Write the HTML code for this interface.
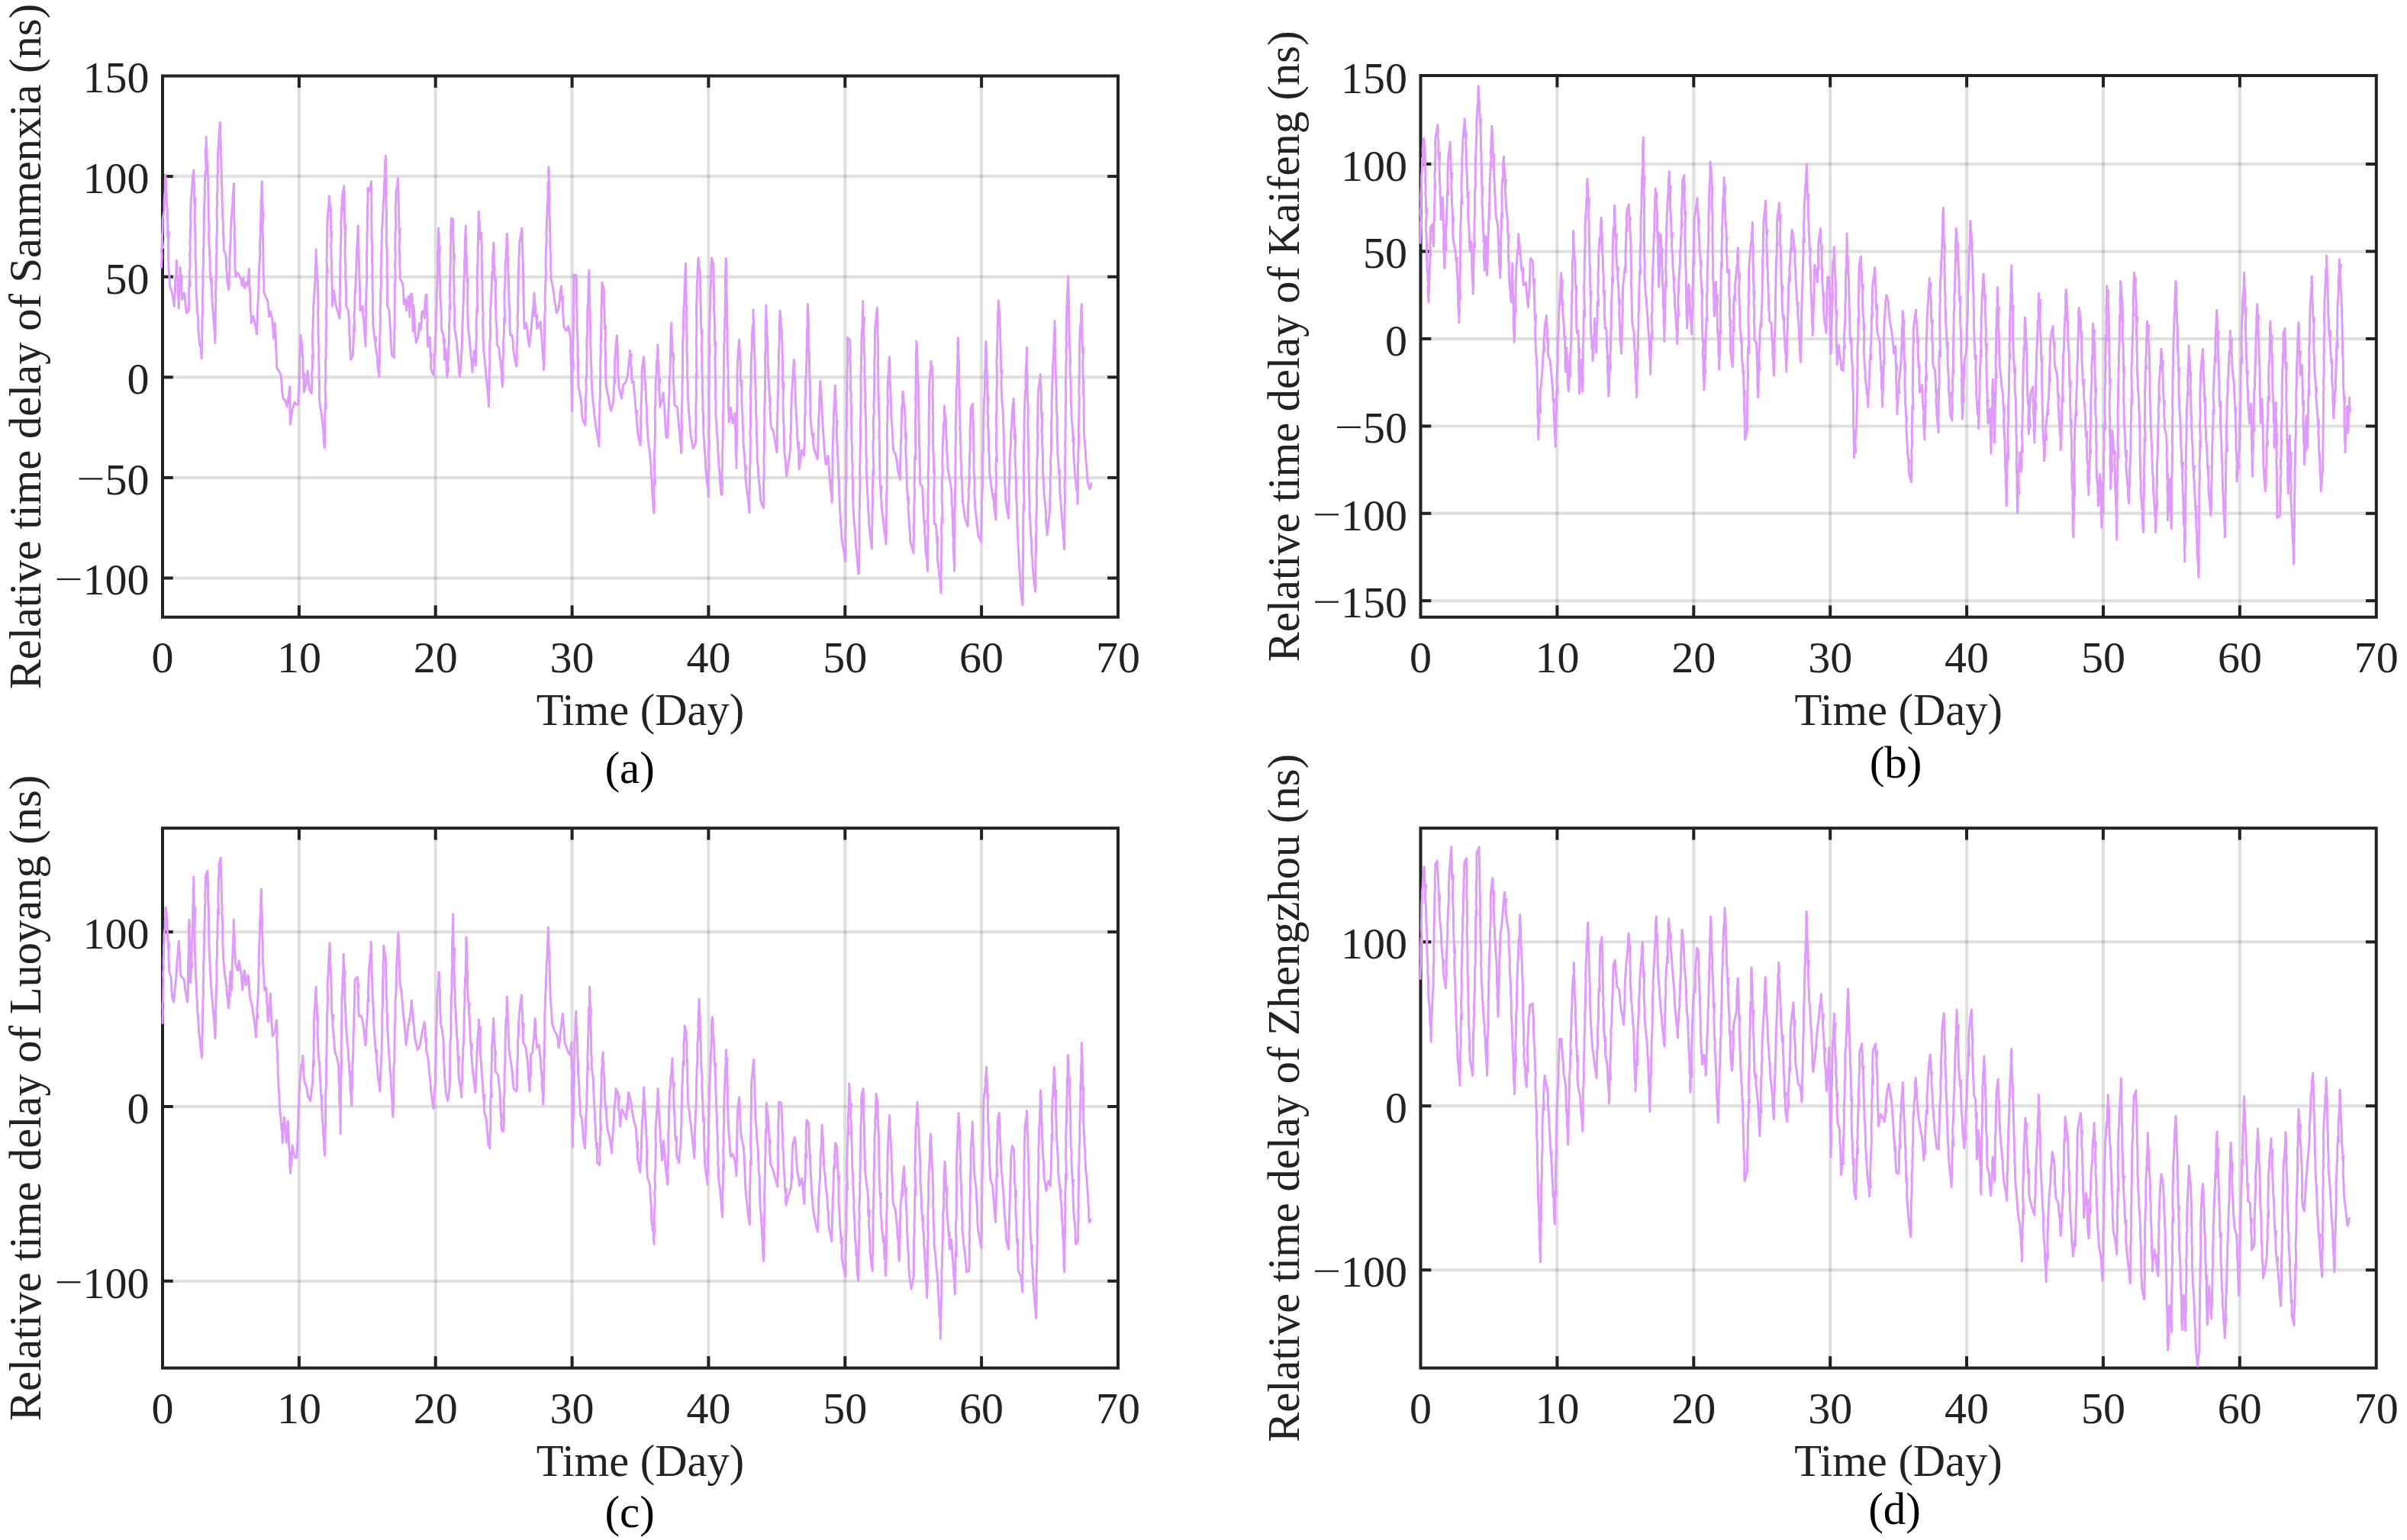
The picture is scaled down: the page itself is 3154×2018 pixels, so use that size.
<!DOCTYPE html>
<html><head><meta charset="utf-8"><style>
html,body{margin:0;padding:0;background:#fff;width:3154px;height:2018px;overflow:hidden}
svg{display:block}
text{font-family:"Liberation Serif",serif;font-size:58px;fill:#222}
text.lab{font-size:58.5px}
text.cap{font-size:59px;fill:#000}
</style></head><body>
<svg width="3154" height="2018" viewBox="0 0 3154 2018">
<rect width="3154" height="2018" fill="#fff"/>
<line x1="391.9" y1="99.5" x2="391.9" y2="808.7" stroke="#262626" stroke-opacity="0.15" stroke-width="4"/>
<line x1="570.7" y1="99.5" x2="570.7" y2="808.7" stroke="#262626" stroke-opacity="0.15" stroke-width="4"/>
<line x1="749.6" y1="99.5" x2="749.6" y2="808.7" stroke="#262626" stroke-opacity="0.15" stroke-width="4"/>
<line x1="928.4" y1="99.5" x2="928.4" y2="808.7" stroke="#262626" stroke-opacity="0.15" stroke-width="4"/>
<line x1="1107.3" y1="99.5" x2="1107.3" y2="808.7" stroke="#262626" stroke-opacity="0.15" stroke-width="4"/>
<line x1="1286.1" y1="99.5" x2="1286.1" y2="808.7" stroke="#262626" stroke-opacity="0.15" stroke-width="4"/>
<line x1="213.0" y1="231.1" x2="1465.0" y2="231.1" stroke="#262626" stroke-opacity="0.15" stroke-width="4"/>
<line x1="213.0" y1="362.7" x2="1465.0" y2="362.7" stroke="#262626" stroke-opacity="0.15" stroke-width="4"/>
<line x1="213.0" y1="494.3" x2="1465.0" y2="494.3" stroke="#262626" stroke-opacity="0.15" stroke-width="4"/>
<line x1="213.0" y1="625.9" x2="1465.0" y2="625.9" stroke="#262626" stroke-opacity="0.15" stroke-width="4"/>
<line x1="213.0" y1="757.5" x2="1465.0" y2="757.5" stroke="#262626" stroke-opacity="0.15" stroke-width="4"/>
<line x1="391.9" y1="808.7" x2="391.9" y2="793.3" stroke="#222222" stroke-width="4"/>
<line x1="391.9" y1="99.5" x2="391.9" y2="114.9" stroke="#222222" stroke-width="4"/>
<line x1="570.7" y1="808.7" x2="570.7" y2="793.3" stroke="#222222" stroke-width="4"/>
<line x1="570.7" y1="99.5" x2="570.7" y2="114.9" stroke="#222222" stroke-width="4"/>
<line x1="749.6" y1="808.7" x2="749.6" y2="793.3" stroke="#222222" stroke-width="4"/>
<line x1="749.6" y1="99.5" x2="749.6" y2="114.9" stroke="#222222" stroke-width="4"/>
<line x1="928.4" y1="808.7" x2="928.4" y2="793.3" stroke="#222222" stroke-width="4"/>
<line x1="928.4" y1="99.5" x2="928.4" y2="114.9" stroke="#222222" stroke-width="4"/>
<line x1="1107.3" y1="808.7" x2="1107.3" y2="793.3" stroke="#222222" stroke-width="4"/>
<line x1="1107.3" y1="99.5" x2="1107.3" y2="114.9" stroke="#222222" stroke-width="4"/>
<line x1="1286.1" y1="808.7" x2="1286.1" y2="793.3" stroke="#222222" stroke-width="4"/>
<line x1="1286.1" y1="99.5" x2="1286.1" y2="114.9" stroke="#222222" stroke-width="4"/>
<line x1="213.0" y1="231.1" x2="226.8" y2="231.1" stroke="#222222" stroke-width="4"/>
<line x1="1465.0" y1="231.1" x2="1451.2" y2="231.1" stroke="#222222" stroke-width="4"/>
<line x1="213.0" y1="362.7" x2="226.8" y2="362.7" stroke="#222222" stroke-width="4"/>
<line x1="1465.0" y1="362.7" x2="1451.2" y2="362.7" stroke="#222222" stroke-width="4"/>
<line x1="213.0" y1="494.3" x2="226.8" y2="494.3" stroke="#222222" stroke-width="4"/>
<line x1="1465.0" y1="494.3" x2="1451.2" y2="494.3" stroke="#222222" stroke-width="4"/>
<line x1="213.0" y1="625.9" x2="226.8" y2="625.9" stroke="#222222" stroke-width="4"/>
<line x1="1465.0" y1="625.9" x2="1451.2" y2="625.9" stroke="#222222" stroke-width="4"/>
<line x1="213.0" y1="757.5" x2="226.8" y2="757.5" stroke="#222222" stroke-width="4"/>
<line x1="1465.0" y1="757.5" x2="1451.2" y2="757.5" stroke="#222222" stroke-width="4"/>
<rect x="213.0" y="99.5" width="1252.0" height="709.2" fill="none" stroke="#222222" stroke-width="4"/>
<path d="M211.4,351.6 L211.8,343.3 L212.2,335.5 L211.7,327.4 L212.4,317.5 L213.6,324.7 L212.3,311.3 L213.0,303.3 L213.2,295.4 L213.2,287.3 L215.2,275.7 L215.2,266.4 L215.6,257.2 L216.3,247.7 L216.3,238.4 L216.7,228.9 L217.5,237.4 L217.4,246.4 L218.3,255.3 L218.3,264.1 L219.0,272.7 L219.5,281.1 L219.2,288.8 L220.0,297.0 L219.5,305.4 L220.0,311.7 L221.2,304.0 L220.4,322.1 L220.6,330.2 L220.6,338.3 L220.9,346.5 L221.1,354.6 L222.2,364.5 L222.5,375.0 L225.5,383.8 L227.1,392.4 L228.4,401.3 L228.4,393.0 L229.4,384.2 L229.7,375.6 L229.7,366.8 L230.8,358.8 L231.2,349.8 L231.3,341.4 L232.0,350.3 L231.8,359.1 L232.9,368.4 L233.2,377.0 L233.4,386.1 L234.2,395.0 L234.2,404.2 L234.7,395.2 L234.7,386.4 L235.3,377.2 L235.5,368.3 L235.9,359.0 L236.3,350.2 L236.4,358.8 L237.2,367.7 L238.4,361.8 L237.9,375.9 L238.0,384.0 L238.6,392.5 L241.5,383.8 L242.6,392.3 L243.2,401.3 L244.5,410.1 L247.4,407.2 L247.8,398.9 L247.5,391.0 L247.6,382.6 L248.2,367.3 L249.4,374.3 L248.0,358.3 L248.9,350.4 L249.0,342.1 L248.7,333.8 L249.4,325.8 L248.8,318.0 L249.4,310.0 L249.3,301.6 L250.0,293.5 L249.5,285.4 L249.8,277.1 L250.0,268.9 L250.3,261.0 L251.2,252.0 L251.8,243.5 L252.5,233.1 L253.8,223.1 L253.9,231.6 L254.5,239.9 L254.8,248.7 L254.5,256.9 L254.8,266.6 L256.0,259.5 L255.3,274.0 L255.1,282.7 L255.1,291.2 L255.8,299.8 L255.9,308.3 L256.1,317.0 L256.1,325.3 L255.9,333.6 L256.4,341.3 L256.7,349.7 L256.8,357.6 L256.9,365.5 L256.9,373.8 L257.2,381.3 L257.6,389.6 L258.1,397.7 L258.2,405.9 L259.4,414.7 L259.9,422.6 L259.8,430.9 L260.5,439.3 L261.4,449.8 L262.3,453.5 L263.5,448.7 L263.2,459.5 L264.3,470.0 L264.4,461.5 L264.7,453.6 L264.7,445.2 L264.8,436.7 L265.1,428.4 L264.8,420.4 L265.3,411.8 L265.7,404.0 L265.2,395.5 L265.7,387.1 L265.6,379.2 L266.1,370.8 L265.7,362.4 L266.1,353.8 L266.3,345.6 L266.5,337.5 L266.3,329.5 L267.1,321.0 L267.0,312.7 L267.3,304.7 L267.2,296.1 L267.4,288.0 L267.3,279.2 L267.7,270.8 L268.0,262.9 L268.5,254.4 L268.1,246.0 L268.5,237.8 L269.1,223.9 L270.3,228.3 L269.7,212.5 L269.4,204.1 L269.4,195.8 L270.4,187.7 L270.2,179.2 L270.3,188.8 L271.1,197.8 L271.1,207.0 L272.2,216.8 L272.2,226.0 L272.8,234.2 L272.7,242.0 L272.9,250.0 L273.1,258.2 L273.1,266.0 L273.1,274.5 L273.3,282.5 L273.7,290.5 L274.1,298.5 L273.6,306.5 L273.8,314.5 L274.1,322.4 L274.6,330.2 L274.9,338.3 L275.2,346.3 L275.1,354.6 L275.8,363.1 L276.3,371.1 L277.5,364.3 L277.2,379.6 L277.8,388.1 L278.1,396.3 L278.7,404.7 L279.5,413.0 L280.1,422.1 L280.7,431.2 L280.9,433.8 L282.1,426.8 L281.5,440.4 L281.9,449.5 L282.0,441.2 L282.3,433.3 L282.0,425.3 L282.4,417.6 L282.3,409.2 L282.4,401.0 L282.9,393.4 L282.4,384.9 L283.0,377.1 L283.0,369.1 L283.4,361.0 L283.3,353.0 L283.4,345.2 L283.6,337.1 L284.0,328.7 L283.6,321.0 L283.8,312.7 L284.3,305.1 L284.3,297.0 L284.6,288.8 L284.0,280.9 L284.2,272.8 L284.9,264.7 L284.3,256.8 L285.1,248.6 L285.1,240.6 L284.8,232.5 L285.5,224.6 L285.2,216.6 L285.4,208.4 L285.6,200.3 L286.3,192.1 L286.7,184.4 L287.1,176.5 L287.7,168.5 L288.3,160.2 L288.9,168.2 L288.4,176.9 L289.0,184.7 L289.4,193.3 L289.2,201.0 L289.8,209.4 L289.9,217.7 L290.3,225.6 L290.4,234.2 L290.6,242.3 L291.1,250.2 L291.0,258.6 L291.2,266.9 L291.4,275.9 L291.7,284.2 L292.5,293.3 L292.4,302.2 L292.9,310.5 L293.2,319.7 L293.3,328.3 L295.6,332.6 L296.4,341.7 L296.5,350.9 L297.3,359.8 L297.9,369.2 L300.0,379.4 L300.3,371.0 L300.2,363.0 L300.9,355.3 L300.9,347.1 L300.9,339.0 L301.2,331.0 L301.5,322.8 L302.4,314.8 L302.2,306.3 L302.6,298.2 L302.9,290.3 L303.5,281.8 L304.2,274.0 L304.9,265.2 L305.0,257.0 L305.9,248.9 L306.4,240.6 L306.8,248.9 L306.4,257.3 L306.7,266.1 L306.5,274.7 L306.7,283.0 L306.9,291.2 L307.4,299.7 L307.1,308.3 L307.6,316.8 L307.7,325.5 L307.8,333.6 L307.8,342.0 L307.9,350.7 L309.0,362.5 L310.7,357.4 L312.9,359.1 L315.5,365.8 L317.1,374.3 L318.8,364.2 L320.5,377.7 L322.2,370.9 L323.9,374.3 L325.2,364.2 L326.4,352.3 L326.7,361.0 L326.7,370.3 L327.3,378.8 L328.2,387.7 L328.0,396.7 L328.3,405.8 L329.2,414.1 L329.2,423.2 L332.1,414.5 L334.6,426.3 L336.5,437.8 L336.7,429.7 L337.3,421.5 L337.2,413.0 L337.5,405.0 L338.0,397.0 L338.5,388.9 L338.9,380.8 L339.1,372.4 L339.2,364.1 L339.3,356.2 L339.8,347.8 L340.3,339.9 L340.8,331.4 L340.5,323.0 L340.9,314.4 L341.5,306.1 L341.2,297.0 L341.7,289.1 L341.9,280.6 L341.9,272.0 L342.2,263.5 L342.9,254.7 L342.8,246.2 L343.2,237.7 L343.3,245.5 L343.5,253.7 L343.4,262.2 L344.1,269.6 L344.0,284.2 L345.2,277.8 L344.2,293.9 L344.0,302.2 L344.5,309.9 L344.6,318.0 L344.8,326.3 L344.8,334.3 L345.0,342.3 L345.1,350.3 L345.1,358.7 L345.8,366.6 L345.8,374.4 L345.8,382.7 L348.4,389.5 L350.9,394.5 L351.8,404.7 L352.6,414.8 L354.3,408.1 L356.8,418.2 L357.5,426.8 L358.0,435.1 L358.5,443.5 L359.0,433.1 L360.2,423.2 L360.6,433.3 L361.4,443.5 L361.5,453.3 L362.0,463.0 L362.6,472.9 L362.7,482.3 L365.3,485.7 L367.8,490.8 L369.0,500.9 L369.5,511.0 L371.2,522.9 L373.7,524.5 L376.2,533.0 L377.3,523.9 L378.8,515.5 L379.8,506.5 L380.2,514.7 L379.9,523.1 L380.1,531.6 L379.9,539.8 L380.2,547.8 L380.3,556.2 L381.6,546.0 L383.3,535.7 L386.2,527.0 L387.9,529.9 L390.8,529.9 L391.0,521.4 L391.5,513.4 L391.9,505.3 L392.2,497.1 L392.2,488.6 L392.4,480.5 L392.6,472.3 L393.0,464.1 L393.4,455.9 L393.6,447.7 L393.8,439.3 L396.1,453.9 L396.1,462.2 L397.0,471.2 L396.8,479.6 L397.1,488.0 L397.6,496.1 L398.8,489.7 L398.0,505.1 L398.2,513.8 L401.1,503.6 L401.9,494.8 L403.1,486.1 L403.9,494.5 L404.5,502.5 L405.5,510.9 L408.4,515.3 L408.4,507.2 L409.1,498.8 L408.5,490.9 L409.4,482.9 L409.4,474.4 L409.4,464.5 L410.6,469.5 L409.5,449.9 L409.6,441.8 L409.7,433.8 L410.2,425.5 L410.1,417.4 L410.8,409.6 L410.7,401.3 L411.5,391.6 L412.1,381.7 L412.8,372.1 L413.0,363.1 L413.1,353.8 L413.7,345.0 L413.9,335.7 L414.2,326.8 L414.2,334.9 L414.8,343.0 L415.3,351.5 L415.3,359.1 L416.2,367.6 L416.4,375.5 L416.6,383.8 L417.0,392.3 L417.0,400.5 L416.6,408.5 L416.8,416.9 L417.0,425.3 L416.9,433.6 L417.2,441.5 L417.3,449.8 L418.0,457.9 L417.6,466.0 L417.9,474.5 L418.2,482.7 L417.9,490.8 L418.3,499.6 L418.7,507.5 L418.3,516.0 L418.6,524.1 L419.9,534.4 L421.5,544.5 L422.3,552.9 L423.3,561.2 L424.1,569.9 L424.3,578.3 L425.3,586.9 L425.7,578.6 L425.8,570.9 L425.9,562.7 L425.5,554.6 L425.6,546.6 L426.1,539.0 L426.2,526.7 L427.4,534.6 L426.2,514.7 L426.1,506.3 L426.8,498.2 L426.8,490.2 L426.6,482.2 L426.5,474.1 L427.3,466.3 L427.0,458.0 L427.3,450.5 L427.4,442.2 L427.2,434.0 L428.0,425.5 L427.5,417.7 L427.4,409.3 L428.1,401.1 L428.1,392.7 L428.0,384.5 L427.9,376.3 L428.1,368.2 L428.3,352.0 L429.5,357.3 L428.0,343.5 L428.3,335.2 L428.2,327.0 L428.6,318.6 L428.8,310.1 L428.8,302.0 L428.9,292.7 L429.4,283.9 L430.1,274.8 L430.5,269.4 L431.7,276.5 L430.9,266.0 L431.2,256.7 L432.1,264.9 L433.2,272.7 L433.4,281.0 L433.5,288.9 L433.7,296.7 L433.8,310.9 L435.0,303.5 L433.7,321.1 L434.1,329.0 L434.0,336.9 L434.7,345.0 L434.2,352.8 L434.9,361.0 L434.9,368.9 L435.2,377.0 L435.2,385.1 L435.3,393.5 L435.3,401.3 L436.1,391.0 L437.6,380.9 L438.8,391.2 L440.5,401.3 L442.8,409.1 L444.9,417.4 L445.2,409.1 L445.6,400.7 L445.0,391.8 L445.8,383.7 L445.6,374.8 L445.4,366.7 L446.0,358.1 L445.6,349.5 L445.9,340.9 L446.4,332.8 L446.3,324.5 L446.6,315.8 L447.1,307.2 L446.8,298.8 L447.0,290.3 L447.4,281.8 L447.8,272.9 L448.0,269.3 L449.2,275.0 L448.1,264.2 L448.7,255.2 L450.8,243.5 L451.3,252.0 L451.2,260.1 L451.5,268.3 L451.2,277.0 L451.7,284.9 L451.8,299.9 L453.0,295.5 L452.2,310.0 L452.5,318.5 L452.0,326.4 L452.1,334.8 L452.5,343.4 L453.0,351.7 L452.6,360.0 L453.0,367.9 L453.4,376.1 L453.7,384.9 L453.7,393.2 L453.7,401.3 L456.6,407.2 L457.0,415.1 L457.6,423.4 L457.7,431.2 L457.9,439.2 L458.6,447.0 L458.4,455.4 L459.3,463.5 L459.5,471.4 L462.4,465.6 L462.7,457.1 L463.1,448.6 L463.6,440.3 L463.6,431.8 L463.8,425.9 L465.0,433.9 L464.0,414.7 L464.7,406.2 L464.8,397.5 L464.9,389.2 L465.4,380.9 L466.1,372.6 L466.3,364.0 L466.8,355.6 L467.0,347.1 L467.2,338.5 L467.4,330.0 L467.9,321.6 L468.5,313.3 L468.9,304.3 L469.2,296.1 L469.3,304.7 L469.4,313.4 L469.6,321.9 L470.1,330.5 L470.2,338.8 L470.7,347.7 L470.7,356.1 L471.0,364.7 L471.2,373.1 L471.8,381.5 L471.7,390.2 L471.8,398.5 L472.1,407.2 L475.0,401.3 L475.6,410.0 L476.2,418.6 L477.3,427.6 L477.7,436.1 L478.6,445.2 L479.1,453.9 L479.0,445.4 L479.3,437.2 L479.3,429.1 L479.2,420.8 L479.7,412.4 L479.4,404.3 L479.5,395.8 L479.9,387.5 L479.9,379.5 L480.6,370.7 L480.7,362.3 L480.8,354.4 L480.6,346.0 L480.5,337.4 L480.7,329.7 L481.0,321.2 L480.9,312.8 L481.1,304.5 L481.6,296.4 L481.2,287.7 L481.7,279.8 L481.4,271.2 L482.2,263.0 L481.9,254.4 L482.0,246.4 L484.4,250.8 L486.4,237.7 L486.8,246.0 L486.7,254.1 L486.8,262.0 L486.9,270.1 L486.9,278.2 L486.8,286.3 L487.0,294.6 L487.0,302.6 L487.0,310.6 L487.6,319.2 L487.5,326.9 L487.8,335.2 L487.4,343.1 L488.2,351.6 L487.6,359.4 L488.2,367.8 L488.1,375.8 L488.4,384.0 L488.4,392.4 L488.4,400.2 L488.3,408.5 L488.8,416.3 L488.7,424.7 L489.8,433.3 L490.6,442.3 L491.6,447.5 L492.8,442.0 L491.7,451.2 L493.1,459.8 L494.4,468.4 L494.6,476.8 L495.7,485.2 L496.9,493.4 L496.9,484.9 L497.3,476.6 L497.7,468.5 L497.3,460.1 L497.7,452.0 L497.7,443.2 L498.2,435.0 L498.0,426.6 L498.6,418.7 L498.1,410.3 L498.3,401.8 L498.9,393.3 L498.5,385.4 L499.1,377.1 L499.5,368.7 L499.3,360.2 L499.1,352.0 L499.8,343.4 L499.5,335.4 L500.1,326.9 L500.0,318.5 L500.3,310.5 L500.4,302.0 L501.2,293.0 L501.5,284.6 L502.1,275.9 L502.2,266.7 L503.0,258.2 L503.4,249.4 L503.4,240.5 L504.2,231.2 L504.3,222.2 L504.6,213.3 L505.4,204.1 L505.5,212.1 L505.9,220.5 L505.8,228.8 L506.2,237.1 L506.3,245.3 L506.2,253.6 L506.0,261.5 L505.9,269.8 L506.7,278.3 L506.5,286.1 L506.2,294.2 L506.8,302.6 L506.3,311.2 L506.5,318.9 L507.0,327.6 L507.2,335.3 L507.4,343.7 L507.0,352.3 L507.3,360.4 L507.5,368.3 L507.5,376.8 L507.7,384.9 L507.2,393.0 L507.7,401.3 L510.1,407.2 L510.5,415.5 L510.9,423.8 L511.7,432.5 L511.9,440.4 L512.2,449.0 L512.8,457.0 L513.6,465.6 L516.5,468.5 L516.4,460.6 L516.5,452.4 L516.8,444.2 L516.7,436.2 L517.2,428.3 L517.1,420.4 L517.2,412.2 L517.0,404.4 L517.4,396.4 L517.2,388.3 L517.3,380.1 L517.6,372.3 L518.0,364.2 L518.0,356.5 L517.5,348.1 L518.1,340.5 L518.2,332.4 L517.7,324.1 L517.9,316.5 L517.9,308.4 L518.4,300.1 L518.7,292.2 L518.4,284.5 L518.2,276.5 L518.4,268.0 L519.0,260.5 L518.8,252.3 L520.5,243.0 L521.5,233.3 L521.7,241.8 L522.0,249.5 L522.2,258.1 L522.3,266.2 L522.3,274.5 L522.6,282.5 L522.8,290.8 L523.0,306.0 L524.2,299.6 L523.4,315.5 L523.0,323.9 L523.5,331.7 L523.8,340.3 L523.8,348.4 L524.3,356.8 L524.2,364.7 L527.6,371.4 L528.5,380.2 L528.9,389.2 L529.3,398.4 L531.0,391.7 L532.7,406.9 L534.0,397.6 L535.2,388.3 L536.1,397.3 L536.7,406.4 L536.9,415.3 L537.0,405.2 L537.8,395.3 L538.2,384.9 L539.9,384.9 L540.3,392.8 L540.4,401.4 L540.6,412.2 L541.8,404.7 L540.7,417.7 L541.0,425.5 L541.1,433.9 L541.3,425.5 L541.4,416.8 L542.0,408.5 L541.9,400.1 L542.6,409.1 L543.1,418.1 L543.4,426.9 L543.6,435.6 L545.3,449.1 L547.9,442.3 L548.9,432.9 L549.5,423.8 L551.2,432.2 L552.3,420.3 L552.9,408.6 L555.5,406.9 L556.3,417.0 L556.5,406.8 L557.1,396.8 L558.0,386.6 L559.2,386.6 L559.1,395.1 L559.2,403.3 L559.7,412.1 L560.1,420.6 L559.7,428.6 L560.3,437.6 L560.1,445.5 L560.5,454.2 L562.2,442.3 L563.6,442.3 L563.6,450.7 L563.8,459.4 L564.3,468.6 L565.5,463.5 L564.7,475.8 L564.7,484.5 L568.1,491.3 L569.0,481.8 L568.8,472.0 L569.8,462.6 L570.3,454.0 L570.2,445.6 L571.1,437.3 L571.4,428.6 L571.3,420.3 L571.4,412.1 L572.0,403.3 L572.3,395.1 L572.1,387.1 L572.5,378.9 L573.3,371.3 L573.3,363.2 L573.6,354.8 L573.4,347.2 L574.6,354.1 L573.3,338.9 L573.5,330.9 L574.2,323.1 L574.1,315.1 L574.6,307.2 L574.6,299.0 L575.1,307.4 L575.3,315.3 L575.2,323.4 L575.4,329.3 L576.6,323.5 L575.3,339.8 L576.2,348.0 L576.1,356.1 L576.5,364.6 L576.8,372.5 L576.7,380.9 L576.8,389.7 L577.6,398.6 L577.9,407.4 L578.4,415.8 L578.2,424.8 L579.0,433.5 L581.1,439.3 L581.1,447.3 L581.6,451.6 L582.8,444.6 L582.0,455.3 L582.2,463.5 L582.5,471.4 L584.0,456.8 L584.6,466.0 L585.1,475.9 L585.4,485.5 L586.0,494.8 L586.3,486.3 L586.6,481.6 L587.8,486.5 L586.6,477.4 L587.5,468.8 L587.6,459.9 L588.3,451.2 L588.4,442.2 L588.4,434.1 L588.6,425.6 L589.1,417.4 L589.1,409.1 L589.2,399.5 L590.4,404.1 L589.2,384.5 L589.3,376.4 L589.9,368.4 L589.9,359.7 L589.9,351.8 L590.5,343.5 L590.4,335.5 L590.2,327.2 L590.9,318.9 L590.7,310.8 L590.7,302.3 L591.2,293.9 L591.3,285.9 L593.6,287.3 L593.4,296.0 L593.6,304.3 L593.9,312.8 L594.3,321.1 L594.5,329.4 L594.4,339.5 L595.6,333.6 L594.3,354.5 L594.7,363.0 L594.6,371.4 L595.3,380.0 L594.9,388.7 L595.0,396.9 L595.6,405.5 L595.7,413.8 L595.5,422.1 L595.7,430.5 L597.4,439.4 L598.6,448.1 L599.0,457.0 L600.1,465.6 L600.8,474.6 L601.5,484.2 L602.4,493.4 L603.4,483.9 L604.1,474.9 L604.5,465.6 L605.2,457.1 L605.5,448.1 L605.6,439.5 L605.9,430.3 L606.1,422.1 L606.6,413.1 L606.8,404.0 L607.2,395.5 L607.4,386.7 L607.7,378.4 L607.8,370.2 L608.3,361.7 L608.8,353.9 L608.4,345.3 L609.0,337.2 L609.3,326.3 L610.5,332.6 L609.2,320.9 L609.5,312.7 L609.9,304.3 L610.3,296.1 L610.2,304.3 L610.9,311.9 L610.5,320.1 L610.7,328.4 L611.3,336.2 L611.7,344.6 L611.4,352.4 L612.0,360.3 L612.0,370.0 L613.2,364.8 L612.7,384.8 L612.7,392.4 L612.9,400.5 L612.7,408.7 L613.1,416.7 L613.2,424.7 L613.6,432.6 L615.0,441.0 L615.5,448.7 L616.1,456.8 L617.1,467.1 L618.4,477.5 L619.1,487.5 L619.6,478.5 L620.7,468.9 L621.1,459.8 L622.6,469.5 L623.4,478.8 L623.8,470.5 L623.8,462.6 L623.6,454.9 L624.0,446.4 L624.5,438.4 L624.0,430.3 L624.1,422.6 L624.8,403.3 L626.0,408.9 L625.3,389.8 L625.5,381.7 L625.3,373.8 L625.2,366.0 L625.5,358.0 L625.5,349.6 L626.1,341.5 L626.2,333.7 L626.0,325.7 L626.6,317.7 L626.5,309.4 L626.9,301.1 L627.0,293.2 L627.2,285.1 L627.2,277.1 L627.4,286.3 L628.6,295.1 L628.9,304.6 L629.3,313.6 L630.8,304.9 L630.9,312.8 L631.4,321.2 L631.2,329.6 L631.1,337.8 L631.7,345.8 L631.5,354.1 L631.7,362.0 L632.0,370.0 L632.1,378.1 L632.3,386.3 L632.3,394.4 L632.5,403.0 L633.0,410.7 L632.7,418.8 L632.7,427.2 L633.2,435.6 L633.0,443.6 L633.5,451.9 L633.7,459.8 L634.9,468.8 L635.7,477.3 L636.6,486.1 L637.1,495.7 L638.4,505.0 L639.2,514.0 L640.0,523.5 L640.4,532.8 L640.6,524.3 L640.6,516.2 L641.3,507.7 L641.0,498.9 L641.1,490.4 L641.6,482.2 L642.0,473.9 L641.6,465.3 L641.7,456.7 L641.9,448.5 L642.4,440.4 L642.7,431.5 L642.2,423.0 L642.7,414.6 L642.6,406.4 L643.2,398.0 L643.3,389.6 L644.1,380.7 L644.3,371.9 L644.5,362.8 L644.9,355.9 L646.1,363.2 L645.7,344.6 L645.6,336.2 L646.4,326.9 L646.8,318.0 L647.2,326.1 L647.4,334.8 L647.2,342.7 L648.2,351.5 L648.0,359.5 L648.5,368.3 L649.7,363.8 L649.3,384.6 L649.4,393.0 L649.5,401.1 L649.9,409.6 L649.8,417.7 L650.7,426.3 L651.0,434.6 L651.1,442.9 L651.2,451.0 L654.1,456.8 L654.5,465.1 L655.9,473.5 L656.5,481.8 L657.3,490.1 L657.6,498.5 L658.5,506.5 L659.1,498.1 L659.1,489.8 L659.1,481.3 L658.9,472.7 L659.7,464.0 L659.6,455.7 L659.5,447.3 L660.3,438.9 L660.6,430.4 L660.6,416.4 L661.8,423.0 L661.1,405.3 L661.1,396.5 L660.9,388.3 L661.1,380.1 L661.8,371.6 L662.2,363.3 L662.0,354.6 L662.0,346.3 L663.1,338.5 L663.1,330.7 L663.7,322.6 L663.9,314.6 L664.4,306.3 L664.8,314.6 L665.3,323.0 L664.9,331.5 L665.6,339.6 L665.5,347.8 L665.8,356.2 L666.5,364.3 L666.6,372.9 L666.8,381.4 L666.9,389.1 L667.1,397.8 L667.8,406.0 L668.0,414.2 L667.8,422.5 L668.1,430.8 L668.7,439.3 L670.8,439.3 L672.0,447.1 L672.3,455.3 L673.5,463.2 L674.6,471.4 L676.9,480.2 L677.2,472.1 L677.2,464.4 L677.1,456.0 L677.9,447.8 L677.9,439.7 L678.0,432.0 L678.5,424.1 L678.1,415.9 L678.7,407.6 L678.9,399.7 L678.6,392.1 L679.1,383.9 L679.1,375.5 L679.2,367.7 L679.3,359.5 L679.6,351.6 L679.8,343.6 L680.0,335.8 L680.6,327.3 L680.4,319.5 L682.4,309.1 L683.9,299.0 L684.4,307.3 L684.2,315.5 L684.6,323.9 L684.8,331.6 L685.1,340.2 L685.5,348.2 L685.4,356.8 L685.6,364.9 L685.8,372.7 L685.7,381.0 L686.0,389.4 L686.1,397.7 L686.5,405.9 L686.7,413.9 L686.6,422.4 L687.2,430.5 L689.2,423.2 L691.0,433.2 L691.8,443.6 L693.6,453.9 L694.3,445.0 L695.8,436.3 L696.5,427.6 L697.1,418.8 L697.9,410.2 L698.3,405.6 L699.5,413.4 L698.7,401.4 L699.7,392.8 L700.0,383.8 L700.6,393.0 L701.6,402.2 L701.9,411.8 L702.7,417.3 L703.9,412.7 L703.4,420.9 L703.8,430.5 L708.2,421.8 L708.8,430.7 L709.7,439.6 L710.3,448.9 L710.8,457.9 L711.5,466.6 L712.2,475.5 L712.6,484.6 L712.9,476.4 L713.1,468.4 L713.0,460.2 L713.6,451.8 L713.7,443.4 L713.4,435.2 L713.6,427.5 L713.6,419.1 L714.0,410.9 L714.6,402.5 L714.0,394.3 L714.3,386.0 L714.4,378.2 L715.0,369.7 L715.4,361.5 L715.3,353.4 L715.1,345.4 L715.2,337.1 L715.4,328.8 L716.0,321.0 L716.2,312.4 L715.9,304.2 L716.4,296.1 L716.6,287.8 L717.0,279.1 L717.1,270.6 L717.7,261.9 L718.0,253.1 L717.8,244.8 L718.3,238.8 L719.5,244.3 L718.5,227.3 L719.0,218.7 L719.5,226.9 L719.2,235.3 L719.8,243.1 L719.5,251.6 L720.3,259.9 L719.9,267.8 L719.9,276.1 L720.1,284.0 L720.6,292.3 L720.4,300.7 L721.1,309.1 L720.8,317.2 L721.0,325.1 L721.7,333.5 L721.8,341.5 L721.6,349.7 L722.0,358.3 L722.2,366.2 L724.1,375.0 L725.7,383.8 L726.5,392.8 L728.0,401.0 L729.2,410.1 L732.2,404.2 L733.3,394.3 L734.0,384.4 L735.4,375.0 L735.7,383.9 L736.6,393.4 L737.8,388.7 L737.2,401.0 L737.7,409.8 L738.3,419.1 L738.9,427.6 L741.8,433.5 L744.7,427.6 L747.6,442.2 L748.0,450.2 L747.6,458.2 L748.1,466.5 L748.3,474.4 L748.7,482.2 L748.6,490.2 L748.8,498.7 L749.0,506.7 L749.1,514.3 L749.4,522.7 L749.3,530.8 L749.7,538.7 L749.8,530.5 L749.8,522.7 L749.8,514.3 L750.1,506.5 L750.0,498.4 L750.1,490.0 L750.5,477.8 L751.7,483.0 L750.5,466.1 L751.0,457.9 L750.9,449.3 L751.2,441.6 L751.2,433.2 L751.2,425.3 L751.6,417.4 L751.1,408.8 L751.4,400.7 L751.8,392.9 L751.7,384.7 L751.9,376.3 L751.9,368.5 L752.0,360.4 L754.9,360.4 L755.4,368.2 L755.4,376.6 L755.4,384.9 L755.5,393.0 L755.8,401.0 L756.0,408.9 L756.2,417.4 L756.0,425.2 L756.4,433.6 L756.9,441.3 L757.0,449.9 L757.2,458.0 L756.9,466.0 L757.6,474.1 L757.3,482.2 L757.7,490.4 L757.8,498.3 L757.9,506.5 L760.8,521.1 L762.1,531.1 L762.3,540.7 L763.7,550.4 L766.9,557.2 L767.2,548.7 L767.1,540.8 L767.6,532.4 L767.2,524.5 L767.9,516.0 L768.3,507.5 L767.7,499.3 L768.7,491.4 L768.8,482.7 L768.8,474.9 L769.1,466.7 L768.9,458.3 L768.7,450.1 L769.1,441.7 L769.8,433.3 L769.4,425.0 L769.8,416.9 L769.7,407.9 L770.5,397.2 L771.7,405.1 L770.7,390.1 L771.0,381.2 L771.1,371.8 L771.3,363.2 L771.9,354.1 L772.2,362.5 L772.1,370.3 L772.1,378.5 L772.4,387.1 L772.6,395.3 L772.6,403.5 L773.3,411.3 L773.2,419.9 L773.6,428.1 L773.7,435.9 L773.7,444.5 L773.8,452.5 L774.2,460.7 L774.3,469.2 L774.6,477.2 L775.2,485.6 L774.9,493.7 L775.4,502.3 L775.7,510.4 L776.4,518.2 L777.2,526.6 L778.1,534.4 L778.6,542.5 L780.1,552.6 L781.5,563.0 L783.3,573.7 L785.0,584.9 L784.9,576.5 L785.4,568.3 L785.1,560.6 L785.2,552.0 L785.6,544.0 L785.9,536.0 L785.8,527.5 L786.5,519.8 L786.4,511.3 L786.5,503.3 L786.7,495.3 L786.6,486.8 L786.7,479.0 L786.7,470.8 L787.4,462.4 L786.9,454.4 L787.4,446.1 L787.6,437.9 L787.6,429.1 L788.2,420.9 L787.9,412.3 L787.9,403.9 L788.5,395.7 L788.5,387.3 L788.7,378.8 L788.8,370.1 L791.2,378.9 L791.7,387.4 L791.2,395.7 L791.8,403.9 L792.1,412.3 L792.3,421.0 L792.4,431.6 L793.6,426.2 L793.1,446.0 L792.9,454.3 L793.5,462.4 L793.4,471.0 L793.6,479.6 L793.6,487.7 L793.9,496.2 L794.1,504.6 L795.8,513.6 L797.6,522.1 L798.9,530.4 L800.5,538.2 L803.4,527.9 L804.1,519.7 L804.3,511.8 L804.8,503.6 L805.0,493.4 L806.2,501.4 L805.6,487.9 L805.6,480.0 L805.7,471.8 L806.4,463.6 L807.1,451.5 L808.4,439.7 L808.6,448.0 L809.2,456.7 L809.4,464.8 L809.4,473.8 L809.7,481.9 L809.9,490.7 L810.9,499.1 L810.8,507.5 L814.5,522.1 L815.5,513.5 L816.6,504.6 L819.5,501.6 L822.4,492.9 L823.1,484.4 L823.9,476.2 L824.6,467.8 L825.8,473.3 L825.4,459.3 L826.2,470.3 L827.4,464.5 L826.5,476.5 L827.5,484.5 L827.8,493.1 L828.3,501.6 L830.3,500.2 L830.8,510.5 L831.9,520.7 L832.7,530.9 L833.2,539.4 L833.7,542.6 L834.9,538.5 L833.9,548.6 L835.0,557.3 L835.6,565.9 L837.0,574.9 L839.1,583.5 L839.5,575.0 L839.7,566.5 L839.9,558.1 L839.5,550.0 L840.2,541.5 L839.9,533.0 L840.5,524.8 L840.7,516.5 L841.1,507.9 L841.1,499.6 L841.0,491.0 L841.4,482.6 L843.5,468.0 L844.3,477.1 L844.7,486.2 L844.9,495.6 L845.8,504.6 L846.2,512.4 L846.4,520.4 L846.9,528.8 L847.6,536.8 L847.6,544.4 L847.6,552.5 L848.3,560.6 L848.7,568.8 L849.5,577.5 L850.4,586.5 L851.7,595.1 L852.2,603.2 L853.1,611.5 L853.0,619.9 L854.0,628.3 L854.4,636.4 L854.6,644.8 L855.7,654.3 L855.8,663.4 L856.9,672.6 L857.2,664.7 L857.3,656.7 L856.9,648.6 L856.9,640.7 L857.5,627.5 L858.7,634.7 L857.5,616.4 L857.5,608.5 L857.4,600.5 L857.7,592.7 L858.1,584.6 L858.1,576.5 L858.5,568.7 L858.5,560.8 L858.4,552.6 L858.2,544.8 L858.2,536.8 L859.1,528.9 L858.8,520.7 L859.2,512.5 L859.0,504.6 L859.4,495.8 L860.4,486.8 L860.2,478.0 L861.1,469.5 L861.8,461.0 L861.9,452.0 L862.5,460.3 L862.1,468.5 L863.0,476.5 L863.1,484.5 L863.4,492.8 L863.7,504.1 L864.9,496.4 L863.5,509.0 L864.3,517.2 L864.4,525.6 L864.8,533.8 L867.2,524.5 L869.2,514.8 L869.4,523.1 L870.5,531.2 L871.0,539.6 L871.3,548.2 L871.9,556.8 L872.2,564.6 L873.0,573.2 L875.0,573.2 L875.2,565.1 L875.4,556.2 L875.7,548.0 L875.9,539.6 L876.4,531.7 L876.3,522.8 L877.2,514.6 L877.0,506.6 L877.1,497.7 L878.0,489.8 L878.0,481.2 L878.5,473.1 L878.6,464.8 L878.6,456.0 L878.9,448.0 L879.1,439.5 L879.3,430.9 L880.0,422.7 L879.9,431.1 L880.3,439.6 L880.9,448.0 L880.8,455.7 L881.6,467.5 L882.8,463.4 L882.0,480.8 L882.3,489.4 L882.2,497.7 L883.0,505.7 L883.3,514.2 L883.7,522.7 L883.8,530.9 L887.6,533.8 L888.3,542.5 L888.9,550.9 L889.7,559.4 L890.5,567.9 L891.2,576.7 L892.2,585.4 L892.6,593.7 L893.1,585.4 L893.0,577.2 L893.0,569.5 L893.5,561.3 L893.3,553.0 L893.1,545.1 L893.5,536.9 L893.7,528.6 L893.9,520.6 L894.1,512.1 L894.0,504.3 L894.4,496.2 L894.5,488.1 L894.6,479.4 L894.6,471.6 L894.8,463.3 L894.6,455.4 L894.8,447.0 L895.2,438.9 L895.5,430.8 L895.5,422.7 L895.7,414.0 L895.7,405.6 L896.6,396.8 L896.8,388.1 L896.9,379.7 L897.4,370.8 L897.7,362.8 L898.0,354.0 L898.4,345.3 L898.8,353.6 L898.6,361.6 L899.2,370.3 L898.8,378.4 L899.4,387.0 L899.0,395.3 L899.7,403.3 L899.2,411.7 L899.8,420.0 L899.4,428.0 L900.1,436.6 L900.2,444.6 L899.9,453.2 L900.1,461.5 L900.4,469.3 L900.9,477.8 L900.6,486.0 L900.5,494.2 L901.3,502.5 L901.2,510.7 L901.3,519.2 L902.1,528.1 L902.3,536.5 L903.3,545.8 L903.9,554.5 L904.3,563.0 L905.2,571.0 L906.9,579.8 L908.1,587.8 L911.6,580.5 L911.9,572.5 L911.4,564.0 L912.0,555.9 L912.0,547.9 L911.8,539.9 L911.9,531.7 L912.3,523.4 L912.4,515.1 L912.2,506.7 L912.2,489.3 L913.4,495.3 L912.5,474.2 L912.7,466.1 L912.8,458.0 L912.2,449.8 L912.6,441.3 L912.8,433.0 L912.8,424.8 L912.9,417.2 L912.5,408.8 L912.6,400.7 L913.0,392.4 L913.3,384.0 L913.0,376.0 L913.8,366.4 L914.0,356.9 L914.4,347.6 L915.1,338.0 L916.0,348.1 L917.4,358.4 L917.7,366.5 L917.6,374.6 L918.0,382.4 L917.8,391.0 L918.1,398.6 L918.4,407.1 L918.6,415.1 L918.6,423.3 L919.1,437.7 L920.3,432.0 L919.2,455.7 L919.8,463.8 L919.8,471.8 L919.6,479.9 L920.0,487.7 L920.6,496.2 L920.2,504.0 L920.5,511.9 L920.7,520.0 L920.9,528.2 L920.8,536.3 L921.6,544.5 L921.6,552.9 L921.8,560.6 L921.8,568.8 L922.8,577.6 L923.1,586.1 L923.8,595.0 L924.5,603.6 L924.7,612.4 L925.6,621.4 L926.3,631.0 L927.9,641.2 L928.5,650.7 L928.3,642.8 L928.2,634.1 L928.4,626.3 L928.4,618.1 L929.1,610.1 L928.6,601.9 L928.6,593.7 L929.2,585.7 L929.3,577.6 L928.6,569.4 L929.0,561.3 L929.4,553.3 L929.0,544.7 L929.2,536.8 L929.1,528.6 L928.9,520.5 L928.9,512.5 L929.3,504.0 L929.1,496.2 L929.4,488.1 L929.2,479.6 L929.2,471.4 L929.6,463.2 L929.5,455.0 L929.2,447.3 L929.2,439.1 L929.6,430.7 L929.7,422.7 L930.1,414.5 L930.4,405.8 L930.7,397.5 L930.9,388.9 L930.8,380.1 L931.6,372.2 L931.7,363.2 L931.7,355.2 L932.0,346.5 L932.6,338.0 L934.9,346.8 L934.9,354.8 L935.2,363.1 L935.2,371.8 L935.5,379.7 L935.4,388.4 L936.0,396.5 L935.4,404.8 L936.0,412.6 L936.3,421.3 L936.6,429.1 L936.3,437.9 L936.6,452.4 L937.8,448.2 L936.9,470.6 L937.0,478.8 L937.3,487.1 L937.4,495.5 L937.6,503.8 L937.7,511.9 L937.4,520.0 L938.1,528.4 L937.9,536.7 L938.0,546.1 L939.1,555.4 L939.1,564.6 L940.2,573.8 L940.6,582.7 L940.8,592.2 L941.6,601.7 L942.0,610.5 L943.1,620.2 L943.2,629.4 L944.3,638.4 L944.9,647.7 L946.0,648.3 L946.2,640.0 L946.6,632.2 L946.0,624.0 L946.3,615.8 L946.9,607.6 L946.6,599.6 L946.7,591.6 L947.0,583.7 L947.1,575.0 L947.3,567.2 L947.2,558.9 L947.2,550.8 L947.4,543.1 L947.9,534.7 L947.9,526.6 L947.7,518.6 L947.9,510.6 L948.2,502.5 L948.5,493.9 L948.4,486.1 L948.6,478.0 L948.6,469.8 L948.9,461.3 L948.7,453.0 L949.5,445.1 L949.0,436.9 L949.9,428.6 L949.5,420.7 L950.2,412.2 L950.1,404.0 L950.5,396.2 L950.2,387.4 L950.7,379.6 L950.4,371.3 L950.4,362.9 L950.6,355.1 L951.0,346.9 L951.3,338.5 L951.6,346.6 L951.9,355.3 L951.8,363.2 L952.0,371.8 L951.7,379.9 L952.3,388.6 L952.4,396.7 L952.5,404.9 L952.7,413.1 L952.5,421.5 L953.2,429.9 L953.0,438.4 L953.1,446.8 L953.1,455.0 L953.6,462.9 L953.6,471.5 L953.9,479.7 L954.2,487.8 L954.1,495.9 L954.0,504.3 L954.6,512.5 L954.6,520.3 L954.4,528.8 L954.6,537.0 L955.2,545.1 L955.1,553.3 L956.5,543.9 L957.7,534.3 L958.7,544.6 L960.1,554.8 L963.0,541.6 L963.5,550.5 L963.3,559.8 L964.0,568.6 L964.1,577.5 L964.0,586.2 L964.2,595.5 L965.1,604.1 L965.0,613.2 L965.1,605.0 L964.8,596.6 L965.2,588.4 L965.4,580.4 L965.4,572.6 L965.8,564.5 L965.9,556.2 L965.6,547.6 L965.7,540.0 L966.0,531.4 L966.0,523.2 L966.0,515.1 L966.0,506.8 L966.3,498.6 L965.9,490.6 L966.3,482.7 L966.5,474.4 L967.2,464.7 L967.7,455.1 L968.8,445.2 L968.8,453.4 L969.7,461.6 L969.9,469.7 L970.4,478.0 L970.3,486.1 L970.2,494.2 L971.0,506.3 L972.2,498.7 L971.9,518.6 L971.8,527.0 L972.5,536.1 L973.0,544.4 L973.1,553.3 L973.6,561.8 L973.9,570.9 L974.0,579.7 L974.7,588.4 L975.6,597.1 L975.9,605.6 L976.6,616.6 L977.8,611.5 L976.7,623.5 L977.6,632.2 L978.6,642.2 L980.0,652.0 L981.1,661.7 L982.0,671.7 L982.2,663.3 L981.9,655.8 L981.9,647.3 L982.3,639.7 L982.5,631.2 L982.6,623.5 L982.5,615.3 L983.0,607.4 L983.1,599.2 L983.2,590.9 L983.3,582.9 L983.4,574.7 L982.7,567.0 L983.6,558.6 L983.5,550.9 L983.4,542.8 L983.5,534.5 L983.9,526.5 L983.3,518.3 L983.4,510.3 L984.1,502.3 L984.2,494.0 L984.0,486.1 L984.1,477.9 L984.5,469.9 L984.8,462.1 L985.5,453.7 L985.2,445.8 L985.5,437.9 L986.2,426.5 L987.4,432.5 L987.0,413.6 L987.0,405.8 L987.1,414.1 L987.7,422.0 L987.9,429.6 L987.9,438.2 L988.1,445.7 L988.5,454.1 L988.5,461.9 L989.0,470.0 L989.2,478.2 L989.3,486.1 L989.4,494.8 L989.9,503.1 L990.4,511.5 L990.0,520.0 L990.6,528.7 L990.3,537.4 L990.9,546.0 L991.4,554.6 L991.1,563.1 L991.5,571.7 L991.8,580.1 L992.3,588.7 L992.2,597.2 L992.5,605.6 L993.5,614.1 L993.8,622.2 L994.4,630.3 L995.5,638.7 L996.1,647.2 L996.6,655.6 L1000.4,665.8 L1000.7,657.7 L1000.9,649.6 L1000.5,641.2 L1000.7,632.9 L1001.0,624.4 L1001.3,616.5 L1000.9,607.9 L1000.9,600.0 L1001.4,591.4 L1001.3,583.2 L1001.6,575.3 L1001.3,567.0 L1001.7,558.7 L1001.9,550.2 L1001.5,542.0 L1002.0,533.8 L1002.2,525.6 L1002.3,517.1 L1002.6,509.0 L1002.4,500.7 L1002.5,492.3 L1003.0,484.0 L1002.5,475.7 L1002.5,467.1 L1003.0,459.0 L1003.5,450.2 L1003.1,441.6 L1003.1,433.7 L1003.4,425.4 L1003.5,416.6 L1003.9,408.4 L1003.9,399.9 L1003.8,408.6 L1004.2,417.3 L1005.1,425.8 L1004.6,434.7 L1005.4,443.1 L1005.6,451.8 L1005.7,460.2 L1006.3,469.2 L1006.2,477.6 L1006.9,486.5 L1006.8,494.9 L1007.6,502.8 L1007.8,510.7 L1008.5,518.8 L1008.5,526.4 L1009.7,521.4 L1008.8,534.9 L1009.5,543.3 L1009.7,551.3 L1010.3,559.2 L1013.3,565.0 L1014.9,574.4 L1016.5,583.6 L1017.9,592.8 L1018.3,584.7 L1018.4,576.4 L1018.2,568.1 L1018.5,559.9 L1018.7,551.5 L1018.7,543.6 L1019.2,535.2 L1019.0,527.1 L1019.5,519.2 L1019.6,510.8 L1019.9,502.4 L1020.0,494.5 L1020.0,486.1 L1020.6,477.2 L1020.4,468.3 L1020.4,459.7 L1021.1,451.3 L1021.4,442.2 L1021.2,433.6 L1021.2,424.6 L1021.8,415.8 L1022.0,407.2 L1023.0,416.3 L1023.2,424.5 L1024.4,433.5 L1024.2,441.8 L1025.0,449.9 L1024.9,457.9 L1025.3,466.0 L1025.5,474.1 L1025.5,481.9 L1025.8,490.5 L1025.5,498.6 L1025.9,509.8 L1027.1,501.9 L1026.1,522.5 L1026.0,530.6 L1026.3,539.1 L1026.4,546.9 L1027.0,555.5 L1027.3,563.5 L1027.3,571.6 L1027.3,579.6 L1027.7,588.2 L1028.4,597.0 L1029.5,606.0 L1029.8,614.7 L1030.8,623.5 L1032.0,614.7 L1033.3,606.0 L1034.7,597.0 L1035.5,588.4 L1036.0,580.1 L1035.6,572.0 L1036.6,564.0 L1036.4,556.0 L1036.9,547.8 L1036.5,539.5 L1037.1,531.5 L1037.1,523.2 L1037.5,515.3 L1038.2,506.4 L1038.7,497.9 L1039.3,489.1 L1039.8,480.1 L1040.4,471.5 L1041.0,479.6 L1040.9,487.8 L1041.8,495.9 L1042.0,504.2 L1042.0,512.4 L1042.3,520.5 L1042.4,528.2 L1043.0,536.4 L1043.4,544.6 L1043.9,553.6 L1044.6,562.2 L1044.6,570.8 L1045.4,579.8 L1045.7,587.5 L1046.9,580.1 L1046.6,596.9 L1046.8,606.2 L1047.2,614.7 L1048.4,606.3 L1049.5,598.2 L1050.1,589.9 L1053.6,597.2 L1053.7,588.6 L1054.3,580.8 L1054.4,571.9 L1054.3,563.6 L1054.5,555.5 L1054.7,547.2 L1055.4,538.6 L1054.9,530.6 L1055.2,521.8 L1055.9,513.5 L1055.5,505.1 L1055.8,496.8 L1056.6,488.6 L1056.5,480.3 L1057.0,472.1 L1056.9,463.7 L1057.1,456.4 L1058.3,463.7 L1057.2,447.6 L1057.3,439.5 L1057.7,430.9 L1058.1,422.8 L1058.0,414.5 L1058.3,406.5 L1058.5,398.4 L1058.9,406.6 L1059.0,414.2 L1059.4,422.4 L1059.6,430.5 L1059.2,438.6 L1059.9,446.5 L1059.6,454.6 L1060.4,462.4 L1060.5,470.5 L1060.6,478.5 L1060.6,486.6 L1060.9,494.4 L1061.3,502.3 L1061.5,510.6 L1061.8,518.3 L1061.7,526.2 L1062.1,534.5 L1061.7,542.1 L1062.3,550.4 L1063.2,559.7 L1064.1,569.6 L1065.1,574.6 L1066.3,567.9 L1065.4,578.9 L1066.7,588.4 L1071.1,601.5 L1071.6,593.1 L1071.9,584.4 L1072.3,575.9 L1072.1,567.2 L1072.7,558.8 L1072.6,550.1 L1073.1,542.2 L1073.7,533.4 L1073.6,525.0 L1074.2,516.3 L1074.2,508.1 L1074.9,499.3 L1075.4,508.3 L1076.3,517.2 L1076.6,526.1 L1077.0,535.1 L1077.4,544.3 L1078.0,553.4 L1078.4,562.1 L1079.1,571.7 L1079.6,580.7 L1080.3,589.9 L1081.2,599.2 L1082.2,608.8 L1085.1,597.2 L1085.5,605.7 L1086.4,614.8 L1086.9,623.8 L1087.9,632.5 L1088.4,640.8 L1089.6,649.5 L1090.1,658.5 L1090.5,650.6 L1090.4,642.4 L1090.4,633.8 L1090.6,625.8 L1091.1,617.8 L1090.8,609.9 L1091.2,601.8 L1091.0,593.3 L1091.2,585.2 L1091.4,577.2 L1091.8,569.2 L1092.0,560.6 L1092.3,552.6 L1092.4,544.6 L1092.9,534.9 L1093.5,524.2 L1094.7,531.7 L1093.6,514.9 L1094.5,505.1 L1094.5,513.3 L1095.0,521.1 L1095.4,529.4 L1095.2,537.6 L1096.2,545.4 L1096.2,556.1 L1097.4,551.4 L1096.2,561.6 L1096.4,569.7 L1096.6,577.9 L1097.3,585.8 L1097.4,594.2 L1098.1,602.8 L1098.3,610.8 L1098.5,619.4 L1099.1,627.7 L1099.6,636.4 L1099.3,644.3 L1100.1,652.8 L1100.3,661.4 L1100.7,669.9 L1101.3,677.9 L1101.5,686.1 L1102.5,693.9 L1102.7,702.4 L1103.7,710.5 L1105.2,719.3 L1106.5,727.9 L1107.6,736.0 L1108.0,727.6 L1108.1,719.7 L1107.9,711.6 L1107.8,703.2 L1107.9,695.3 L1108.4,687.0 L1108.1,678.7 L1108.2,670.4 L1108.2,662.4 L1108.2,654.7 L1108.6,646.4 L1108.4,638.1 L1109.1,630.2 L1109.1,621.9 L1108.9,613.6 L1108.9,605.7 L1108.8,597.4 L1109.0,589.1 L1109.0,581.0 L1108.9,572.9 L1109.1,564.7 L1109.6,556.4 L1109.3,548.1 L1109.4,540.1 L1109.8,532.3 L1109.6,523.9 L1109.5,515.7 L1110.2,507.3 L1109.9,499.1 L1110.0,491.2 L1110.2,482.9 L1110.7,475.0 L1110.6,466.9 L1110.7,458.5 L1110.4,450.4 L1110.6,442.3 L1113.5,445.2 L1114.0,453.5 L1114.2,461.3 L1113.7,469.3 L1114.2,477.1 L1114.4,485.3 L1114.8,493.3 L1114.7,501.2 L1114.5,509.1 L1115.4,517.4 L1114.9,525.5 L1115.7,533.1 L1115.4,541.2 L1115.4,549.0 L1115.8,557.6 L1115.8,565.4 L1115.8,573.2 L1116.2,581.3 L1116.8,589.0 L1116.3,597.2 L1116.8,605.1 L1117.3,613.5 L1116.7,621.5 L1117.6,629.6 L1117.4,637.1 L1117.4,645.5 L1117.7,653.2 L1117.9,661.4 L1118.4,670.0 L1118.9,679.3 L1119.4,687.5 L1120.6,696.3 L1121.0,705.2 L1121.4,714.1 L1122.3,723.4 L1123.2,732.8 L1123.9,742.3 L1124.9,752.0 L1125.5,751.1 L1125.6,743.3 L1125.9,734.7 L1125.5,726.9 L1126.0,718.7 L1126.2,710.6 L1126.0,702.2 L1126.1,694.4 L1126.1,686.4 L1126.1,678.4 L1126.1,669.9 L1126.7,662.2 L1126.4,653.8 L1126.8,646.0 L1127.0,637.8 L1126.9,629.5 L1126.7,621.7 L1126.6,613.4 L1126.9,605.2 L1127.1,597.1 L1127.2,589.0 L1127.4,580.8 L1127.6,573.1 L1127.6,564.7 L1127.2,556.8 L1127.5,548.9 L1128.0,540.4 L1127.7,532.5 L1128.1,524.2 L1128.2,516.4 L1128.1,508.3 L1128.1,500.3 L1127.9,491.8 L1128.3,484.0 L1128.5,475.6 L1128.4,467.7 L1128.9,459.8 L1128.6,451.4 L1129.0,443.4 L1129.3,435.1 L1130.1,427.0 L1130.1,419.1 L1130.2,410.6 L1130.8,402.7 L1130.7,394.6 L1130.9,403.0 L1130.8,411.1 L1131.5,421.3 L1132.7,416.1 L1131.9,427.3 L1131.5,434.9 L1132.3,443.5 L1132.1,451.6 L1132.2,459.8 L1132.8,467.7 L1133.1,475.8 L1132.9,483.8 L1133.0,492.0 L1133.3,499.7 L1133.2,507.7 L1133.9,516.1 L1133.9,523.8 L1133.6,532.2 L1134.1,540.1 L1134.5,548.2 L1134.6,555.8 L1134.9,563.8 L1134.8,572.0 L1134.9,580.2 L1134.9,588.4 L1134.8,596.1 L1135.6,604.1 L1135.1,612.0 L1135.5,620.4 L1135.7,628.4 L1136.2,636.8 L1136.7,645.0 L1137.2,653.5 L1137.3,661.9 L1137.9,670.3 L1138.5,678.7 L1138.7,687.2 L1139.5,695.6 L1140.9,707.4 L1142.4,719.0 L1142.5,710.5 L1142.5,702.4 L1142.5,694.2 L1142.9,686.4 L1143.0,678.2 L1143.0,669.9 L1143.4,661.8 L1143.5,653.3 L1143.1,645.1 L1143.4,637.2 L1143.9,615.4 L1145.1,622.1 L1144.2,596.3 L1143.9,588.4 L1144.1,579.9 L1144.9,571.6 L1144.6,563.2 L1144.4,555.3 L1144.6,547.1 L1145.4,539.0 L1144.8,530.6 L1145.3,522.4 L1145.6,514.3 L1145.6,506.5 L1145.9,498.2 L1145.7,490.2 L1146.0,481.8 L1145.7,473.4 L1146.4,465.5 L1146.3,457.4 L1146.4,449.1 L1146.3,440.6 L1146.5,432.6 L1147.4,422.6 L1148.4,413.4 L1149.4,403.4 L1149.3,411.8 L1150.0,419.9 L1150.0,427.8 L1149.7,436.0 L1150.4,444.1 L1150.4,452.1 L1150.7,460.3 L1150.7,468.3 L1150.3,476.7 L1150.8,484.9 L1150.7,493.0 L1151.0,500.9 L1150.8,509.0 L1151.2,517.4 L1151.4,525.3 L1151.5,533.9 L1151.8,541.9 L1152.1,549.7 L1152.4,557.8 L1152.1,566.0 L1152.0,574.3 L1152.6,582.5 L1152.4,590.6 L1152.5,598.8 L1152.7,606.6 L1152.8,615.3 L1153.0,623.2 L1153.2,631.3 L1153.8,639.6 L1154.1,643.8 L1155.3,637.5 L1154.1,647.8 L1154.9,655.7 L1155.2,664.2 L1156.1,672.2 L1157.2,680.3 L1158.1,688.5 L1158.8,697.0 L1160.3,705.0 L1161.1,713.1 L1161.0,705.1 L1161.5,697.0 L1161.3,688.7 L1161.4,680.5 L1161.8,672.7 L1161.7,664.5 L1161.4,656.5 L1161.7,648.6 L1162.3,640.6 L1162.0,632.4 L1162.4,623.9 L1162.3,615.9 L1162.4,607.8 L1162.5,600.1 L1162.8,592.0 L1162.8,583.7 L1162.3,575.4 L1162.3,567.5 L1162.5,559.3 L1162.9,551.2 L1163.0,543.3 L1162.8,534.9 L1163.5,526.7 L1163.0,518.7 L1163.0,511.1 L1163.4,502.7 L1163.8,494.0 L1164.7,485.2 L1164.9,476.2 L1165.5,467.7 L1165.5,475.9 L1166.2,484.6 L1165.9,493.0 L1166.3,501.5 L1166.7,510.0 L1167.1,518.3 L1167.5,526.8 L1167.7,535.1 L1167.8,543.6 L1168.5,553.1 L1169.1,562.5 L1169.7,571.9 L1169.9,581.3 L1170.8,590.4 L1173.7,596.2 L1175.5,606.5 L1176.6,616.7 L1179.5,628.4 L1180.0,620.1 L1179.5,611.9 L1179.7,604.3 L1180.3,595.8 L1180.2,587.8 L1180.5,579.7 L1181.0,571.4 L1180.9,563.3 L1181.0,555.3 L1181.8,546.5 L1181.4,538.3 L1182.2,528.9 L1183.4,533.9 L1182.5,521.4 L1183.0,513.0 L1184.1,524.2 L1185.4,534.9 L1185.7,543.2 L1186.3,551.1 L1185.9,559.1 L1186.5,567.2 L1186.6,575.5 L1187.8,568.6 L1186.9,582.8 L1186.8,591.2 L1187.2,598.9 L1187.7,607.0 L1187.7,615.2 L1188.3,623.4 L1188.3,631.3 L1188.5,639.7 L1189.6,648.5 L1189.8,658.3 L1191.0,652.2 L1190.0,665.9 L1190.8,674.1 L1191.2,682.8 L1191.7,691.7 L1192.5,700.4 L1192.7,708.8 L1194.8,716.6 L1197.1,724.8 L1197.0,716.6 L1197.2,708.6 L1197.7,700.3 L1197.3,691.9 L1197.9,684.1 L1197.8,675.8 L1197.7,667.5 L1198.0,659.3 L1198.3,651.1 L1198.5,642.9 L1198.0,634.7 L1198.5,626.8 L1198.3,618.7 L1198.9,596.2 L1200.1,602.0 L1199.5,578.0 L1199.4,569.9 L1199.7,561.7 L1199.1,553.1 L1199.6,545.1 L1199.9,537.0 L1200.1,528.6 L1199.5,520.9 L1200.3,512.5 L1200.0,504.1 L1200.2,496.1 L1200.4,488.2 L1200.2,480.1 L1200.3,472.0 L1200.3,463.6 L1200.8,455.5 L1200.9,447.2 L1201.6,456.1 L1201.6,464.6 L1202.4,473.6 L1202.1,482.4 L1202.9,491.0 L1203.0,499.7 L1203.6,507.7 L1203.3,516.5 L1203.5,524.6 L1203.8,532.9 L1204.0,541.6 L1203.9,549.9 L1204.5,558.5 L1204.3,566.7 L1204.4,575.5 L1204.6,583.7 L1205.2,591.9 L1205.0,600.7 L1205.2,608.8 L1205.7,617.6 L1205.4,625.6 L1205.8,634.2 L1208.7,637.2 L1208.9,645.6 L1209.6,654.1 L1209.6,662.7 L1210.2,671.0 L1210.5,679.5 L1211.2,687.5 L1212.4,682.8 L1211.4,696.4 L1212.5,704.8 L1212.5,713.1 L1213.0,722.2 L1214.2,732.5 L1215.4,726.9 L1214.7,739.1 L1215.5,748.2 L1215.7,739.9 L1215.6,732.0 L1215.4,724.0 L1215.5,716.1 L1215.7,708.2 L1216.2,700.1 L1216.3,692.1 L1215.7,683.9 L1215.8,675.8 L1216.3,667.9 L1216.0,659.8 L1216.0,651.5 L1216.1,643.5 L1216.7,635.4 L1216.2,627.5 L1216.3,619.1 L1216.7,611.3 L1216.9,603.2 L1216.8,595.1 L1216.8,586.9 L1217.3,578.7 L1217.1,571.0 L1217.2,562.6 L1217.0,554.5 L1217.2,546.7 L1217.2,538.6 L1217.6,530.4 L1217.2,522.6 L1217.5,514.4 L1217.6,506.1 L1218.2,498.0 L1218.7,489.8 L1219.2,485.0 L1220.4,490.1 L1219.7,481.5 L1219.8,473.5 L1221.9,482.3 L1221.7,490.3 L1222.2,498.9 L1222.3,506.9 L1222.0,514.8 L1222.2,523.5 L1222.5,531.6 L1222.4,539.5 L1222.9,547.4 L1222.4,555.8 L1222.5,564.2 L1222.7,572.4 L1222.6,580.3 L1222.8,588.4 L1223.0,596.6 L1223.7,604.8 L1223.4,619.3 L1224.6,613.5 L1224.0,637.9 L1223.7,646.0 L1223.4,653.9 L1223.9,662.3 L1223.9,670.4 L1224.0,678.3 L1224.2,686.8 L1226.3,686.8 L1227.1,695.4 L1227.6,704.1 L1227.6,710.8 L1228.8,703.5 L1228.3,721.7 L1228.4,730.9 L1229.2,739.4 L1230.4,748.9 L1231.2,758.9 L1232.4,752.7 L1232.1,767.8 L1233.0,777.4 L1233.4,769.1 L1233.3,761.4 L1233.0,753.1 L1233.6,745.3 L1233.1,737.1 L1233.3,729.0 L1233.6,720.9 L1233.8,712.8 L1234.0,704.2 L1233.5,696.4 L1234.1,677.7 L1235.3,684.9 L1234.7,663.9 L1234.2,656.1 L1234.1,648.1 L1234.7,640.0 L1234.3,631.3 L1234.8,623.6 L1235.2,615.1 L1234.8,607.4 L1235.0,599.2 L1235.1,591.0 L1235.5,582.4 L1235.7,574.2 L1236.2,565.9 L1236.3,557.2 L1236.7,552.8 L1237.9,559.0 L1237.5,540.2 L1237.4,532.0 L1238.0,540.7 L1239.4,549.5 L1239.5,557.5 L1239.6,565.8 L1239.9,573.7 L1240.8,581.4 L1240.6,589.7 L1241.3,597.9 L1241.7,605.7 L1241.8,613.8 L1243.5,623.3 L1245.5,633.3 L1246.7,643.0 L1247.1,650.9 L1247.1,659.1 L1247.9,667.1 L1247.9,675.2 L1248.5,683.4 L1248.4,691.8 L1248.9,704.8 L1250.1,700.6 L1249.0,715.8 L1249.7,724.2 L1249.8,732.0 L1250.5,739.8 L1250.5,748.2 L1250.9,740.2 L1250.9,732.0 L1250.6,723.5 L1250.6,715.7 L1250.9,707.4 L1250.9,699.1 L1251.2,691.1 L1251.1,682.9 L1250.9,674.8 L1251.1,666.4 L1251.7,658.2 L1251.3,650.3 L1251.5,641.8 L1251.8,633.8 L1251.9,625.7 L1251.8,617.4 L1252.0,609.0 L1252.2,601.2 L1251.9,592.8 L1252.0,584.3 L1252.5,576.1 L1252.7,567.9 L1252.0,560.0 L1252.5,551.6 L1252.6,543.6 L1253.1,534.9 L1252.9,526.9 L1253.2,518.3 L1253.2,510.1 L1254.0,501.9 L1254.2,493.1 L1254.5,484.9 L1254.6,474.8 L1255.8,479.9 L1254.4,468.2 L1255.2,459.4 L1254.9,451.0 L1255.5,442.8 L1255.8,451.5 L1255.6,459.5 L1256.1,468.4 L1256.4,476.9 L1256.5,485.5 L1256.9,493.8 L1256.5,502.3 L1257.2,510.8 L1257.4,519.5 L1257.0,528.0 L1257.8,536.2 L1257.7,544.9 L1258.0,553.1 L1257.8,561.6 L1258.4,569.9 L1258.4,578.7 L1259.0,587.6 L1258.9,596.2 L1259.1,604.7 L1259.9,613.5 L1259.6,622.6 L1260.7,631.1 L1260.8,640.2 L1261.1,648.8 L1261.3,657.6 L1263.1,667.9 L1264.3,678.1 L1268.1,689.8 L1268.5,681.4 L1268.6,673.2 L1268.4,665.1 L1268.9,657.1 L1269.3,649.2 L1269.0,641.0 L1270.0,632.5 L1270.1,624.7 L1270.0,616.2 L1270.5,608.2 L1270.5,599.9 L1271.0,592.2 L1271.2,583.8 L1271.4,575.7 L1271.0,567.3 L1271.3,559.5 L1271.8,551.1 L1271.8,543.1 L1272.2,534.9 L1274.5,529.0 L1274.7,537.1 L1274.9,545.2 L1275.2,553.4 L1275.5,561.8 L1275.6,570.1 L1275.9,578.2 L1275.9,586.5 L1276.1,594.8 L1276.1,602.7 L1275.9,611.2 L1276.4,619.5 L1277.0,627.5 L1277.1,635.8 L1276.7,644.2 L1277.4,652.5 L1277.4,660.5 L1278.2,668.5 L1279.2,676.6 L1279.9,684.8 L1280.8,693.0 L1281.8,701.4 L1285.6,710.2 L1285.5,702.0 L1285.8,694.2 L1286.2,685.7 L1286.1,678.0 L1286.7,669.9 L1286.4,661.6 L1286.7,653.9 L1287.0,645.9 L1287.4,637.6 L1287.6,629.3 L1287.6,621.2 L1287.5,613.4 L1287.5,605.4 L1287.5,597.3 L1288.5,589.0 L1288.4,580.8 L1288.3,572.8 L1288.3,565.1 L1289.0,557.1 L1288.7,548.9 L1289.1,540.7 L1289.3,531.9 L1289.5,523.5 L1290.3,515.1 L1290.5,507.0 L1290.4,498.3 L1290.3,489.5 L1291.2,481.4 L1291.4,472.8 L1291.3,464.2 L1291.7,455.9 L1292.0,447.2 L1292.4,455.3 L1292.8,463.8 L1292.9,472.0 L1292.6,480.3 L1293.3,489.1 L1293.6,497.0 L1293.5,505.8 L1294.1,514.1 L1294.1,525.3 L1295.3,520.1 L1294.1,538.7 L1294.9,547.2 L1294.5,555.6 L1295.0,563.7 L1295.4,571.9 L1295.6,580.4 L1295.5,588.9 L1296.2,596.9 L1296.3,605.7 L1296.4,613.8 L1297.0,622.6 L1298.1,631.5 L1299.3,640.1 L1300.7,648.5 L1301.3,654.5 L1302.5,647.6 L1302.6,664.5 L1303.9,673.0 L1304.9,681.0 L1305.1,672.9 L1304.9,665.1 L1305.2,656.8 L1305.2,648.8 L1304.9,641.0 L1305.3,633.3 L1305.5,624.9 L1304.9,616.8 L1305.4,599.5 L1306.6,604.6 L1305.4,585.0 L1305.5,577.2 L1305.6,569.2 L1305.9,561.0 L1305.4,553.1 L1305.4,545.1 L1306.1,536.7 L1306.0,528.8 L1305.9,520.8 L1305.9,512.7 L1306.4,505.0 L1306.3,496.8 L1306.4,488.9 L1306.2,481.0 L1305.8,472.8 L1306.6,464.8 L1306.3,456.9 L1306.9,447.8 L1307.2,438.7 L1307.0,430.0 L1307.6,421.2 L1307.5,412.0 L1308.2,403.0 L1308.4,394.1 L1309.0,403.7 L1309.8,413.8 L1309.9,423.6 L1310.7,433.5 L1310.6,441.7 L1311.0,450.1 L1311.3,458.0 L1311.5,466.2 L1311.5,474.5 L1311.7,482.8 L1312.0,490.1 L1313.2,484.9 L1312.0,499.6 L1312.1,507.8 L1312.6,515.8 L1312.8,524.1 L1314.2,538.7 L1314.4,546.9 L1314.7,555.6 L1315.1,563.9 L1315.4,572.6 L1315.3,581.2 L1315.4,590.0 L1315.8,598.2 L1315.9,606.8 L1316.5,615.0 L1316.5,623.6 L1316.6,632.2 L1317.3,641.7 L1317.6,651.7 L1318.6,661.4 L1319.9,669.9 L1321.5,679.0 L1321.3,670.6 L1321.7,661.9 L1322.3,653.5 L1322.0,645.1 L1322.1,637.0 L1322.7,628.5 L1322.9,620.1 L1322.9,611.4 L1323.0,603.0 L1323.4,594.5 L1324.2,585.7 L1324.7,576.9 L1324.7,567.6 L1325.6,559.3 L1325.9,550.4 L1326.3,540.9 L1327.3,531.8 L1328.2,522.6 L1328.6,530.9 L1328.8,538.5 L1329.1,547.0 L1328.8,554.8 L1329.6,562.7 L1329.3,570.9 L1329.6,575.8 L1330.8,569.2 L1330.2,587.1 L1329.9,594.8 L1330.3,603.0 L1330.9,612.0 L1331.2,620.8 L1331.4,629.4 L1331.5,638.1 L1331.5,646.8 L1331.8,655.5 L1332.5,664.1 L1332.7,672.9 L1332.8,682.0 L1333.2,690.7 L1333.7,699.1 L1333.7,707.5 L1334.3,716.2 L1334.7,724.7 L1335.2,732.9 L1335.4,741.1 L1336.1,749.6 L1336.9,758.3 L1337.0,766.7 L1338.1,775.2 L1338.8,784.0 L1339.9,793.0 L1340.2,784.6 L1340.3,776.8 L1340.4,768.9 L1340.5,760.5 L1340.1,752.6 L1340.3,744.7 L1340.5,736.8 L1340.7,728.6 L1340.8,720.4 L1340.6,712.3 L1340.8,704.2 L1340.6,696.4 L1340.7,688.1 L1340.8,680.3 L1341.1,661.0 L1342.3,667.7 L1341.6,640.0 L1341.5,631.5 L1341.8,623.8 L1341.2,615.5 L1341.4,607.5 L1341.6,599.2 L1341.7,591.2 L1341.5,583.6 L1342.1,575.5 L1342.2,567.4 L1342.0,559.2 L1342.2,550.3 L1342.4,541.9 L1342.7,533.2 L1342.9,524.7 L1343.6,510.5 L1344.8,515.3 L1343.9,498.9 L1343.9,490.0 L1344.4,481.3 L1345.0,472.5 L1345.3,464.1 L1345.5,455.4 L1345.8,463.6 L1345.7,471.6 L1345.7,479.7 L1346.0,488.2 L1346.2,496.0 L1346.2,504.7 L1346.1,512.6 L1346.4,520.7 L1346.9,528.9 L1347.3,537.3 L1347.1,545.4 L1346.8,553.6 L1347.0,561.8 L1347.2,570.1 L1347.3,578.3 L1347.6,586.2 L1347.9,594.2 L1347.9,602.7 L1347.9,610.8 L1348.0,619.2 L1348.7,627.3 L1348.5,635.1 L1348.6,643.6 L1348.9,651.8 L1349.2,659.8 L1349.0,668.2 L1349.3,676.1 L1350.1,684.1 L1350.4,692.2 L1350.8,700.6 L1351.6,708.8 L1351.8,716.6 L1351.9,724.6 L1352.9,732.9 L1353.1,740.7 L1353.7,749.1 L1354.6,757.8 L1355.6,766.6 L1356.6,775.4 L1357.1,767.3 L1356.9,759.0 L1357.0,751.0 L1357.0,742.6 L1356.9,734.7 L1357.2,726.4 L1357.7,718.5 L1357.5,710.2 L1357.5,702.0 L1358.2,694.4 L1357.7,685.8 L1357.9,677.9 L1358.2,669.6 L1358.6,661.8 L1358.7,653.5 L1358.1,645.1 L1358.5,637.3 L1358.7,628.9 L1358.5,620.9 L1358.9,612.7 L1358.8,604.5 L1359.4,596.6 L1359.7,588.7 L1359.2,580.6 L1359.9,572.4 L1359.3,564.1 L1359.5,556.0 L1359.7,548.0 L1360.1,540.0 L1359.9,531.3 L1360.2,523.3 L1360.4,515.3 L1361.0,507.3 L1362.7,498.6 L1363.3,490.5 L1363.2,498.9 L1364.0,506.9 L1364.2,514.8 L1364.5,523.1 L1364.2,531.3 L1364.6,539.2 L1364.9,548.2 L1366.1,541.2 L1365.0,563.8 L1365.8,572.0 L1365.5,579.7 L1366.2,588.2 L1366.5,596.3 L1366.5,604.0 L1366.5,612.2 L1366.8,620.5 L1367.2,628.3 L1367.7,636.4 L1368.0,644.8 L1368.7,652.8 L1369.5,660.5 L1370.4,668.5 L1370.5,676.6 L1370.7,684.7 L1371.7,692.6 L1372.1,700.9 L1373.3,690.9 L1374.2,680.2 L1375.6,670.2 L1376.0,662.1 L1375.8,654.3 L1376.2,646.4 L1376.4,637.8 L1376.0,630.1 L1376.4,622.2 L1376.9,614.2 L1376.4,605.9 L1377.0,597.9 L1377.4,589.9 L1377.4,581.9 L1377.6,574.1 L1377.8,565.7 L1377.3,557.6 L1377.8,549.4 L1378.2,541.9 L1378.1,533.3 L1378.0,525.4 L1378.6,517.7 L1378.5,509.5 L1379.0,501.1 L1379.3,493.1 L1379.3,485.0 L1379.7,477.4 L1380.3,469.2 L1380.7,460.9 L1380.8,453.1 L1381.3,444.8 L1381.4,436.5 L1382.1,428.4 L1382.0,420.4 L1382.2,428.7 L1382.7,437.1 L1382.6,445.1 L1382.6,453.7 L1383.1,461.7 L1382.7,470.0 L1383.2,478.3 L1383.2,486.6 L1383.7,495.0 L1383.8,503.0 L1384.3,511.4 L1384.2,519.9 L1384.4,527.8 L1384.4,536.4 L1385.0,544.3 L1385.3,552.5 L1385.1,561.3 L1385.2,569.3 L1385.5,577.6 L1385.8,585.8 L1385.8,594.2 L1386.6,602.9 L1387.2,611.2 L1387.5,620.3 L1388.7,616.0 L1388.4,627.8 L1388.7,636.5 L1388.7,644.6 L1389.7,652.9 L1390.2,661.4 L1390.9,669.9 L1391.4,677.9 L1392.2,686.4 L1392.8,695.4 L1394.0,691.4 L1393.3,703.1 L1394.1,711.7 L1394.6,719.9 L1394.9,711.6 L1394.4,703.5 L1394.9,695.6 L1394.9,687.2 L1395.1,679.3 L1395.1,670.9 L1395.1,662.9 L1395.6,655.0 L1395.4,646.7 L1395.0,638.6 L1395.3,630.5 L1395.9,622.3 L1395.4,614.4 L1395.5,605.8 L1395.7,597.7 L1396.1,590.0 L1395.6,581.8 L1396.1,573.2 L1395.8,565.4 L1396.4,557.4 L1396.0,548.9 L1396.3,540.9 L1396.5,532.5 L1396.7,524.5 L1396.8,516.5 L1396.6,508.6 L1396.3,500.0 L1396.8,492.0 L1396.8,484.1 L1396.9,476.0 L1397.4,467.8 L1396.8,459.7 L1397.6,451.2 L1397.0,443.5 L1397.4,435.3 L1397.7,427.0 L1397.5,418.9 L1397.7,410.6 L1397.9,402.7 L1398.4,394.5 L1398.4,386.1 L1399.0,377.9 L1399.4,369.9 L1399.8,361.9 L1399.6,370.0 L1400.2,378.1 L1400.2,386.2 L1400.5,394.1 L1400.6,401.7 L1400.8,409.9 L1400.8,417.7 L1401.0,426.1 L1401.0,433.8 L1401.4,442.1 L1401.3,450.2 L1401.9,458.1 L1402.2,465.7 L1402.5,473.7 L1402.0,481.8 L1402.4,490.0 L1402.9,498.2 L1403.1,505.9 L1403.3,514.1 L1403.0,521.6 L1403.4,529.9 L1404.1,537.8 L1404.0,546.2 L1404.8,554.2 L1405.4,562.6 L1405.9,570.6 L1406.0,579.8 L1407.2,572.7 L1406.7,586.6 L1406.9,594.9 L1407.2,603.0 L1407.9,611.0 L1408.4,619.4 L1409.3,627.6 L1410.0,635.4 L1410.6,642.2 L1411.8,636.9 L1411.8,651.9 L1412.1,660.0 L1412.2,651.8 L1412.3,643.4 L1412.6,635.7 L1412.6,627.0 L1412.4,619.2 L1412.5,611.0 L1412.9,602.9 L1412.7,594.6 L1413.2,586.4 L1413.6,578.2 L1413.5,570.1 L1413.1,561.7 L1413.4,553.9 L1413.8,545.9 L1413.9,537.5 L1414.1,529.2 L1414.3,520.8 L1413.7,513.0 L1414.1,504.7 L1414.1,496.7 L1414.4,488.5 L1414.4,480.1 L1414.4,472.3 L1414.4,464.2 L1414.4,456.0 L1414.8,447.8 L1415.0,439.4 L1415.4,431.0 L1415.9,423.5 L1417.1,429.1 L1416.6,414.5 L1416.7,406.4 L1417.4,398.4 L1417.3,406.8 L1417.6,414.8 L1417.7,423.7 L1417.9,431.7 L1417.9,440.4 L1418.2,448.6 L1418.7,462.4 L1419.9,455.3 L1418.8,473.6 L1418.9,481.8 L1419.0,490.2 L1419.6,498.5 L1419.7,506.9 L1419.4,515.5 L1420.3,523.8 L1420.2,532.2 L1420.2,540.3 L1420.3,548.8 L1420.3,556.9 L1420.4,565.4 L1420.9,573.8 L1421.7,583.7 L1422.6,593.3 L1422.9,603.0 L1423.9,612.9 L1424.6,622.5 L1425.3,632.2 L1428.2,641.0 L1430.2,632.2" fill="none" stroke="#df9bfa" stroke-width="3.0" stroke-linejoin="round"/>
<text x="195.4" y="121.4" text-anchor="end">150</text>
<text x="195.4" y="253.0" text-anchor="end">100</text>
<text x="195.4" y="384.6" text-anchor="end">50</text>
<text x="195.4" y="516.2" text-anchor="end">0</text>
<text x="195.4" y="647.8" text-anchor="end">50</text>
<rect x="103.6" y="626.25" width="30.8" height="2.3" fill="#222"/>
<text x="195.4" y="779.4" text-anchor="end">100</text>
<rect x="74.6" y="757.85" width="30.8" height="2.3" fill="#222"/>
<text x="213.0" y="881.3" text-anchor="middle">0</text>
<text x="391.9" y="881.3" text-anchor="middle">10</text>
<text x="570.7" y="881.3" text-anchor="middle">20</text>
<text x="749.6" y="881.3" text-anchor="middle">30</text>
<text x="928.4" y="881.3" text-anchor="middle">40</text>
<text x="1107.3" y="881.3" text-anchor="middle">50</text>
<text x="1286.1" y="881.3" text-anchor="middle">60</text>
<text x="1465.0" y="881.3" text-anchor="middle">70</text>
<text class="lab" x="839.0" y="950.3" text-anchor="middle">Time (Day)</text>
<text class="cap" x="825.2" y="1025.8" text-anchor="middle">(a)</text>
<text transform="translate(53.0,454.1) rotate(-90)" class="lab" text-anchor="middle">Relative time delay of Sanmenxia (ns)</text>
<line x1="2040.4" y1="99.0" x2="2040.4" y2="808.7" stroke="#262626" stroke-opacity="0.15" stroke-width="4"/>
<line x1="2219.3" y1="99.0" x2="2219.3" y2="808.7" stroke="#262626" stroke-opacity="0.15" stroke-width="4"/>
<line x1="2398.2" y1="99.0" x2="2398.2" y2="808.7" stroke="#262626" stroke-opacity="0.15" stroke-width="4"/>
<line x1="2577.1" y1="99.0" x2="2577.1" y2="808.7" stroke="#262626" stroke-opacity="0.15" stroke-width="4"/>
<line x1="2756.0" y1="99.0" x2="2756.0" y2="808.7" stroke="#262626" stroke-opacity="0.15" stroke-width="4"/>
<line x1="2934.9" y1="99.0" x2="2934.9" y2="808.7" stroke="#262626" stroke-opacity="0.15" stroke-width="4"/>
<line x1="1861.5" y1="215.0" x2="3113.8" y2="215.0" stroke="#262626" stroke-opacity="0.15" stroke-width="4"/>
<line x1="1861.5" y1="329.4" x2="3113.8" y2="329.4" stroke="#262626" stroke-opacity="0.15" stroke-width="4"/>
<line x1="1861.5" y1="443.9" x2="3113.8" y2="443.9" stroke="#262626" stroke-opacity="0.15" stroke-width="4"/>
<line x1="1861.5" y1="558.4" x2="3113.8" y2="558.4" stroke="#262626" stroke-opacity="0.15" stroke-width="4"/>
<line x1="1861.5" y1="672.8" x2="3113.8" y2="672.8" stroke="#262626" stroke-opacity="0.15" stroke-width="4"/>
<line x1="1861.5" y1="787.2" x2="3113.8" y2="787.2" stroke="#262626" stroke-opacity="0.15" stroke-width="4"/>
<line x1="2040.4" y1="808.7" x2="2040.4" y2="793.3" stroke="#222222" stroke-width="4"/>
<line x1="2040.4" y1="99.0" x2="2040.4" y2="114.4" stroke="#222222" stroke-width="4"/>
<line x1="2219.3" y1="808.7" x2="2219.3" y2="793.3" stroke="#222222" stroke-width="4"/>
<line x1="2219.3" y1="99.0" x2="2219.3" y2="114.4" stroke="#222222" stroke-width="4"/>
<line x1="2398.2" y1="808.7" x2="2398.2" y2="793.3" stroke="#222222" stroke-width="4"/>
<line x1="2398.2" y1="99.0" x2="2398.2" y2="114.4" stroke="#222222" stroke-width="4"/>
<line x1="2577.1" y1="808.7" x2="2577.1" y2="793.3" stroke="#222222" stroke-width="4"/>
<line x1="2577.1" y1="99.0" x2="2577.1" y2="114.4" stroke="#222222" stroke-width="4"/>
<line x1="2756.0" y1="808.7" x2="2756.0" y2="793.3" stroke="#222222" stroke-width="4"/>
<line x1="2756.0" y1="99.0" x2="2756.0" y2="114.4" stroke="#222222" stroke-width="4"/>
<line x1="2934.9" y1="808.7" x2="2934.9" y2="793.3" stroke="#222222" stroke-width="4"/>
<line x1="2934.9" y1="99.0" x2="2934.9" y2="114.4" stroke="#222222" stroke-width="4"/>
<line x1="1861.5" y1="215.0" x2="1875.3" y2="215.0" stroke="#222222" stroke-width="4"/>
<line x1="3113.8" y1="215.0" x2="3100.0" y2="215.0" stroke="#222222" stroke-width="4"/>
<line x1="1861.5" y1="329.4" x2="1875.3" y2="329.4" stroke="#222222" stroke-width="4"/>
<line x1="3113.8" y1="329.4" x2="3100.0" y2="329.4" stroke="#222222" stroke-width="4"/>
<line x1="1861.5" y1="443.9" x2="1875.3" y2="443.9" stroke="#222222" stroke-width="4"/>
<line x1="3113.8" y1="443.9" x2="3100.0" y2="443.9" stroke="#222222" stroke-width="4"/>
<line x1="1861.5" y1="558.4" x2="1875.3" y2="558.4" stroke="#222222" stroke-width="4"/>
<line x1="3113.8" y1="558.4" x2="3100.0" y2="558.4" stroke="#222222" stroke-width="4"/>
<line x1="1861.5" y1="672.8" x2="1875.3" y2="672.8" stroke="#222222" stroke-width="4"/>
<line x1="3113.8" y1="672.8" x2="3100.0" y2="672.8" stroke="#222222" stroke-width="4"/>
<line x1="1861.5" y1="787.2" x2="1875.3" y2="787.2" stroke="#222222" stroke-width="4"/>
<line x1="3113.8" y1="787.2" x2="3100.0" y2="787.2" stroke="#222222" stroke-width="4"/>
<rect x="1861.5" y="99.0" width="1252.3" height="709.7" fill="none" stroke="#222222" stroke-width="4"/>
<path d="M1861.0,319.5 L1861.2,310.7 L1861.5,302.4 L1861.5,290.5 L1862.7,298.2 L1861.9,285.0 L1861.4,276.8 L1862.1,268.1 L1861.7,259.4 L1862.0,251.0 L1862.7,242.5 L1862.5,233.6 L1863.2,223.8 L1863.6,214.3 L1863.6,206.7 L1864.8,214.6 L1864.1,195.5 L1865.7,181.1 L1866.9,193.0 L1867.3,205.0 L1867.7,213.1 L1867.7,221.5 L1868.0,229.4 L1867.6,237.7 L1868.2,246.0 L1867.7,253.7 L1868.5,261.9 L1868.5,270.0 L1868.5,278.8 L1869.7,272.7 L1868.5,294.4 L1868.8,303.1 L1869.1,311.0 L1869.5,319.1 L1869.4,327.3 L1869.5,335.4 L1870.0,343.9 L1870.1,353.0 L1870.9,361.1 L1870.9,368.9 L1872.1,363.3 L1871.1,378.6 L1871.6,387.5 L1872.1,395.9 L1872.1,387.7 L1872.5,379.5 L1872.7,371.5 L1872.9,363.0 L1873.2,354.6 L1873.6,346.8 L1873.9,338.5 L1873.8,328.5 L1875.0,334.2 L1873.8,321.7 L1874.5,314.0 L1874.3,305.5 L1874.6,297.3 L1876.9,294.1 L1877.6,303.7 L1877.8,313.3 L1878.5,322.7 L1879.0,314.2 L1878.7,305.8 L1878.5,297.2 L1879.4,289.0 L1879.3,280.5 L1879.4,272.3 L1879.9,264.0 L1879.9,255.1 L1879.9,240.6 L1881.1,246.8 L1879.7,230.0 L1880.6,221.8 L1880.5,213.5 L1880.9,204.7 L1881.0,196.3 L1880.5,188.1 L1881.0,179.5 L1882.8,171.7 L1883.9,163.6 L1884.4,171.7 L1884.1,179.8 L1885.1,188.2 L1884.7,196.1 L1885.4,208.2 L1886.6,200.3 L1886.0,220.8 L1886.3,228.6 L1886.4,236.8 L1887.0,245.0 L1887.0,254.0 L1887.6,262.5 L1887.8,271.0 L1888.1,279.0 L1888.0,287.7 L1889.2,278.2 L1889.8,268.3 L1890.5,259.1 L1890.5,267.3 L1890.8,275.6 L1891.3,284.1 L1891.2,292.8 L1891.6,302.4 L1892.8,295.0 L1891.8,309.2 L1891.6,317.5 L1891.8,326.4 L1892.4,334.4 L1892.3,343.0 L1892.8,351.4 L1893.3,342.8 L1893.2,333.6 L1894.1,320.3 L1895.3,327.7 L1894.4,307.3 L1895.1,298.4 L1895.4,289.6 L1895.7,280.7 L1896.0,271.8 L1896.4,262.9 L1896.2,254.6 L1896.5,249.7 L1897.7,255.0 L1897.0,246.0 L1897.0,237.4 L1896.9,228.7 L1897.2,220.2 L1897.5,211.4 L1898.0,203.1 L1899.4,194.2 L1900.1,185.9 L1900.4,194.2 L1900.6,202.1 L1901.0,210.3 L1901.4,218.6 L1901.1,226.8 L1901.6,234.5 L1902.8,227.1 L1901.7,242.7 L1902.3,250.7 L1902.3,259.1 L1902.5,267.0 L1903.2,275.6 L1903.4,283.9 L1903.6,292.3 L1904.8,284.9 L1903.6,300.2 L1903.8,308.0 L1904.5,316.4 L1907.1,329.1 L1908.0,340.0 L1908.1,342.4 L1909.3,338.4 L1908.8,350.4 L1909.6,360.9 L1910.3,369.6 L1910.1,378.8 L1910.8,387.4 L1910.6,396.5 L1911.1,405.2 L1911.8,413.9 L1911.9,422.9 L1911.9,414.6 L1912.5,406.7 L1912.0,398.4 L1912.5,387.4 L1913.7,391.9 L1912.7,373.2 L1913.0,365.3 L1913.2,356.8 L1913.5,348.6 L1913.6,340.3 L1913.7,332.1 L1913.6,323.7 L1913.5,315.8 L1913.6,307.2 L1913.7,299.2 L1914.1,290.9 L1914.5,282.6 L1914.5,274.4 L1914.9,260.7 L1916.1,266.8 L1915.0,249.8 L1915.1,241.4 L1915.2,233.4 L1916.0,225.3 L1915.8,217.0 L1915.8,208.6 L1916.3,200.4 L1916.6,192.3 L1916.9,183.2 L1917.6,174.0 L1918.7,165.0 L1919.2,155.7 L1919.6,164.1 L1920.2,172.4 L1920.3,179.3 L1921.5,173.2 L1920.5,188.4 L1921.2,196.5 L1921.4,205.0 L1921.5,213.0 L1921.7,221.3 L1922.4,229.4 L1922.6,237.8 L1922.6,245.9 L1923.1,253.6 L1923.0,258.8 L1924.2,251.6 L1923.7,270.3 L1923.6,278.2 L1923.7,286.6 L1924.8,295.4 L1925.1,303.7 L1925.4,312.1 L1925.6,320.9 L1926.2,329.1 L1927.8,316.4 L1927.9,324.8 L1928.7,333.7 L1928.6,342.1 L1928.7,350.9 L1929.1,358.9 L1929.7,367.4 L1930.1,376.2 L1930.0,384.8 L1930.5,376.3 L1930.5,367.6 L1930.5,359.5 L1930.8,350.4 L1931.1,342.3 L1931.3,333.7 L1931.4,318.0 L1932.6,324.2 L1931.8,308.1 L1932.0,299.7 L1932.0,290.9 L1932.5,282.4 L1932.7,274.1 L1932.5,265.4 L1932.3,256.8 L1932.8,248.7 L1933.5,240.2 L1933.1,232.0 L1933.4,223.8 L1933.4,215.5 L1933.6,207.5 L1934.0,198.6 L1934.2,190.7 L1934.5,182.4 L1935.1,173.7 L1934.7,165.5 L1935.1,157.3 L1935.6,148.2 L1936.1,137.0 L1937.3,144.6 L1936.6,130.8 L1936.8,121.4 L1937.3,112.7 L1937.8,121.1 L1937.9,129.1 L1938.7,136.8 L1938.5,145.0 L1939.4,153.3 L1939.5,163.0 L1940.7,155.9 L1939.9,169.6 L1940.4,177.6 L1940.5,185.9 L1940.3,194.1 L1941.1,201.9 L1941.0,210.1 L1941.3,218.3 L1941.6,226.5 L1941.5,234.8 L1941.9,242.7 L1942.1,250.7 L1943.3,245.6 L1942.1,258.6 L1942.1,266.8 L1942.7,275.0 L1942.9,284.0 L1943.2,292.4 L1943.3,301.3 L1944.2,310.3 L1944.1,317.3 L1945.3,311.3 L1944.7,328.2 L1944.4,336.8 L1945.0,345.8 L1945.3,354.5 L1945.6,345.6 L1946.0,334.2 L1947.2,338.4 L1946.5,327.9 L1946.8,319.0 L1946.9,310.0 L1947.3,318.7 L1947.7,327.2 L1947.6,332.8 L1948.8,327.8 L1948.3,343.6 L1948.0,352.7 L1948.5,360.9 L1948.6,352.5 L1949.3,344.4 L1949.1,335.5 L1949.7,327.1 L1949.6,318.8 L1949.9,310.7 L1950.6,302.2 L1950.4,293.9 L1951.3,285.3 L1951.4,276.8 L1951.6,268.6 L1951.9,259.8 L1951.9,251.2 L1952.1,242.8 L1952.4,234.2 L1952.8,225.7 L1953.4,211.7 L1954.6,218.3 L1953.4,199.5 L1954.0,191.3 L1953.9,182.6 L1954.8,173.6 L1954.8,165.2 L1955.5,173.8 L1955.8,182.5 L1956.1,190.7 L1956.3,199.3 L1956.8,207.2 L1958.0,203.0 L1957.4,216.6 L1957.6,225.0 L1958.0,233.6 L1958.4,241.9 L1958.5,250.4 L1959.2,259.3 L1959.5,267.6 L1959.9,276.1 L1960.5,284.5 L1962.8,297.3 L1963.1,306.6 L1963.4,316.3 L1963.6,321.8 L1964.8,316.0 L1963.8,325.8 L1964.5,335.5 L1964.4,345.0 L1965.4,354.5 L1965.9,364.1 L1965.7,356.2 L1966.6,348.2 L1966.5,340.0 L1966.2,332.0 L1966.9,323.8 L1966.7,316.0 L1966.8,307.7 L1967.3,299.5 L1967.5,291.6 L1967.5,279.2 L1968.7,285.2 L1968.0,267.2 L1968.0,259.6 L1967.8,251.4 L1968.2,243.2 L1969.0,231.5 L1970.2,235.9 L1969.4,224.2 L1969.7,214.3 L1970.7,205.0 L1970.7,213.9 L1971.5,222.6 L1972.2,230.8 L1972.1,239.4 L1972.4,243.9 L1973.6,236.0 L1972.3,248.3 L1972.9,257.0 L1973.3,265.4 L1973.8,273.7 L1975.0,282.6 L1975.5,290.9 L1975.4,298.8 L1976.1,307.2 L1976.1,312.3 L1977.3,308.0 L1976.3,323.3 L1976.5,331.5 L1976.6,339.9 L1977.3,347.6 L1977.2,355.8 L1977.7,364.1 L1978.2,374.7 L1979.2,382.2 L1980.4,377.5 L1979.2,385.6 L1980.3,395.9 L1980.8,387.5 L1981.1,378.9 L1981.0,370.5 L1981.3,365.3 L1982.5,370.1 L1981.2,361.9 L1981.7,353.4 L1981.9,345.0 L1982.1,353.9 L1981.9,362.4 L1982.3,370.9 L1982.3,379.6 L1982.6,388.3 L1983.3,396.6 L1983.2,405.1 L1983.4,414.0 L1983.2,422.3 L1983.4,430.9 L1984.1,439.9 L1984.1,448.4 L1984.7,439.8 L1984.8,430.7 L1984.7,422.3 L1985.2,413.7 L1985.4,404.1 L1986.6,408.1 L1985.9,396.2 L1985.9,387.0 L1986.1,378.6 L1986.2,369.9 L1986.6,360.9 L1986.8,352.2 L1987.6,342.7 L1988.1,333.7 L1988.6,327.5 L1989.8,332.8 L1989.4,316.1 L1989.8,306.8 L1990.3,315.3 L1991.5,324.3 L1992.4,332.9 L1993.0,341.8 L1993.7,352.4 L1994.5,356.4 L1995.7,350.7 L1995.4,362.7 L1996.2,373.6 L1999.4,370.4 L2000.0,378.2 L2000.8,386.6 L2001.4,394.5 L2002.5,402.3 L2002.7,393.4 L2003.7,383.9 L2004.2,375.1 L2004.5,366.1 L2004.9,356.7 L2004.9,347.4 L2005.7,338.6 L2008.3,341.8 L2008.9,351.0 L2008.8,359.7 L2009.6,368.6 L2009.9,374.5 L2011.1,366.5 L2010.1,377.6 L2010.5,386.4 L2010.8,395.6 L2010.9,404.4 L2011.3,413.5 L2011.3,419.4 L2012.5,413.0 L2011.7,431.7 L2011.8,440.9 L2012.1,450.0 L2012.6,461.1 L2013.7,472.3 L2013.8,481.1 L2014.3,489.3 L2014.2,497.9 L2014.4,507.0 L2015.0,515.4 L2014.8,524.2 L2015.2,532.9 L2014.8,541.4 L2015.3,549.8 L2016.5,542.7 L2015.6,558.7 L2015.4,567.1 L2015.9,575.7 L2015.9,567.8 L2016.4,559.4 L2017.1,551.0 L2016.8,543.3 L2017.5,534.9 L2018.7,540.4 L2018.1,526.6 L2018.3,518.5 L2018.4,510.4 L2019.6,501.9 L2020.3,492.8 L2021.0,484.2 L2021.6,475.4 L2021.9,466.1 L2023.0,456.0 L2022.8,452.9 L2024.0,460.0 L2022.8,446.8 L2023.7,437.2 L2024.2,427.7 L2026.4,413.4 L2026.7,422.4 L2027.4,431.2 L2027.2,439.4 L2027.9,449.5 L2029.1,444.5 L2028.4,457.1 L2028.6,465.9 L2031.2,472.3 L2032.0,481.7 L2033.1,491.3 L2033.7,500.9 L2034.6,509.4 L2034.9,518.7 L2035.3,527.0 L2036.5,522.9 L2035.9,535.9 L2036.3,544.3 L2036.7,552.5 L2037.1,560.6 L2037.3,568.9 L2038.0,577.1 L2038.2,585.2 L2038.3,576.7 L2038.6,568.2 L2038.5,559.6 L2038.7,550.6 L2039.2,542.2 L2039.7,533.3 L2039.3,524.9 L2039.8,516.4 L2040.1,508.5 L2041.3,515.1 L2040.0,499.3 L2040.4,490.2 L2040.7,481.8 L2041.3,473.2 L2041.0,464.8 L2041.1,456.2 L2041.5,448.0 L2041.9,439.2 L2042.3,431.2 L2042.2,422.6 L2042.5,413.7 L2042.9,405.4 L2043.6,393.2 L2044.8,398.3 L2043.9,386.0 L2044.8,376.5 L2044.9,367.3 L2045.5,357.7 L2046.2,367.3 L2046.3,374.4 L2047.5,367.0 L2046.5,386.5 L2047.5,396.0 L2047.7,405.4 L2048.0,413.5 L2048.8,421.6 L2049.5,430.0 L2049.6,437.9 L2050.0,444.6 L2051.2,440.6 L2050.5,454.4 L2051.0,462.8 L2051.2,470.9 L2050.9,479.2 L2051.5,487.3 L2051.8,478.6 L2053.0,486.3 L2051.7,476.4 L2052.2,465.8 L2052.7,455.4 L2053.0,463.3 L2053.7,471.5 L2053.9,481.1 L2055.1,473.9 L2054.0,488.2 L2054.3,496.3 L2054.6,504.6 L2055.3,512.7 L2055.7,504.3 L2056.1,495.6 L2056.7,485.4 L2057.9,493.1 L2057.2,478.1 L2057.5,469.7 L2058.0,461.1 L2058.5,452.3 L2058.9,443.8 L2058.8,435.7 L2059.1,427.6 L2059.1,419.2 L2059.3,410.5 L2059.2,402.2 L2059.9,394.4 L2059.5,385.8 L2060.3,377.6 L2060.3,369.2 L2060.4,361.1 L2060.3,352.7 L2060.4,344.5 L2061.1,336.0 L2061.5,327.7 L2061.6,319.4 L2061.3,311.2 L2061.6,302.7 L2061.8,311.8 L2062.3,320.8 L2062.8,329.6 L2063.4,339.0 L2064.0,347.5 L2064.2,356.8 L2064.1,365.8 L2064.8,374.2 L2064.8,379.9 L2066.0,375.4 L2065.1,392.5 L2065.4,401.2 L2065.4,409.8 L2065.7,418.7 L2065.8,427.4 L2066.4,436.4 L2068.0,433.2 L2068.2,441.4 L2068.5,450.0 L2068.6,462.8 L2069.8,456.6 L2068.5,474.6 L2068.7,483.1 L2068.9,491.4 L2069.2,499.4 L2069.4,507.7 L2069.6,515.9 L2070.1,507.0 L2070.7,498.1 L2070.6,489.1 L2071.2,483.4 L2072.4,487.5 L2071.5,480.5 L2071.8,471.3 L2072.4,479.8 L2072.3,487.8 L2073.3,495.9 L2073.2,502.2 L2074.4,496.2 L2073.7,512.7 L2073.5,504.4 L2074.4,496.8 L2073.9,488.3 L2073.9,480.6 L2074.4,472.5 L2074.2,464.1 L2074.3,456.2 L2074.7,447.9 L2074.9,440.1 L2075.1,432.0 L2075.0,424.1 L2075.5,406.7 L2076.7,414.4 L2075.9,391.5 L2075.9,383.9 L2075.6,375.5 L2076.1,367.3 L2076.2,359.4 L2076.3,351.6 L2076.3,343.3 L2076.8,335.4 L2076.6,327.0 L2077.2,319.0 L2077.2,310.7 L2076.9,303.2 L2077.1,294.7 L2077.5,286.8 L2078.1,278.2 L2078.7,269.3 L2078.9,259.1 L2080.1,264.5 L2079.6,251.7 L2079.4,242.8 L2080.1,234.3 L2080.3,242.9 L2081.0,250.9 L2080.9,259.5 L2081.3,265.7 L2082.5,260.2 L2081.7,276.4 L2081.6,284.9 L2082.3,293.2 L2082.1,301.5 L2082.4,310.2 L2082.5,318.3 L2082.8,326.9 L2082.9,334.7 L2083.0,343.2 L2083.5,351.8 L2083.5,360.0 L2083.5,368.1 L2083.9,376.8 L2083.9,388.0 L2085.1,381.8 L2084.1,401.8 L2084.1,409.8 L2084.3,418.2 L2084.5,426.8 L2084.7,436.3 L2085.6,445.5 L2085.9,454.3 L2086.3,457.9 L2087.5,452.8 L2086.7,463.9 L2087.1,472.9 L2087.4,463.8 L2087.9,454.2 L2088.0,445.4 L2088.6,438.8 L2089.8,443.2 L2089.4,426.5 L2089.6,417.3 L2089.8,426.2 L2090.4,434.9 L2091.4,443.9 L2091.1,447.1 L2092.3,439.4 L2091.0,452.7 L2091.9,461.8 L2092.0,453.5 L2092.0,444.9 L2092.1,436.7 L2092.4,428.5 L2093.2,420.1 L2093.0,411.9 L2092.9,403.2 L2093.5,394.6 L2094.7,400.6 L2093.8,378.4 L2094.4,370.1 L2094.0,361.3 L2094.4,353.1 L2094.8,344.7 L2094.5,336.3 L2095.0,328.2 L2095.5,319.9 L2096.2,311.7 L2097.4,318.1 L2097.2,302.4 L2097.4,293.8 L2098.2,285.2 L2098.7,294.0 L2099.0,302.7 L2099.5,312.0 L2099.4,320.7 L2099.6,329.5 L2100.3,338.6 L2100.5,347.3 L2100.7,355.4 L2101.4,363.7 L2101.2,372.1 L2101.2,380.3 L2101.7,387.7 L2102.9,381.0 L2102.3,397.0 L2102.5,405.3 L2102.3,413.4 L2102.9,421.6 L2103.0,430.0 L2104.9,430.0 L2105.2,438.3 L2105.6,446.1 L2105.4,454.2 L2106.3,462.6 L2106.2,470.5 L2107.4,466.4 L2106.3,478.6 L2106.5,486.6 L2107.1,494.8 L2107.2,502.7 L2107.7,511.2 L2107.8,519.1 L2108.4,511.0 L2108.5,502.3 L2108.7,494.2 L2109.1,486.1 L2109.5,475.8 L2110.7,483.6 L2109.6,469.7 L2110.2,461.2 L2110.8,453.0 L2110.4,444.6 L2111.0,436.4 L2111.2,427.9 L2111.2,419.1 L2111.4,411.0 L2111.3,402.1 L2111.8,393.4 L2112.1,385.2 L2112.5,376.3 L2112.5,362.9 L2113.7,369.5 L2112.9,351.0 L2113.2,342.1 L2113.2,333.3 L2113.2,325.0 L2113.5,315.7 L2113.9,306.7 L2114.4,297.2 L2115.6,302.4 L2115.2,287.8 L2115.2,278.6 L2115.7,269.3 L2115.9,278.3 L2116.1,287.2 L2116.5,295.9 L2116.6,305.3 L2117.3,313.8 L2118.5,307.3 L2117.7,323.2 L2117.7,331.9 L2118.3,340.9 L2119.0,351.5 L2119.3,355.7 L2120.5,350.2 L2119.7,362.1 L2120.5,372.7 L2121.1,381.6 L2121.2,390.8 L2121.4,398.2 L2122.6,392.2 L2121.6,408.8 L2122.1,418.4 L2122.6,427.5 L2122.7,436.4 L2123.0,445.4 L2124.1,454.2 L2124.6,463.4 L2124.4,455.5 L2125.1,447.0 L2125.2,438.6 L2125.3,430.2 L2125.8,422.2 L2126.0,413.8 L2126.4,405.5 L2125.9,397.7 L2126.5,388.9 L2126.4,380.7 L2126.9,372.7 L2128.1,362.2 L2129.2,349.6 L2130.4,356.6 L2130.0,340.9 L2130.0,331.7 L2130.4,322.7 L2130.8,313.8 L2130.8,304.3 L2131.1,296.2 L2132.3,303.2 L2131.1,286.3 L2131.6,277.3 L2134.2,267.7 L2134.7,275.8 L2134.7,284.4 L2135.4,289.8 L2136.6,285.6 L2135.3,292.3 L2135.9,300.6 L2136.4,309.1 L2136.9,317.7 L2137.0,326.4 L2137.2,335.0 L2137.2,343.6 L2137.5,351.7 L2137.8,360.6 L2137.2,369.0 L2137.7,377.5 L2138.0,386.3 L2138.2,394.9 L2138.3,403.2 L2138.7,411.8 L2138.6,420.4 L2139.7,428.2 L2141.2,436.4 L2141.2,445.0 L2141.8,453.5 L2142.2,461.4 L2142.8,470.3 L2142.4,478.3 L2143.0,483.7 L2144.2,478.3 L2143.1,495.5 L2144.2,503.8 L2144.4,512.4 L2144.4,520.7 L2144.9,512.7 L2145.0,503.9 L2145.0,495.9 L2145.0,487.5 L2145.9,479.6 L2146.1,471.4 L2145.6,462.9 L2146.6,455.0 L2146.4,446.2 L2146.4,438.2 L2146.9,430.0 L2147.0,422.1 L2146.9,413.6 L2147.6,406.1 L2147.4,397.7 L2147.5,390.0 L2147.8,381.5 L2148.0,373.7 L2148.4,365.4 L2148.7,353.6 L2149.9,358.0 L2148.9,341.2 L2149.0,333.7 L2149.5,325.7 L2149.9,317.1 L2150.1,309.1 L2149.9,301.5 L2150.1,293.2 L2150.1,285.1 L2150.6,277.0 L2151.0,268.8 L2151.0,260.8 L2151.0,253.0 L2151.6,244.8 L2151.4,236.7 L2152.1,228.4 L2152.2,220.7 L2153.4,227.8 L2152.6,212.4 L2152.7,204.6 L2152.5,196.1 L2152.8,188.4 L2153.3,180.2 L2153.5,188.3 L2153.3,196.2 L2153.2,204.1 L2154.0,212.2 L2153.7,220.6 L2154.0,237.9 L2155.2,231.2 L2153.9,252.1 L2154.5,260.4 L2154.6,268.3 L2154.4,276.6 L2154.7,284.6 L2154.5,292.3 L2154.5,300.6 L2154.5,308.3 L2154.5,316.5 L2154.8,324.8 L2154.8,332.5 L2155.0,340.5 L2155.4,348.4 L2155.0,356.6 L2155.1,364.7 L2155.5,372.7 L2156.1,382.5 L2157.3,391.8 L2157.7,401.4 L2158.5,410.2 L2159.3,419.0 L2159.5,427.8 L2160.3,436.4 L2160.9,445.4 L2161.1,454.5 L2161.4,463.3 L2162.3,472.3 L2162.7,481.2 L2162.8,490.4 L2162.6,482.1 L2163.1,473.5 L2163.1,465.2 L2163.6,456.7 L2163.5,448.1 L2164.0,437.3 L2165.2,444.3 L2164.7,423.0 L2164.1,414.8 L2165.1,406.2 L2164.6,397.5 L2165.4,389.2 L2164.9,381.3 L2165.4,372.5 L2165.5,364.3 L2165.7,355.8 L2166.0,347.3 L2166.6,338.7 L2166.4,330.5 L2166.9,322.5 L2167.1,314.0 L2167.7,305.6 L2167.8,297.0 L2168.0,288.7 L2167.8,280.6 L2168.7,272.2 L2168.6,263.4 L2169.0,255.4 L2169.2,247.0 L2170.0,258.4 L2171.2,253.6 L2170.3,267.0 L2171.4,277.3 L2171.7,285.4 L2171.4,293.6 L2171.6,301.9 L2172.2,312.4 L2173.4,304.5 L2172.6,318.3 L2172.4,326.6 L2172.9,334.8 L2172.8,343.1 L2173.2,351.4 L2173.4,359.5 L2173.5,367.5 L2173.6,375.9 L2173.5,367.6 L2174.5,358.7 L2174.6,350.0 L2174.8,341.7 L2175.2,334.6 L2176.4,339.0 L2175.6,324.7 L2175.7,315.8 L2176.2,307.5 L2176.7,315.7 L2176.9,323.8 L2177.2,332.4 L2178.4,325.8 L2177.5,340.2 L2177.7,348.0 L2178.4,356.2 L2178.2,364.5 L2178.7,372.7 L2179.2,380.8 L2179.6,389.5 L2179.1,397.7 L2179.7,405.1 L2180.9,397.4 L2180.1,414.1 L2180.1,422.3 L2180.5,430.7 L2180.8,439.1 L2180.9,447.5 L2180.7,439.1 L2181.1,431.4 L2181.4,422.7 L2181.5,414.8 L2181.3,406.5 L2182.0,398.3 L2181.8,390.4 L2182.2,381.7 L2182.4,370.0 L2183.6,375.6 L2182.9,357.4 L2182.8,349.2 L2183.2,341.1 L2182.9,332.8 L2183.2,324.6 L2183.2,316.1 L2183.9,308.0 L2183.5,300.3 L2184.2,291.7 L2184.1,283.6 L2184.7,275.5 L2184.9,266.5 L2185.7,258.6 L2186.1,246.9 L2187.3,252.4 L2186.2,241.7 L2186.6,233.4 L2187.3,224.8 L2187.5,233.2 L2187.6,241.0 L2188.2,252.0 L2189.4,244.3 L2188.5,257.3 L2188.5,265.5 L2188.6,274.0 L2189.4,281.7 L2189.5,290.0 L2190.0,298.5 L2189.9,307.1 L2190.4,311.1 L2191.6,305.5 L2190.4,316.1 L2190.6,324.4 L2191.5,333.4 L2191.8,341.9 L2192.1,350.4 L2192.9,358.8 L2193.1,367.9 L2194.3,363.8 L2193.2,375.1 L2193.9,383.0 L2194.6,391.6 L2194.5,399.7 L2195.3,407.7 L2196.0,416.0 L2196.3,424.9 L2196.8,433.0 L2198.0,426.8 L2197.3,442.4 L2197.8,450.7 L2197.9,442.0 L2198.5,433.8 L2198.1,425.7 L2198.6,416.7 L2198.9,408.7 L2200.1,413.5 L2198.9,400.2 L2198.9,391.8 L2199.4,383.0 L2199.7,374.6 L2200.0,366.4 L2200.5,357.3 L2201.2,348.6 L2201.7,339.6 L2201.5,330.4 L2202.3,321.8 L2202.4,313.0 L2203.1,304.9 L2203.2,296.2 L2203.3,288.9 L2204.5,296.8 L2203.2,278.8 L2203.9,270.3 L2204.1,261.4 L2204.6,253.1 L2204.4,244.3 L2204.8,235.9 L2207.0,229.5 L2207.0,238.0 L2207.6,246.6 L2207.0,255.0 L2207.4,263.8 L2207.6,272.5 L2207.8,282.4 L2209.0,277.3 L2208.1,289.3 L2208.3,298.2 L2207.8,306.6 L2208.0,315.3 L2208.3,323.5 L2208.5,332.1 L2208.6,340.9 L2208.7,349.1 L2209.3,357.2 L2209.3,365.4 L2209.2,373.3 L2209.6,381.3 L2209.3,389.4 L2209.8,397.8 L2209.9,405.8 L2210.0,413.9 L2210.7,421.9 L2210.5,430.0 L2211.2,421.7 L2211.5,413.5 L2211.7,405.5 L2211.9,394.0 L2213.1,401.1 L2212.5,389.1 L2212.1,380.6 L2212.8,372.7 L2213.5,380.8 L2214.0,389.5 L2214.3,397.8 L2214.8,405.7 L2215.0,414.1 L2216.2,425.9 L2216.9,437.9 L2216.9,429.5 L2217.0,420.8 L2217.5,412.5 L2218.0,404.2 L2218.2,396.0 L2217.6,387.7 L2217.8,378.9 L2218.4,370.6 L2218.6,362.4 L2218.3,354.0 L2219.0,339.3 L2220.2,345.7 L2219.5,329.0 L2219.6,320.3 L2219.6,311.9 L2219.8,303.6 L2220.1,295.1 L2220.1,286.8 L2221.6,277.7 L2223.0,268.8 L2223.9,259.8 L2224.0,268.0 L2224.9,276.0 L2225.4,284.2 L2225.6,293.9 L2226.8,287.0 L2225.6,300.8 L2226.4,309.1 L2227.0,318.4 L2226.9,327.2 L2228.0,336.4 L2228.3,346.8 L2229.5,341.7 L2228.5,354.8 L2228.8,363.3 L2229.6,372.7 L2229.8,384.9 L2231.0,379.5 L2230.3,391.9 L2230.1,401.6 L2230.1,410.9 L2230.5,420.4 L2230.4,428.9 L2230.8,437.0 L2231.2,448.3 L2232.4,443.9 L2231.1,461.8 L2231.6,470.1 L2232.0,478.4 L2231.8,486.1 L2232.2,494.9 L2232.7,502.9 L2232.7,511.1 L2233.3,503.0 L2233.7,494.7 L2233.8,483.2 L2235.0,488.4 L2233.8,478.6 L2234.4,470.3 L2234.6,462.0 L2234.6,453.9 L2235.3,445.9 L2235.3,438.1 L2235.7,429.8 L2236.0,415.7 L2237.2,420.8 L2236.6,405.7 L2236.8,397.7 L2236.3,389.2 L2237.2,381.2 L2237.0,373.2 L2237.2,365.2 L2237.1,357.2 L2237.3,349.0 L2237.8,340.9 L2237.9,333.1 L2238.2,325.0 L2238.6,316.6 L2238.6,308.5 L2239.1,300.8 L2238.8,292.4 L2238.9,284.5 L2239.1,276.3 L2239.7,268.4 L2239.5,260.5 L2239.8,252.3 L2240.0,244.2 L2240.5,235.9 L2240.9,227.8 L2240.8,220.0 L2241.0,212.0 L2242.0,220.8 L2242.8,229.8 L2243.2,239.1 L2243.5,247.5 L2243.7,256.3 L2243.2,264.5 L2243.3,273.1 L2244.0,281.3 L2244.2,289.7 L2243.8,298.7 L2244.1,306.8 L2243.9,315.5 L2244.2,323.7 L2244.2,332.7 L2244.7,340.7 L2244.7,349.4 L2244.3,358.0 L2244.8,366.4 L2245.5,375.8 L2245.3,385.3 L2245.7,392.0 L2246.9,385.6 L2245.9,395.2 L2245.8,404.5 L2246.4,414.1 L2247.0,405.4 L2247.1,396.0 L2247.4,387.4 L2247.9,384.4 L2249.1,391.0 L2247.9,378.5 L2248.6,369.5 L2248.7,378.3 L2249.2,387.6 L2249.5,393.8 L2250.7,387.1 L2249.8,405.6 L2250.1,414.7 L2250.5,423.6 L2250.5,432.5 L2251.4,440.7 L2251.9,449.4 L2251.9,458.4 L2252.2,467.9 L2253.4,462.7 L2252.3,475.5 L2252.8,484.1 L2252.8,475.6 L2253.3,466.9 L2253.6,458.7 L2253.5,450.1 L2253.9,441.2 L2253.9,430.3 L2255.1,437.4 L2254.3,415.5 L2254.7,406.8 L2254.3,398.4 L2254.9,389.8 L2254.7,381.2 L2255.0,372.7 L2255.0,364.7 L2255.2,356.8 L2255.6,343.4 L2256.8,349.9 L2255.9,332.0 L2256.1,324.1 L2256.1,316.2 L2256.8,307.7 L2256.3,299.8 L2257.1,291.7 L2256.9,283.6 L2257.5,275.4 L2257.6,266.7 L2258.0,258.7 L2259.2,266.4 L2258.5,249.7 L2259.0,241.0 L2259.1,232.7 L2259.4,241.3 L2259.8,250.9 L2261.0,243.7 L2259.8,258.7 L2260.2,267.1 L2260.6,275.7 L2260.7,284.8 L2261.4,293.2 L2262.0,302.1 L2262.3,311.3 L2262.1,315.8 L2263.3,311.0 L2262.2,320.3 L2262.6,329.8 L2263.0,338.7 L2263.1,347.7 L2263.3,356.8 L2265.5,353.6 L2265.8,361.7 L2265.8,370.3 L2265.8,378.7 L2265.9,386.9 L2266.6,395.2 L2266.5,403.6 L2266.4,411.8 L2267.1,420.4 L2267.0,427.6 L2268.2,420.5 L2267.1,436.6 L2267.6,445.2 L2267.4,453.5 L2267.7,461.8 L2268.9,471.6 L2270.3,480.9 L2270.5,472.4 L2270.8,464.2 L2271.0,456.2 L2270.8,447.7 L2271.0,439.4 L2271.3,428.1 L2272.5,433.9 L2271.7,423.0 L2271.9,414.6 L2271.4,406.2 L2271.9,398.2 L2272.1,389.7 L2272.7,387.3 L2273.9,393.9 L2273.3,381.8 L2273.4,373.2 L2274.5,364.8 L2275.0,356.8 L2275.8,347.2 L2277.0,352.7 L2276.5,335.9 L2277.6,325.0 L2277.6,333.5 L2277.7,342.1 L2277.9,351.3 L2278.3,359.7 L2278.5,365.4 L2279.7,357.7 L2278.7,377.2 L2278.8,385.5 L2279.3,394.6 L2279.5,403.3 L2279.9,411.5 L2279.8,420.4 L2280.0,430.2 L2281.2,439.3 L2281.3,448.9 L2282.5,444.6 L2282.2,458.4 L2282.4,468.2 L2283.5,478.7 L2284.0,491.1 L2285.2,486.4 L2284.6,500.0 L2285.2,508.4 L2285.2,519.4 L2286.4,511.7 L2285.6,525.1 L2285.6,534.0 L2285.8,542.1 L2286.3,551.1 L2286.3,559.1 L2286.2,567.8 L2286.8,576.3 L2289.4,563.6 L2289.8,555.5 L2289.2,547.7 L2289.5,539.7 L2289.4,531.3 L2289.7,523.5 L2290.0,515.3 L2290.1,507.3 L2290.1,499.3 L2290.6,491.4 L2290.2,483.4 L2290.0,475.2 L2290.7,454.5 L2291.9,462.5 L2291.3,435.7 L2291.2,427.5 L2290.9,419.2 L2291.1,411.3 L2290.9,403.2 L2291.6,395.7 L2291.0,387.6 L2291.8,379.1 L2291.6,371.5 L2291.6,363.1 L2291.6,355.2 L2291.9,347.3 L2292.7,338.7 L2293.4,330.2 L2294.1,321.8 L2295.3,311.9 L2295.4,305.0 L2296.6,309.1 L2295.9,301.8 L2296.4,291.6 L2296.8,299.4 L2296.3,307.7 L2296.6,315.9 L2297.3,324.1 L2297.4,332.1 L2296.8,340.2 L2297.7,348.6 L2297.4,356.4 L2297.4,364.9 L2298.0,372.9 L2297.9,386.9 L2299.1,381.2 L2298.0,397.3 L2298.6,405.1 L2298.7,413.5 L2298.2,421.5 L2298.9,429.7 L2298.9,437.6 L2298.9,445.9 L2301.5,449.1 L2301.9,458.0 L2302.1,466.7 L2302.6,475.7 L2302.6,485.0 L2303.1,493.7 L2302.8,502.7 L2303.5,511.7 L2303.7,520.7 L2304.1,512.1 L2304.4,503.8 L2304.2,495.5 L2304.7,486.7 L2304.8,477.6 L2306.0,484.6 L2304.9,470.3 L2304.9,462.0 L2305.8,453.0 L2306.0,444.9 L2305.9,436.4 L2306.7,428.7 L2307.1,421.5 L2308.3,427.3 L2308.0,412.7 L2308.5,404.5 L2308.9,396.4 L2309.1,388.1 L2309.2,379.9 L2309.3,371.6 L2309.2,363.6 L2309.6,355.4 L2309.6,347.5 L2309.6,339.1 L2310.5,331.1 L2310.2,322.5 L2310.6,314.4 L2310.5,306.4 L2310.7,298.4 L2311.0,290.0 L2311.9,280.9 L2312.9,272.1 L2313.5,262.9 L2313.7,271.7 L2314.4,280.4 L2314.1,288.6 L2314.6,297.6 L2314.7,306.2 L2315.9,300.8 L2314.8,314.7 L2314.9,323.0 L2315.5,331.8 L2315.4,340.2 L2315.6,348.9 L2316.5,357.6 L2316.4,366.4 L2316.9,375.4 L2317.2,384.7 L2317.4,393.3 L2317.6,402.6 L2318.5,411.3 L2318.6,420.4 L2321.2,423.6 L2321.3,431.9 L2321.7,440.9 L2322.5,449.4 L2323.0,458.1 L2322.8,466.3 L2323.9,474.7 L2323.9,483.6 L2324.4,492.0 L2324.9,483.5 L2324.9,475.1 L2325.0,466.4 L2325.3,457.8 L2325.0,449.6 L2325.4,440.7 L2326.0,432.5 L2326.1,423.8 L2326.3,415.2 L2326.6,406.6 L2326.5,398.5 L2326.3,389.6 L2326.7,381.0 L2326.9,372.7 L2326.9,364.9 L2327.2,356.8 L2327.3,348.5 L2327.6,340.5 L2328.3,331.9 L2328.2,324.1 L2328.3,315.8 L2329.5,321.9 L2328.4,307.8 L2328.4,300.0 L2328.6,292.0 L2329.1,283.6 L2330.5,275.0 L2331.4,266.1 L2331.9,275.0 L2331.7,283.9 L2332.1,289.7 L2333.3,281.8 L2332.7,301.1 L2332.5,310.1 L2332.8,318.9 L2333.4,327.6 L2333.6,336.2 L2333.9,344.7 L2333.9,353.6 L2334.0,362.1 L2334.3,370.5 L2334.8,381.4 L2336.0,374.8 L2334.9,387.5 L2335.2,395.9 L2335.5,404.5 L2336.2,412.9 L2336.7,419.4 L2337.9,413.9 L2337.6,429.3 L2338.0,437.7 L2338.7,445.9 L2338.9,454.4 L2339.6,463.7 L2340.8,457.2 L2340.0,470.7 L2340.5,479.1 L2340.9,487.3 L2340.8,478.9 L2341.2,470.9 L2341.9,462.6 L2341.4,454.0 L2341.7,445.6 L2341.8,437.3 L2342.6,429.3 L2342.3,420.8 L2342.8,412.5 L2343.2,404.1 L2343.1,395.9 L2343.5,387.2 L2343.4,379.1 L2343.9,369.9 L2344.4,362.7 L2345.6,368.5 L2344.7,352.5 L2345.7,343.6 L2346.0,334.5 L2346.4,325.9 L2346.8,322.8 L2348.0,329.3 L2347.1,317.7 L2347.4,309.3 L2348.2,301.1 L2350.4,315.4 L2350.9,324.0 L2351.1,330.0 L2352.3,325.8 L2351.7,341.0 L2352.4,349.5 L2352.9,357.8 L2353.0,366.4 L2353.4,374.9 L2354.1,383.2 L2354.4,392.0 L2355.2,401.3 L2356.4,396.4 L2355.7,408.8 L2356.2,417.3 L2357.0,425.3 L2357.4,433.9 L2357.3,441.9 L2358.1,450.1 L2358.2,453.7 L2359.4,448.1 L2358.1,458.4 L2359.0,466.6 L2359.4,474.5 L2359.7,465.8 L2359.8,457.3 L2360.2,449.2 L2360.2,440.3 L2360.5,432.1 L2360.3,423.5 L2360.5,415.0 L2360.8,406.9 L2360.9,397.9 L2361.2,389.6 L2361.3,381.1 L2361.9,372.7 L2362.0,364.5 L2362.2,356.0 L2362.6,347.2 L2362.7,338.9 L2363.2,330.4 L2362.8,321.6 L2363.2,310.8 L2364.4,317.0 L2363.3,296.5 L2363.9,288.0 L2364.3,279.5 L2364.1,270.9 L2364.9,261.7 L2365.3,252.2 L2365.7,242.4 L2366.9,248.3 L2366.2,233.6 L2367.0,224.4 L2367.3,215.2 L2367.6,223.5 L2367.7,232.1 L2368.2,240.9 L2368.3,249.1 L2368.8,261.1 L2370.0,254.5 L2369.3,266.2 L2369.6,275.1 L2369.5,283.6 L2370.2,292.8 L2370.1,301.9 L2370.8,310.8 L2370.9,320.2 L2371.4,329.5 L2372.6,325.3 L2371.7,337.9 L2372.1,347.3 L2372.6,356.2 L2372.7,365.4 L2373.0,374.0 L2373.0,382.9 L2373.7,391.8 L2373.9,401.5 L2374.4,410.7 L2374.3,420.4 L2375.1,430.2 L2375.3,439.5 L2375.8,431.3 L2375.4,422.9 L2375.8,414.6 L2376.3,406.1 L2376.8,397.4 L2377.0,389.4 L2377.2,380.9 L2377.1,372.3 L2377.6,363.9 L2377.5,355.6 L2377.8,347.3 L2380.1,358.1 L2381.6,369.5 L2381.9,360.5 L2382.2,348.4 L2383.4,352.5 L2382.5,342.2 L2382.7,333.6 L2382.6,324.4 L2383.2,315.4 L2384.3,307.2 L2385.4,299.5 L2386.0,307.4 L2385.9,316.0 L2386.7,323.9 L2386.4,329.0 L2387.6,322.1 L2386.8,340.2 L2387.2,348.3 L2387.7,356.4 L2387.4,364.3 L2388.0,372.7 L2388.9,382.5 L2388.9,389.3 L2390.1,383.2 L2389.4,401.5 L2389.9,410.7 L2390.5,420.4 L2392.0,428.2 L2392.8,436.4 L2393.4,428.0 L2393.2,420.1 L2393.6,412.2 L2393.8,403.9 L2393.7,395.9 L2393.9,387.4 L2394.0,379.3 L2394.6,371.5 L2394.4,363.2 L2396.9,363.2 L2396.7,371.4 L2397.7,379.9 L2397.5,391.0 L2398.7,386.8 L2397.4,404.8 L2397.8,413.0 L2398.5,421.6 L2398.1,429.9 L2398.4,438.2 L2399.1,446.9 L2398.6,454.8 L2399.1,463.4 L2399.6,454.7 L2399.4,446.3 L2399.6,437.9 L2399.6,429.8 L2400.2,421.3 L2400.4,412.9 L2400.7,404.3 L2400.9,395.6 L2400.7,385.8 L2401.9,390.8 L2401.0,378.7 L2401.1,370.3 L2401.0,362.2 L2401.4,353.6 L2401.8,343.2 L2402.3,339.8 L2403.5,344.7 L2403.0,333.5 L2403.3,323.4 L2403.7,331.7 L2404.1,339.8 L2404.1,347.9 L2404.5,356.1 L2404.9,364.2 L2405.5,372.7 L2405.9,380.9 L2405.7,389.0 L2405.5,396.7 L2405.7,405.2 L2406.1,413.0 L2407.3,407.8 L2406.3,421.1 L2406.0,429.4 L2406.1,437.0 L2406.3,445.2 L2406.4,453.6 L2406.9,461.7 L2407.3,469.9 L2407.1,477.7 L2408.1,469.1 L2408.6,460.9 L2409.6,452.3 L2410.4,462.7 L2412.0,473.7 L2412.8,484.1 L2415.3,485.4 L2415.3,476.9 L2416.2,468.7 L2416.1,460.2 L2416.4,452.2 L2417.6,456.2 L2416.3,442.9 L2416.8,434.3 L2417.4,425.8 L2417.8,417.4 L2417.8,409.1 L2417.6,400.8 L2418.4,392.0 L2418.6,383.2 L2418.3,374.5 L2418.4,366.1 L2418.7,357.2 L2419.0,350.9 L2420.2,358.6 L2419.3,340.3 L2419.8,331.5 L2420.0,322.8 L2420.1,314.5 L2420.0,305.7 L2420.3,315.1 L2420.6,324.5 L2420.8,333.7 L2421.8,343.1 L2421.6,352.3 L2422.3,361.4 L2422.9,370.3 L2422.6,379.2 L2423.0,387.9 L2423.0,397.0 L2423.4,405.8 L2423.7,414.5 L2423.9,423.4 L2423.9,432.1 L2424.2,440.9 L2425.0,450.6 L2426.2,443.2 L2426.2,459.9 L2426.2,469.4 L2427.4,479.1 L2427.9,487.0 L2427.6,495.2 L2427.6,503.6 L2428.2,511.1 L2428.5,519.5 L2428.5,527.7 L2428.5,535.6 L2428.7,543.4 L2428.4,551.6 L2428.7,559.8 L2429.3,567.7 L2429.0,575.6 L2429.4,583.9 L2429.5,591.7 L2429.6,600.0 L2430.2,590.6 L2430.6,585.2 L2431.8,592.8 L2430.9,581.0 L2431.5,571.5 L2432.4,561.9 L2432.8,552.3 L2432.8,543.9 L2433.3,536.0 L2433.2,527.8 L2433.5,519.4 L2433.8,511.4 L2433.7,503.4 L2434.0,495.5 L2433.7,487.2 L2434.2,478.7 L2433.9,470.5 L2433.9,462.9 L2434.1,454.3 L2434.8,446.2 L2434.9,438.1 L2435.0,430.3 L2434.9,416.2 L2436.1,422.7 L2435.1,397.7 L2435.4,389.4 L2435.7,381.2 L2435.8,373.2 L2435.9,364.8 L2436.2,356.8 L2436.0,348.6 L2438.5,335.9 L2438.8,344.3 L2438.9,352.1 L2439.7,360.7 L2439.4,368.4 L2440.1,378.6 L2441.3,373.3 L2440.6,384.8 L2440.7,393.2 L2440.7,401.9 L2441.1,410.6 L2441.9,418.7 L2442.1,427.7 L2441.9,432.7 L2443.1,425.8 L2442.5,444.8 L2442.3,453.2 L2442.4,462.0 L2442.9,470.6 L2443.3,479.1 L2444.2,488.2 L2444.4,497.2 L2445.6,506.4 L2446.4,516.9 L2447.6,510.4 L2447.3,524.0 L2447.7,533.2 L2447.9,524.6 L2448.1,516.7 L2449.0,508.3 L2449.3,499.5 L2449.5,491.0 L2450.1,483.1 L2450.1,474.4 L2450.8,464.4 L2452.0,470.8 L2450.9,457.8 L2451.9,449.0 L2451.9,440.9 L2452.3,432.1 L2452.2,423.7 L2452.8,410.9 L2454.0,415.4 L2452.8,405.6 L2453.5,396.9 L2453.2,388.5 L2453.6,379.8 L2454.1,370.9 L2455.7,360.4 L2456.6,350.2 L2457.0,358.8 L2457.1,367.1 L2457.9,375.6 L2458.2,383.6 L2458.0,392.2 L2458.7,405.5 L2459.9,399.5 L2459.1,417.6 L2459.2,425.8 L2459.8,434.5 L2463.0,447.3 L2463.6,455.8 L2463.6,464.2 L2464.3,472.9 L2464.7,486.6 L2465.9,480.6 L2465.4,499.1 L2465.5,507.7 L2466.3,515.8 L2466.2,524.9 L2466.8,533.2 L2466.7,524.8 L2467.0,516.3 L2467.7,507.9 L2467.3,499.3 L2468.0,490.9 L2468.2,483.0 L2468.1,472.7 L2469.3,476.8 L2468.8,457.5 L2468.3,448.8 L2468.6,440.5 L2468.8,432.2 L2469.0,424.0 L2469.4,415.4 L2470.4,406.0 L2470.7,396.3 L2471.9,386.8 L2474.5,396.4 L2474.9,405.1 L2475.7,413.3 L2476.4,421.8 L2478.9,434.5 L2479.7,443.9 L2480.9,453.6 L2481.5,463.2 L2483.7,453.6 L2484.1,462.0 L2484.1,469.7 L2484.3,477.9 L2484.5,486.3 L2485.7,479.1 L2484.5,493.9 L2484.9,502.2 L2485.1,510.2 L2485.2,518.3 L2485.9,526.4 L2485.8,534.6 L2485.9,542.7 L2486.2,533.8 L2487.1,525.2 L2487.1,516.3 L2487.8,510.1 L2489.0,515.0 L2488.1,507.3 L2488.5,498.2 L2489.4,489.5 L2490.4,481.3 L2491.0,472.7 L2491.3,464.6 L2491.7,453.4 L2492.9,458.4 L2492.0,448.2 L2492.1,440.1 L2492.3,432.2 L2492.9,423.9 L2493.1,415.9 L2493.2,407.5 L2493.8,415.9 L2493.9,424.0 L2494.1,426.7 L2495.3,420.0 L2494.5,432.6 L2494.8,440.9 L2495.2,449.1 L2495.0,457.6 L2495.1,466.6 L2495.9,474.8 L2495.7,483.1 L2496.9,476.5 L2496.0,491.6 L2495.8,500.1 L2496.1,508.9 L2496.4,517.3 L2496.3,525.5 L2497.1,533.9 L2497.6,542.0 L2497.9,549.8 L2497.8,553.8 L2499.0,546.8 L2497.7,557.9 L2498.1,566.5 L2498.6,574.5 L2499.4,584.1 L2499.5,593.9 L2500.8,603.0 L2500.8,607.9 L2502.0,603.2 L2501.0,612.9 L2501.8,622.3 L2504.4,631.8 L2504.8,623.4 L2504.7,615.7 L2504.9,607.3 L2505.1,599.1 L2504.6,591.2 L2505.5,582.9 L2505.5,574.9 L2505.1,566.9 L2505.5,558.7 L2505.5,550.4 L2505.9,530.8 L2507.1,535.8 L2506.5,517.9 L2506.1,509.7 L2506.6,501.6 L2506.5,493.5 L2506.5,485.0 L2506.8,477.1 L2506.8,469.1 L2506.8,461.0 L2507.0,452.8 L2507.6,444.4 L2507.1,436.4 L2507.5,428.2 L2509.0,417.1 L2510.7,405.9 L2510.7,414.8 L2511.6,423.4 L2512.1,431.7 L2512.4,440.7 L2512.6,449.6 L2513.8,442.7 L2513.1,457.8 L2513.3,466.4 L2513.9,476.1 L2514.1,482.7 L2515.3,478.0 L2514.7,495.2 L2515.1,504.3 L2515.5,514.1 L2518.7,504.5 L2519.1,513.6 L2519.2,522.4 L2519.8,531.5 L2520.1,536.3 L2521.3,531.5 L2520.4,549.1 L2520.9,558.3 L2521.3,567.3 L2521.9,576.1 L2521.7,567.7 L2522.3,559.6 L2522.6,551.1 L2522.8,542.6 L2523.0,534.7 L2523.2,526.4 L2522.9,517.9 L2523.6,510.1 L2523.2,501.4 L2523.6,491.0 L2524.8,498.3 L2523.5,476.9 L2524.3,468.3 L2524.1,459.8 L2524.1,451.7 L2524.6,443.8 L2524.7,434.9 L2525.0,426.6 L2525.0,418.6 L2525.7,409.7 L2526.0,400.3 L2526.9,391.3 L2526.9,382.4 L2527.9,373.3 L2528.2,364.5 L2528.6,373.5 L2529.1,379.0 L2530.3,371.3 L2529.0,382.2 L2530.1,390.5 L2530.4,399.5 L2530.4,408.3 L2530.7,417.2 L2531.2,423.8 L2532.4,419.7 L2531.4,434.7 L2531.7,443.8 L2532.5,452.8 L2532.7,461.6 L2532.6,470.1 L2533.0,479.1 L2535.5,485.4 L2536.0,493.6 L2536.5,501.6 L2536.5,510.0 L2536.7,515.6 L2537.9,510.8 L2536.8,526.6 L2537.8,534.6 L2537.8,542.7 L2538.6,550.8 L2539.5,558.5 L2540.0,566.6 L2540.3,558.6 L2539.8,549.8 L2540.4,542.0 L2540.2,533.9 L2540.4,525.3 L2540.5,517.2 L2540.5,509.1 L2541.3,500.8 L2541.0,492.8 L2541.2,484.1 L2540.8,476.1 L2541.4,459.3 L2542.6,466.9 L2541.9,443.1 L2541.9,434.7 L2541.7,426.6 L2541.6,418.2 L2541.8,410.0 L2541.9,401.7 L2542.4,394.0 L2542.0,385.4 L2542.5,377.3 L2542.5,369.4 L2543.2,361.3 L2543.4,352.8 L2543.5,345.0 L2544.3,337.0 L2544.4,329.0 L2544.8,320.6 L2545.0,312.4 L2545.4,304.5 L2545.5,296.6 L2545.7,288.5 L2545.9,280.5 L2546.4,272.3 L2546.7,280.7 L2546.9,289.2 L2547.0,297.7 L2546.8,305.7 L2547.6,314.2 L2547.5,324.4 L2548.7,320.2 L2547.7,339.4 L2548.3,347.9 L2547.9,356.2 L2548.4,364.8 L2548.3,373.2 L2548.7,382.0 L2549.1,390.1 L2548.8,398.8 L2549.4,406.9 L2549.5,415.4 L2549.7,423.4 L2550.3,432.0 L2550.8,439.8 L2550.9,447.9 L2551.3,455.5 L2552.5,448.4 L2552.0,464.4 L2552.1,472.7 L2552.4,481.3 L2553.0,489.9 L2553.6,498.8 L2553.3,507.7 L2554.2,519.4 L2555.4,514.4 L2554.4,525.4 L2555.1,533.7 L2555.3,542.7 L2557.8,550.7 L2557.9,542.6 L2558.4,534.5 L2557.8,526.0 L2558.1,517.7 L2558.9,509.7 L2558.4,501.4 L2558.9,493.7 L2559.0,484.8 L2560.2,489.0 L2559.2,477.4 L2559.6,468.8 L2559.2,460.7 L2559.6,452.8 L2559.6,444.8 L2559.9,436.4 L2560.0,428.2 L2560.3,419.9 L2560.0,412.2 L2561.0,403.9 L2560.9,396.1 L2560.7,388.0 L2561.5,379.9 L2561.3,371.6 L2561.8,363.9 L2561.9,355.6 L2562.3,347.6 L2562.2,337.6 L2563.4,342.0 L2562.2,323.4 L2562.6,315.2 L2563.1,307.4 L2563.2,299.3 L2564.1,308.3 L2564.2,316.9 L2564.7,323.4 L2565.9,318.7 L2565.4,334.5 L2566.0,343.2 L2566.4,351.8 L2566.7,359.9 L2567.3,367.9 L2567.2,376.2 L2567.2,383.9 L2568.0,395.7 L2569.2,389.3 L2568.5,408.7 L2568.6,416.9 L2568.7,424.8 L2569.5,432.9 L2569.6,440.9 L2569.7,449.4 L2569.7,457.4 L2569.7,465.6 L2570.2,474.3 L2570.3,486.6 L2571.5,479.8 L2570.1,498.9 L2570.8,507.6 L2570.7,515.6 L2570.5,524.4 L2571.1,532.5 L2571.4,540.6 L2571.2,549.1 L2571.9,540.5 L2572.2,531.6 L2572.3,518.9 L2573.5,526.1 L2572.4,514.1 L2572.9,505.4 L2573.3,496.5 L2573.7,487.8 L2573.7,479.1 L2574.5,470.4 L2576.2,462.3 L2576.9,453.6 L2577.5,445.1 L2577.4,437.1 L2577.4,428.8 L2578.1,420.6 L2578.2,412.4 L2578.6,404.0 L2578.6,395.7 L2578.3,387.6 L2579.0,378.9 L2579.1,370.9 L2579.7,362.7 L2579.6,354.6 L2580.0,346.3 L2579.9,338.4 L2580.5,330.1 L2580.7,321.8 L2581.9,328.6 L2581.3,313.9 L2581.5,306.1 L2581.6,298.2 L2581.7,289.8 L2582.5,301.4 L2583.9,313.6 L2584.3,322.1 L2584.1,330.6 L2584.7,339.2 L2584.8,347.7 L2584.9,355.7 L2585.4,364.5 L2585.2,373.2 L2585.7,381.7 L2586.2,390.2 L2586.0,398.8 L2586.4,406.9 L2586.4,415.5 L2586.3,423.8 L2586.7,432.2 L2587.1,440.9 L2587.1,449.4 L2587.8,457.2 L2587.8,466.0 L2588.3,471.2 L2589.5,466.2 L2588.8,482.4 L2589.2,490.2 L2589.5,498.7 L2589.9,507.1 L2589.6,515.5 L2590.3,523.6 L2590.7,533.1 L2591.6,543.8 L2592.8,537.2 L2592.4,552.3 L2592.8,561.8 L2592.8,553.7 L2593.1,545.4 L2593.3,537.6 L2593.4,529.5 L2593.9,521.5 L2594.1,513.8 L2594.1,505.4 L2594.1,497.6 L2594.5,489.2 L2594.6,481.4 L2595.1,472.6 L2595.2,459.5 L2596.4,467.0 L2595.5,446.8 L2595.8,438.3 L2596.2,430.0 L2596.0,421.1 L2596.3,413.0 L2596.8,404.2 L2596.9,395.5 L2597.2,386.5 L2598.0,377.6 L2599.2,384.6 L2598.2,368.1 L2599.1,358.9 L2599.4,367.8 L2600.2,376.4 L2600.2,384.9 L2600.7,392.1 L2601.9,387.0 L2601.1,402.6 L2601.6,411.4 L2601.8,420.0 L2602.2,429.2 L2602.4,437.6 L2601.9,447.0 L2602.5,457.7 L2603.7,451.1 L2602.4,464.6 L2603.0,473.5 L2602.8,482.3 L2603.2,490.9 L2603.3,500.2 L2603.6,508.9 L2604.3,518.3 L2603.9,527.3 L2604.2,532.5 L2605.4,524.7 L2604.0,536.3 L2604.8,545.2 L2604.8,554.5 L2606.2,545.2 L2607.4,535.4 L2607.9,543.9 L2608.0,555.7 L2609.2,548.9 L2608.2,560.3 L2608.0,569.0 L2608.6,577.2 L2608.7,585.8 L2609.0,594.3 L2609.0,586.0 L2609.2,577.9 L2609.7,569.8 L2609.4,562.0 L2609.6,553.9 L2609.7,546.0 L2609.9,538.0 L2610.8,529.7 L2610.6,522.7 L2611.8,527.2 L2610.5,513.5 L2611.1,505.2 L2611.2,497.3 L2611.4,505.5 L2611.4,513.9 L2611.9,520.7 L2613.1,514.4 L2612.5,530.2 L2612.6,538.5 L2612.7,546.8 L2612.7,555.2 L2613.4,563.7 L2613.1,571.8 L2613.7,580.0 L2613.6,571.8 L2613.6,564.1 L2614.0,556.1 L2614.2,547.9 L2614.1,539.8 L2614.6,531.8 L2614.4,523.6 L2615.0,515.8 L2615.0,507.6 L2615.2,499.7 L2615.1,489.2 L2616.3,494.8 L2614.9,475.4 L2615.3,467.4 L2615.5,459.2 L2615.4,451.4 L2616.0,443.6 L2615.6,435.1 L2616.0,427.3 L2616.3,418.9 L2616.4,410.4 L2616.7,402.5 L2617.9,410.2 L2617.0,393.5 L2617.1,384.9 L2617.5,376.4 L2617.6,385.0 L2617.8,393.1 L2618.0,401.8 L2618.3,408.0 L2619.5,403.5 L2618.5,419.1 L2618.5,427.4 L2619.2,436.0 L2619.4,444.3 L2619.8,452.7 L2619.6,461.1 L2620.2,469.6 L2620.1,478.2 L2621.3,487.5 L2622.3,497.3 L2623.0,506.9 L2624.5,516.4 L2624.7,525.1 L2625.4,534.1 L2625.4,540.1 L2626.6,534.0 L2625.6,551.1 L2625.8,560.1 L2626.3,568.9 L2627.1,577.9 L2627.1,586.4 L2627.3,594.6 L2627.4,603.6 L2627.5,611.8 L2628.1,621.0 L2629.3,616.7 L2628.0,628.7 L2628.5,637.3 L2628.9,645.6 L2628.9,654.3 L2629.3,662.7 L2629.8,654.3 L2629.6,646.5 L2629.6,637.7 L2629.9,629.6 L2629.9,621.4 L2630.0,613.0 L2630.3,605.2 L2630.6,593.7 L2631.8,601.1 L2631.2,580.6 L2631.1,572.1 L2630.8,564.0 L2631.6,555.8 L2631.8,547.2 L2631.4,539.4 L2631.5,530.9 L2631.9,522.7 L2632.3,513.8 L2632.6,505.3 L2632.4,496.9 L2632.7,488.2 L2632.8,479.6 L2633.1,471.2 L2633.0,463.4 L2634.2,468.8 L2632.9,454.1 L2633.6,445.1 L2633.5,436.8 L2633.5,428.4 L2633.6,420.4 L2634.2,412.2 L2634.1,404.2 L2634.5,396.2 L2635.7,401.5 L2634.6,388.4 L2635.0,380.0 L2634.7,371.9 L2635.0,364.2 L2635.6,355.7 L2635.7,347.7 L2635.6,356.2 L2636.3,364.9 L2636.1,373.5 L2636.4,382.3 L2637.0,390.7 L2636.7,399.1 L2637.0,407.0 L2638.2,400.6 L2637.4,416.0 L2637.6,424.5 L2637.6,433.2 L2637.5,442.3 L2637.8,450.5 L2638.2,459.1 L2638.4,467.3 L2639.2,475.4 L2639.5,483.4 L2639.5,489.0 L2640.7,481.9 L2640.1,499.7 L2640.2,508.1 L2640.7,516.3 L2641.4,524.1 L2641.4,532.3 L2641.5,540.8 L2641.9,548.5 L2642.1,556.9 L2641.7,565.2 L2642.3,573.7 L2642.1,581.5 L2642.5,589.9 L2642.5,598.3 L2642.2,606.4 L2642.4,614.4 L2642.8,622.6 L2643.1,631.2 L2642.8,639.4 L2643.0,647.4 L2643.3,656.0 L2643.2,664.2 L2643.6,672.3 L2644.1,663.2 L2643.9,654.4 L2644.6,641.5 L2645.8,646.7 L2644.8,628.2 L2645.2,619.3 L2645.5,610.6 L2646.1,601.6 L2646.2,592.7 L2647.1,601.0 L2648.2,609.5 L2648.7,618.2 L2649.2,609.8 L2648.9,601.4 L2649.3,585.6 L2650.5,592.6 L2649.8,575.7 L2649.2,567.5 L2650.0,559.1 L2650.1,550.6 L2650.2,542.1 L2650.5,533.2 L2650.7,524.5 L2650.6,516.1 L2650.7,507.9 L2650.9,499.3 L2651.0,490.9 L2651.3,482.4 L2651.2,474.5 L2652.2,465.7 L2651.9,457.4 L2652.3,452.9 L2653.5,458.6 L2652.7,441.3 L2653.0,432.9 L2653.1,424.3 L2653.5,416.1 L2654.1,424.9 L2654.7,433.6 L2654.5,441.8 L2655.6,450.7 L2655.7,459.1 L2655.9,467.3 L2655.9,476.3 L2656.0,484.5 L2656.4,493.0 L2656.4,501.5 L2656.7,509.7 L2656.8,518.0 L2657.4,529.8 L2658.6,523.4 L2658.1,543.3 L2657.7,551.8 L2658.0,560.2 L2658.3,568.9 L2659.1,560.3 L2659.0,552.4 L2660.2,559.2 L2659.2,542.7 L2659.6,533.8 L2660.3,524.9 L2660.5,516.4 L2663.7,506.8 L2664.1,515.1 L2663.9,523.2 L2664.7,531.0 L2664.3,539.3 L2665.2,547.7 L2665.2,557.2 L2666.4,550.7 L2665.1,563.8 L2665.9,572.2 L2665.9,580.0 L2665.8,571.9 L2666.4,564.0 L2666.4,556.0 L2667.0,548.0 L2667.0,539.8 L2667.1,530.2 L2668.3,535.8 L2667.0,523.2 L2667.7,515.6 L2667.7,507.3 L2667.7,499.0 L2668.0,490.9 L2668.4,483.0 L2668.5,475.0 L2668.5,466.9 L2668.9,458.4 L2669.4,450.3 L2669.4,441.8 L2670.0,433.6 L2669.9,425.6 L2670.4,419.7 L2671.6,424.1 L2671.1,408.9 L2670.8,400.5 L2671.5,392.3 L2671.6,384.3 L2671.8,392.5 L2672.4,401.5 L2673.6,393.5 L2673.1,409.8 L2672.9,417.8 L2673.2,426.5 L2673.4,434.6 L2674.2,443.2 L2674.4,451.3 L2674.6,459.9 L2674.9,473.4 L2676.1,467.7 L2675.3,485.2 L2675.4,493.5 L2675.6,501.9 L2675.7,510.5 L2676.0,518.9 L2676.1,527.0 L2676.4,535.4 L2676.7,544.0 L2676.7,552.7 L2676.9,561.2 L2677.4,569.5 L2677.8,578.2 L2678.2,586.5 L2678.5,595.5 L2678.6,603.8 L2679.3,595.7 L2679.5,587.2 L2679.7,579.2 L2680.4,570.0 L2681.6,576.4 L2680.6,562.6 L2681.2,554.5 L2682.4,543.8 L2682.8,538.5 L2684.0,543.3 L2683.2,533.3 L2684.4,522.7 L2684.8,513.8 L2685.1,505.0 L2685.4,492.3 L2686.6,499.1 L2685.5,487.4 L2685.9,478.5 L2686.4,469.4 L2686.1,460.9 L2686.4,452.3 L2686.9,443.2 L2688.3,435.1 L2690.1,427.3 L2690.1,435.5 L2690.8,444.4 L2691.2,452.5 L2692.4,448.0 L2691.9,461.4 L2692.0,469.8 L2692.3,478.2 L2695.5,490.9 L2696.1,500.2 L2696.1,509.8 L2696.9,522.1 L2698.1,518.0 L2697.0,528.9 L2697.7,538.6 L2697.9,547.0 L2698.6,555.8 L2699.1,564.0 L2699.4,571.5 L2700.6,563.7 L2700.0,581.3 L2700.3,589.5 L2700.7,581.5 L2701.1,573.4 L2701.1,564.8 L2701.3,556.7 L2701.5,548.8 L2701.3,540.7 L2702.1,532.5 L2702.2,519.0 L2703.4,526.3 L2702.6,507.6 L2703.0,499.6 L2703.2,491.4 L2703.2,483.3 L2703.4,475.0 L2703.4,466.5 L2704.5,457.5 L2704.7,448.8 L2705.0,440.1 L2705.0,431.3 L2705.7,422.9 L2705.9,413.5 L2707.1,419.6 L2706.2,405.6 L2706.7,396.9 L2706.5,388.1 L2707.3,379.5 L2708.1,389.0 L2708.3,398.6 L2709.1,408.0 L2709.1,417.5 L2709.8,427.3 L2709.8,435.8 L2709.9,444.4 L2710.2,452.9 L2711.1,461.5 L2711.2,470.3 L2711.3,478.6 L2711.5,487.5 L2711.8,495.6 L2712.1,506.9 L2713.3,499.8 L2712.5,521.2 L2712.6,529.8 L2713.0,538.6 L2713.0,547.0 L2713.5,557.1 L2714.7,550.9 L2713.7,564.5 L2714.3,573.0 L2714.5,581.6 L2714.3,590.6 L2714.6,599.1 L2715.1,607.1 L2715.1,615.2 L2714.8,623.3 L2714.9,631.4 L2715.5,641.4 L2716.7,633.6 L2715.9,655.5 L2715.9,663.8 L2716.4,672.0 L2716.0,680.2 L2716.1,688.0 L2716.3,696.0 L2716.8,704.1 L2717.1,695.6 L2717.0,687.5 L2717.1,679.6 L2717.6,671.1 L2717.3,662.8 L2717.4,654.9 L2717.6,644.3 L2718.8,649.9 L2718.2,629.7 L2718.0,622.0 L2718.1,613.3 L2717.9,605.1 L2718.5,597.0 L2718.3,588.5 L2718.2,580.7 L2718.6,572.6 L2718.7,564.1 L2719.1,556.0 L2719.5,547.5 L2720.1,536.9 L2721.3,543.7 L2720.3,530.8 L2720.9,522.7 L2720.8,514.4 L2721.4,505.8 L2721.9,497.0 L2721.7,488.6 L2721.8,480.2 L2722.5,471.4 L2722.6,462.9 L2722.7,454.5 L2722.8,446.1 L2723.5,437.3 L2723.3,428.8 L2723.8,420.5 L2723.5,411.7 L2724.1,403.4 L2725.4,411.9 L2726.4,420.9 L2726.4,429.5 L2727.1,440.6 L2728.3,435.7 L2727.7,446.9 L2727.6,456.1 L2728.0,464.7 L2728.0,473.4 L2728.6,482.1 L2728.9,490.9 L2729.2,500.3 L2729.9,505.3 L2731.1,498.1 L2730.4,509.9 L2730.5,519.8 L2731.5,528.8 L2732.1,538.6 L2732.7,547.6 L2732.7,556.6 L2733.0,565.6 L2733.7,573.6 L2734.9,566.1 L2734.2,583.5 L2734.6,592.7 L2734.8,602.2 L2735.3,608.5 L2736.5,604.4 L2735.6,620.7 L2735.8,629.6 L2736.6,639.2 L2736.9,648.4 L2736.7,640.2 L2737.5,631.7 L2737.4,623.1 L2738.1,614.9 L2738.1,606.3 L2738.5,597.7 L2738.5,586.1 L2739.7,594.0 L2738.4,581.1 L2739.1,572.6 L2739.1,564.1 L2739.4,555.7 L2739.4,547.8 L2739.7,539.5 L2739.7,531.0 L2739.8,522.8 L2740.0,514.7 L2740.3,506.6 L2741.1,497.9 L2740.9,490.2 L2740.8,482.0 L2741.5,466.3 L2742.7,470.5 L2741.9,457.0 L2742.3,448.9 L2742.4,440.6 L2742.3,432.4 L2742.6,424.1 L2742.8,432.8 L2743.6,439.5 L2744.8,432.8 L2743.7,441.4 L2744.6,450.6 L2744.8,459.1 L2745.1,467.7 L2744.7,475.6 L2745.0,484.0 L2745.2,492.8 L2745.6,500.8 L2745.7,514.4 L2746.9,508.5 L2745.5,526.0 L2745.8,534.5 L2745.9,542.8 L2746.7,550.9 L2746.8,559.6 L2746.3,568.2 L2746.6,576.5 L2747.1,584.9 L2746.8,593.0 L2747.1,601.6 L2747.0,610.1 L2747.4,618.2 L2747.6,627.3 L2748.6,636.0 L2748.8,646.8 L2750.0,640.9 L2749.0,653.7 L2749.6,662.7 L2750.2,654.6 L2750.4,646.2 L2750.7,642.6 L2751.9,646.7 L2751.1,637.9 L2751.1,629.5 L2751.8,621.3 L2752.3,629.9 L2752.3,638.9 L2753.5,632.0 L2752.8,647.3 L2753.1,656.2 L2753.3,665.0 L2753.1,674.0 L2753.8,682.3 L2753.7,691.3 L2754.4,682.8 L2754.2,674.7 L2755.1,664.3 L2756.3,670.4 L2755.4,658.3 L2755.9,650.0 L2755.7,641.8 L2756.1,633.1 L2756.4,624.7 L2756.7,615.9 L2756.6,607.7 L2756.5,599.0 L2757.0,590.7 L2757.4,582.3 L2756.9,573.6 L2757.1,565.2 L2757.6,554.6 L2758.8,562.2 L2758.0,539.5 L2757.9,531.2 L2758.2,522.7 L2758.1,514.4 L2758.3,506.2 L2759.0,498.1 L2758.4,489.7 L2759.2,481.8 L2758.9,473.4 L2758.8,465.5 L2759.1,456.9 L2759.4,448.5 L2759.6,438.8 L2760.8,446.1 L2759.9,424.4 L2760.4,415.7 L2759.8,407.7 L2760.2,399.2 L2760.5,391.3 L2760.8,382.9 L2760.7,374.8 L2761.0,384.0 L2761.5,386.3 L2762.7,380.5 L2762.2,392.9 L2762.7,402.3 L2763.3,411.4 L2763.3,419.7 L2763.3,427.9 L2763.7,435.7 L2763.8,444.2 L2764.0,452.3 L2763.8,460.3 L2764.2,468.7 L2763.9,477.0 L2764.4,485.3 L2764.2,503.0 L2765.4,496.5 L2764.5,518.0 L2764.1,525.6 L2764.2,534.3 L2764.3,542.4 L2764.9,550.2 L2764.8,558.5 L2764.5,566.8 L2765.0,575.0 L2764.9,583.4 L2765.4,591.1 L2765.0,599.8 L2764.8,607.6 L2765.6,615.6 L2765.5,624.0 L2765.8,632.0 L2765.5,640.4 L2766.1,631.7 L2765.9,623.6 L2766.4,610.7 L2767.6,617.9 L2767.0,598.0 L2766.8,589.2 L2767.5,580.9 L2767.1,572.4 L2767.7,564.1 L2768.8,575.3 L2769.5,586.4 L2770.1,595.7 L2771.3,591.4 L2770.8,607.6 L2771.5,618.2 L2771.5,626.3 L2771.6,634.6 L2771.8,642.2 L2772.5,650.6 L2772.4,658.9 L2773.0,666.7 L2773.0,677.7 L2774.2,671.0 L2773.1,690.9 L2773.7,699.0 L2773.7,707.3 L2773.9,699.5 L2774.0,691.4 L2773.7,683.1 L2774.2,675.3 L2774.1,667.0 L2773.8,659.4 L2774.3,651.2 L2774.2,643.5 L2774.1,635.3 L2774.8,627.4 L2774.8,619.1 L2774.7,610.8 L2774.9,592.9 L2776.1,600.1 L2775.0,579.0 L2775.1,570.9 L2775.4,562.9 L2775.1,555.0 L2775.2,547.1 L2775.0,538.9 L2775.3,531.2 L2775.7,522.9 L2775.6,514.7 L2775.5,506.8 L2775.9,498.8 L2775.9,490.9 L2776.1,482.9 L2776.6,474.3 L2776.1,466.4 L2776.6,458.3 L2777.1,449.9 L2777.3,441.6 L2777.1,433.5 L2777.3,425.7 L2777.6,412.8 L2778.8,419.5 L2778.1,401.1 L2777.9,393.1 L2778.3,384.6 L2778.6,376.5 L2778.5,368.4 L2779.5,377.3 L2779.8,386.5 L2781.0,395.5 L2781.1,403.8 L2781.4,411.5 L2781.7,419.6 L2781.4,427.5 L2781.2,436.0 L2781.3,443.6 L2782.1,451.7 L2782.3,460.1 L2782.3,467.8 L2782.5,475.7 L2782.3,487.9 L2783.5,480.4 L2782.7,500.3 L2782.8,508.2 L2782.9,516.1 L2782.5,523.9 L2783.2,532.0 L2783.0,540.2 L2783.2,548.2 L2783.5,557.0 L2784.2,565.4 L2784.7,574.4 L2784.8,583.1 L2785.0,592.1 L2785.5,598.4 L2786.7,590.6 L2785.8,609.5 L2786.4,618.2 L2787.2,626.2 L2787.8,636.5 L2789.0,632.1 L2788.2,642.7 L2788.7,651.4 L2789.6,659.5 L2790.1,650.4 L2789.9,641.2 L2790.9,632.3 L2790.6,623.0 L2790.8,613.9 L2791.3,605.1 L2791.8,595.9 L2792.0,587.8 L2792.0,579.7 L2792.1,571.9 L2792.3,563.7 L2792.1,555.9 L2792.8,547.4 L2792.3,539.7 L2792.9,531.7 L2792.8,522.3 L2794.0,529.1 L2793.2,507.1 L2793.2,499.5 L2792.9,491.5 L2793.0,483.3 L2793.6,474.9 L2793.9,467.4 L2793.7,459.1 L2794.2,450.8 L2794.2,442.4 L2794.8,433.9 L2795.0,425.0 L2795.1,416.5 L2795.2,407.8 L2796.4,413.6 L2795.1,399.8 L2795.3,391.4 L2795.7,382.9 L2795.8,374.4 L2796.2,366.0 L2796.6,357.3 L2797.5,367.0 L2797.6,372.2 L2798.8,365.2 L2798.1,376.6 L2798.7,386.0 L2799.1,395.5 L2799.4,404.0 L2799.4,412.6 L2799.6,422.9 L2800.8,416.0 L2799.5,430.1 L2799.6,439.1 L2800.4,447.5 L2799.8,456.0 L2800.4,464.8 L2800.5,473.3 L2800.2,482.3 L2800.7,490.9 L2801.2,499.3 L2801.2,508.0 L2802.1,516.2 L2802.7,525.0 L2802.5,533.5 L2803.3,541.8 L2803.4,549.9 L2803.5,558.5 L2804.1,566.9 L2804.0,575.0 L2804.1,583.5 L2804.0,591.9 L2804.3,600.2 L2804.5,608.5 L2804.7,616.4 L2804.7,624.8 L2805.3,633.4 L2805.0,642.0 L2805.5,650.0 L2806.4,659.4 L2806.6,666.7 L2807.8,662.5 L2807.2,678.8 L2807.7,688.2 L2808.7,697.7 L2808.8,689.3 L2808.7,680.9 L2809.0,672.8 L2808.8,664.4 L2809.0,656.0 L2809.4,647.8 L2809.5,639.4 L2809.4,631.3 L2809.8,622.7 L2809.3,614.8 L2809.8,606.4 L2809.7,598.0 L2810.1,589.9 L2810.1,572.2 L2811.3,577.6 L2810.2,556.8 L2810.5,548.2 L2810.5,539.9 L2810.6,531.9 L2810.8,523.2 L2810.5,515.2 L2810.9,506.8 L2811.3,498.3 L2811.1,489.9 L2811.8,478.0 L2813.0,482.7 L2811.6,472.7 L2812.6,463.9 L2812.4,455.5 L2812.5,446.4 L2813.2,438.0 L2812.9,429.8 L2813.5,420.9 L2814.2,431.3 L2814.6,434.4 L2815.8,426.8 L2815.0,442.3 L2816.0,452.7 L2816.3,461.4 L2816.6,469.9 L2816.4,478.4 L2816.8,486.9 L2817.1,495.3 L2817.1,503.7 L2817.0,511.8 L2817.1,520.8 L2817.6,529.3 L2817.8,537.3 L2818.0,545.9 L2818.2,554.5 L2818.3,563.5 L2818.8,572.1 L2819.3,581.1 L2819.8,590.1 L2819.9,598.7 L2820.2,607.8 L2820.4,616.2 L2821.2,625.1 L2821.4,634.1 L2821.6,643.2 L2822.5,652.0 L2823.0,661.4 L2823.6,670.3 L2823.5,676.3 L2824.7,671.7 L2824.2,688.4 L2824.6,697.7 L2825.2,688.9 L2824.9,680.8 L2825.4,672.5 L2825.5,661.2 L2826.7,666.1 L2825.9,646.8 L2826.1,638.0 L2826.6,629.9 L2826.5,621.2 L2826.4,613.0 L2826.6,604.4 L2827.2,595.7 L2827.4,587.3 L2827.3,579.1 L2827.8,570.4 L2827.8,562.4 L2828.1,554.0 L2828.6,546.3 L2828.1,538.1 L2828.9,529.6 L2828.9,518.0 L2830.1,524.3 L2828.8,513.8 L2829.0,505.2 L2829.4,497.3 L2830.3,487.5 L2830.6,478.6 L2831.8,485.4 L2831.3,467.7 L2831.9,457.5 L2832.8,465.6 L2832.6,474.1 L2833.2,477.5 L2834.4,472.9 L2833.9,482.3 L2834.1,490.9 L2834.3,499.8 L2834.3,508.1 L2834.9,516.9 L2835.4,529.7 L2836.6,525.4 L2835.8,534.6 L2835.6,543.3 L2836.4,552.2 L2836.4,560.9 L2838.9,570.4 L2838.9,579.1 L2839.4,587.5 L2839.0,596.3 L2839.6,604.8 L2839.6,613.0 L2839.7,628.0 L2840.9,621.1 L2839.8,638.8 L2840.3,647.5 L2840.5,656.3 L2840.2,664.6 L2840.5,673.1 L2840.5,681.8 L2840.7,673.0 L2841.2,664.3 L2842.4,669.4 L2841.6,654.7 L2841.9,645.8 L2842.0,636.7 L2842.7,627.7 L2843.3,635.9 L2843.0,644.2 L2843.6,649.1 L2844.8,644.1 L2844.3,660.4 L2844.2,668.5 L2844.5,676.9 L2844.8,684.6 L2845.3,692.9 L2845.3,684.8 L2845.7,677.0 L2845.5,668.7 L2845.6,660.6 L2845.5,652.8 L2845.4,644.7 L2845.5,636.5 L2845.6,628.6 L2846.0,620.3 L2846.4,612.2 L2846.4,604.0 L2846.3,596.2 L2846.8,588.4 L2846.3,580.1 L2846.5,572.0 L2846.6,564.1 L2846.7,555.8 L2846.5,547.9 L2847.1,539.8 L2846.7,531.9 L2846.7,523.8 L2847.0,515.6 L2846.9,507.3 L2847.0,499.3 L2847.3,491.1 L2847.3,483.4 L2847.8,475.0 L2847.6,467.0 L2847.8,459.1 L2847.9,450.9 L2848.0,442.5 L2848.7,434.3 L2848.8,426.0 L2848.9,417.8 L2849.6,407.6 L2850.8,411.7 L2849.6,401.3 L2849.9,392.9 L2850.2,385.0 L2850.5,376.6 L2851.0,368.4 L2851.5,376.6 L2851.9,385.1 L2851.7,393.1 L2852.0,401.9 L2852.6,409.8 L2852.3,418.1 L2853.2,426.4 L2853.5,435.1 L2853.5,443.2 L2853.4,451.9 L2853.7,461.1 L2854.5,469.8 L2854.3,478.4 L2854.6,488.1 L2855.8,482.6 L2854.8,496.2 L2855.0,504.8 L2854.9,513.7 L2855.4,522.7 L2855.7,531.6 L2856.3,541.0 L2856.8,549.8 L2857.3,559.3 L2857.4,568.0 L2857.6,577.2 L2858.0,586.4 L2858.7,596.1 L2858.5,605.5 L2859.3,614.0 L2860.5,606.3 L2859.4,624.4 L2860.2,634.1 L2860.1,642.4 L2860.7,651.3 L2860.8,659.7 L2861.1,667.8 L2861.0,676.6 L2861.6,689.5 L2862.8,682.4 L2862.3,701.8 L2862.5,710.3 L2862.2,719.1 L2862.8,727.7 L2862.8,735.9 L2863.0,727.5 L2862.6,719.3 L2863.2,711.1 L2863.5,703.2 L2863.1,694.7 L2863.3,686.2 L2863.8,678.1 L2863.6,669.7 L2863.9,661.8 L2863.5,653.2 L2863.8,645.2 L2864.1,636.7 L2864.3,628.6 L2863.8,620.2 L2864.4,612.2 L2864.1,604.0 L2864.5,595.8 L2864.3,587.3 L2864.8,579.5 L2865.0,571.0 L2865.2,562.7 L2865.0,554.5 L2865.3,546.2 L2865.2,537.8 L2865.8,529.1 L2866.2,520.7 L2866.3,513.1 L2867.5,518.3 L2866.6,503.6 L2866.6,495.2 L2867.1,486.5 L2867.6,478.3 L2867.9,469.8 L2868.1,461.3 L2868.2,452.7 L2868.2,461.7 L2869.1,469.9 L2869.4,479.2 L2869.7,487.7 L2869.7,494.0 L2870.9,488.2 L2870.1,504.9 L2870.6,514.2 L2870.7,522.7 L2871.0,531.3 L2871.1,540.6 L2871.8,549.1 L2871.5,557.8 L2872.2,566.7 L2872.2,575.5 L2873.0,584.3 L2873.2,593.5 L2873.3,602.3 L2874.0,612.7 L2874.4,618.5 L2875.6,611.3 L2874.4,623.7 L2875.5,634.1 L2875.6,643.4 L2876.3,653.0 L2876.6,662.8 L2877.1,668.9 L2878.3,663.5 L2877.5,672.1 L2877.7,681.8 L2877.9,690.2 L2878.5,700.8 L2879.7,696.6 L2878.5,706.8 L2879.1,714.9 L2879.1,723.2 L2879.7,731.9 L2880.4,740.0 L2880.5,748.1 L2880.9,756.6 L2881.2,748.6 L2881.4,740.3 L2881.5,732.3 L2880.9,724.6 L2881.1,716.5 L2881.4,708.2 L2881.8,700.1 L2881.8,692.2 L2881.6,684.1 L2881.3,676.1 L2881.9,667.8 L2881.8,660.0 L2881.6,652.2 L2881.9,643.9 L2881.9,635.7 L2882.3,627.5 L2882.5,620.0 L2882.1,611.7 L2882.1,603.9 L2882.8,595.6 L2882.6,578.1 L2883.8,585.5 L2882.5,555.4 L2883.1,547.5 L2883.2,538.9 L2882.9,530.9 L2882.9,522.8 L2883.0,515.2 L2883.2,506.7 L2883.6,498.8 L2883.4,490.9 L2884.1,482.6 L2884.8,474.4 L2885.6,465.8 L2886.6,457.5 L2886.5,465.6 L2887.3,473.6 L2887.2,481.9 L2887.3,489.7 L2887.7,498.1 L2888.4,505.8 L2888.4,513.8 L2888.9,527.9 L2890.1,520.6 L2889.5,538.1 L2889.8,546.4 L2889.8,554.5 L2890.5,563.8 L2890.5,573.7 L2891.4,583.0 L2892.0,592.5 L2892.4,602.3 L2892.5,611.8 L2893.1,616.9 L2894.3,610.9 L2893.5,621.2 L2894.1,630.9 L2893.8,640.6 L2894.6,650.0 L2895.6,658.6 L2896.2,667.0 L2896.8,675.4 L2897.3,667.1 L2897.5,658.9 L2897.5,650.5 L2897.4,642.2 L2897.9,634.1 L2898.2,625.5 L2898.3,617.8 L2898.7,609.5 L2898.3,601.0 L2898.7,592.7 L2898.7,584.4 L2899.4,575.6 L2899.0,567.4 L2899.6,559.3 L2900.0,550.9 L2900.0,537.4 L2901.2,542.3 L2900.6,525.3 L2900.1,517.0 L2900.6,508.5 L2900.9,500.4 L2901.1,492.0 L2901.5,483.1 L2902.2,474.6 L2902.3,466.5 L2903.5,473.7 L2902.9,457.6 L2902.9,449.1 L2903.1,440.8 L2903.5,432.0 L2904.1,423.9 L2904.4,415.1 L2904.8,406.6 L2905.1,415.2 L2905.7,424.0 L2905.7,432.0 L2906.1,441.3 L2907.3,434.6 L2906.1,449.4 L2906.4,457.7 L2906.8,466.7 L2907.3,475.0 L2907.2,484.0 L2907.5,492.8 L2908.1,501.5 L2908.0,510.5 L2908.2,519.4 L2908.4,528.1 L2908.9,533.1 L2910.1,526.3 L2909.5,545.5 L2909.5,554.5 L2910.1,563.9 L2910.4,572.8 L2910.9,581.8 L2911.1,591.0 L2911.3,599.8 L2912.1,609.2 L2912.1,618.2 L2912.2,626.6 L2912.5,635.1 L2912.7,643.7 L2913.2,652.4 L2913.6,661.0 L2913.7,669.7 L2914.4,678.5 L2914.9,686.7 L2915.3,695.6 L2915.3,704.1 L2915.6,695.6 L2915.5,687.5 L2915.4,679.3 L2915.6,671.3 L2916.3,663.1 L2915.9,654.5 L2916.2,646.5 L2916.5,638.2 L2916.6,630.0 L2916.4,621.5 L2917.0,613.6 L2916.6,605.4 L2916.9,597.0 L2917.4,583.6 L2918.6,590.4 L2917.3,572.4 L2917.4,564.0 L2917.5,555.6 L2918.0,547.1 L2918.1,539.3 L2918.2,531.0 L2918.4,522.7 L2919.1,514.3 L2919.2,506.6 L2919.1,498.2 L2920.1,490.4 L2920.1,482.0 L2920.7,474.2 L2920.8,465.8 L2921.1,460.3 L2922.3,464.5 L2922.0,450.1 L2922.3,441.9 L2922.3,433.6 L2922.4,442.5 L2923.2,450.3 L2924.4,443.9 L2924.1,460.1 L2924.6,469.3 L2924.8,478.2 L2925.5,486.6 L2926.4,495.0 L2927.4,503.6 L2927.4,511.8 L2928.1,520.8 L2928.5,529.1 L2929.0,540.4 L2930.2,533.9 L2929.2,545.9 L2929.6,554.5 L2929.4,563.1 L2930.2,571.3 L2929.9,579.9 L2930.0,588.3 L2930.8,596.9 L2930.6,603.6 L2931.8,598.1 L2931.0,613.9 L2930.7,622.2 L2931.2,630.9 L2931.7,621.8 L2932.8,613.3 L2932.9,607.7 L2934.1,613.8 L2933.1,604.0 L2933.7,595.5 L2934.4,586.4 L2934.6,578.1 L2935.1,569.9 L2934.7,561.3 L2935.3,552.7 L2935.3,544.7 L2935.3,536.2 L2935.7,527.9 L2936.1,519.5 L2935.8,511.2 L2936.2,502.7 L2936.0,494.5 L2936.5,485.8 L2936.2,477.7 L2936.7,467.6 L2937.9,475.4 L2936.9,452.6 L2937.2,444.2 L2937.1,435.9 L2937.5,427.3 L2937.9,418.5 L2938.6,409.8 L2938.5,400.9 L2938.8,392.2 L2939.6,383.6 L2940.3,375.1 L2940.4,366.0 L2940.7,357.3 L2940.8,366.1 L2941.0,374.5 L2941.5,383.0 L2941.9,391.0 L2941.5,400.0 L2942.1,410.9 L2943.3,403.9 L2942.4,425.3 L2942.7,433.9 L2942.7,442.2 L2943.2,450.5 L2943.3,459.1 L2943.3,468.2 L2944.1,477.5 L2943.9,486.3 L2944.4,491.2 L2945.6,486.2 L2944.6,495.3 L2944.8,504.3 L2945.5,513.6 L2945.5,522.7 L2946.1,533.4 L2946.7,539.5 L2947.9,535.5 L2946.7,543.9 L2947.7,554.5 L2948.3,546.1 L2949.0,537.5 L2949.5,529.1 L2950.0,537.8 L2949.5,546.5 L2950.1,555.4 L2950.5,563.7 L2950.2,572.7 L2950.9,581.1 L2950.6,589.5 L2951.3,598.7 L2951.0,607.1 L2951.5,615.7 L2951.5,624.5 L2951.4,616.0 L2951.6,607.8 L2951.7,599.1 L2952.2,590.5 L2952.7,581.8 L2952.2,573.5 L2952.5,564.9 L2953.0,556.7 L2954.2,564.6 L2952.9,548.0 L2953.6,539.9 L2953.7,531.0 L2953.7,522.7 L2953.7,514.3 L2954.6,506.2 L2954.4,497.7 L2955.0,489.8 L2955.0,481.6 L2955.6,473.0 L2955.8,464.5 L2955.8,456.7 L2956.1,448.2 L2956.1,439.9 L2956.7,431.6 L2956.7,423.3 L2956.9,415.3 L2957.5,406.8 L2957.8,398.6 L2958.3,407.3 L2958.5,418.3 L2959.7,413.0 L2958.9,424.2 L2959.3,432.9 L2959.3,441.7 L2959.8,450.3 L2960.0,459.1 L2960.3,467.6 L2960.6,476.6 L2961.0,485.2 L2961.1,493.9 L2961.2,502.6 L2961.1,511.3 L2961.4,519.9 L2961.6,528.7 L2962.0,536.9 L2961.9,545.7 L2962.3,554.5 L2962.7,544.1 L2963.2,540.0 L2964.4,545.1 L2963.3,533.3 L2964.2,522.7 L2964.2,531.4 L2964.8,539.2 L2964.9,547.9 L2965.1,556.3 L2965.3,564.4 L2965.3,572.9 L2965.4,581.6 L2965.7,589.8 L2965.9,598.3 L2965.8,606.5 L2966.4,615.0 L2966.9,624.3 L2967.5,633.8 L2968.6,643.6 L2968.9,635.3 L2969.4,627.4 L2969.1,619.1 L2969.9,611.2 L2970.1,602.9 L2970.0,595.1 L2970.0,587.0 L2970.5,579.1 L2971.7,583.4 L2970.5,570.7 L2971.2,562.8 L2971.2,554.5 L2971.6,546.2 L2971.8,537.7 L2971.6,529.2 L2972.2,520.1 L2973.4,524.8 L2972.9,504.3 L2972.6,496.3 L2972.9,487.9 L2972.9,479.5 L2973.8,470.8 L2974.1,462.5 L2973.8,454.6 L2974.4,446.2 L2974.4,437.4 L2974.4,429.4 L2975.0,420.9 L2975.2,429.9 L2975.5,438.7 L2976.1,445.5 L2977.3,439.7 L2976.3,456.9 L2977.3,466.2 L2977.5,475.0 L2977.8,483.7 L2977.7,491.9 L2977.8,500.7 L2977.9,509.0 L2978.3,517.8 L2979.0,526.1 L2979.2,534.7 L2979.3,543.3 L2979.3,554.1 L2980.5,548.9 L2980.0,569.2 L2979.9,577.9 L2980.1,586.4 L2980.7,578.1 L2980.8,568.4 L2982.0,574.1 L2981.3,560.9 L2981.6,552.6 L2981.4,544.4 L2982.2,536.0 L2982.3,527.5 L2982.5,536.1 L2982.1,544.4 L2982.9,552.5 L2982.9,561.3 L2982.8,573.2 L2984.0,568.7 L2983.1,586.5 L2983.3,594.8 L2982.7,602.9 L2983.2,611.5 L2983.4,619.6 L2983.7,628.2 L2983.4,636.8 L2983.7,645.3 L2983.8,653.6 L2983.7,661.5 L2983.8,670.4 L2983.9,678.6 L2987.7,675.4 L2988.0,667.5 L2987.6,659.6 L2987.8,651.5 L2988.6,643.3 L2988.4,635.5 L2988.1,627.4 L2989.0,619.2 L2988.5,611.4 L2988.6,602.9 L2989.3,594.9 L2989.0,587.1 L2989.7,578.9 L2989.2,571.1 L2989.3,562.9 L2989.7,555.0 L2990.0,546.9 L2989.7,538.9 L2990.4,530.9 L2990.3,522.7 L2990.2,514.2 L2990.3,505.4 L2990.7,496.7 L2990.6,488.3 L2991.1,479.9 L2991.6,471.4 L2991.4,461.8 L2992.6,469.3 L2991.9,454.1 L2992.1,445.3 L2991.9,436.8 L2994.1,430.4 L2994.1,438.5 L2994.7,446.8 L2994.6,455.3 L2995.1,463.6 L2994.6,472.0 L2995.2,483.2 L2996.4,475.2 L2995.6,496.6 L2996.0,504.8 L2995.9,513.4 L2995.7,521.2 L2996.0,529.5 L2996.1,538.1 L2996.5,546.0 L2996.6,554.5 L2996.9,563.2 L2996.8,571.3 L2997.0,579.6 L2997.5,588.3 L2997.6,596.6 L2997.5,605.7 L2998.7,601.1 L2997.7,613.0 L2997.7,621.5 L2997.7,630.3 L2998.3,638.1 L2998.2,646.8 L2998.6,638.3 L2998.8,625.7 L3000.0,629.9 L2998.8,613.1 L2999.3,604.2 L2999.5,595.9 L2999.7,587.1 L2999.9,579.0 L3000.5,570.4 L3000.5,578.9 L3000.5,587.3 L3001.1,598.8 L3002.3,592.8 L3001.5,612.6 L3001.2,620.8 L3001.7,629.4 L3002.2,637.5 L3001.7,646.0 L3001.9,654.6 L3002.4,662.7 L3002.7,671.2 L3003.1,679.6 L3003.6,691.4 L3004.8,685.0 L3003.9,696.9 L3004.1,705.3 L3004.8,713.8 L3005.2,722.3 L3005.5,730.5 L3005.5,739.1 L3006.0,731.1 L3006.0,723.0 L3005.6,715.3 L3006.2,707.0 L3006.0,699.3 L3006.4,691.1 L3006.5,683.3 L3006.8,675.2 L3006.4,666.9 L3006.6,659.0 L3006.7,651.2 L3007.0,642.9 L3007.1,634.8 L3007.1,626.8 L3007.1,618.9 L3007.2,610.8 L3007.5,603.2 L3007.4,595.0 L3007.7,587.1 L3007.7,578.7 L3008.4,570.9 L3008.4,562.9 L3008.1,554.8 L3008.6,547.1 L3009.0,539.0 L3008.8,531.2 L3008.9,523.1 L3008.7,515.0 L3009.1,507.0 L3009.4,498.9 L3009.4,490.9 L3009.6,482.1 L3009.8,473.5 L3010.2,465.5 L3010.6,456.5 L3010.6,448.4 L3011.2,439.7 L3011.5,431.3 L3011.9,422.5 L3012.5,431.1 L3012.1,439.8 L3013.1,448.1 L3012.7,456.6 L3013.4,467.8 L3014.6,460.6 L3013.5,473.9 L3014.1,482.5 L3014.1,490.9 L3016.4,478.2 L3016.6,486.2 L3016.9,494.3 L3016.9,502.5 L3017.4,510.5 L3017.2,518.7 L3017.7,532.2 L3018.9,525.2 L3018.1,543.4 L3018.0,551.8 L3018.2,559.8 L3018.7,567.6 L3018.4,576.3 L3019.3,584.1 L3019.2,592.4 L3019.5,600.7 L3019.5,608.6 L3020.0,599.7 L3020.1,590.7 L3020.6,582.8 L3021.8,590.2 L3021.1,572.5 L3021.2,563.3 L3021.5,554.0 L3022.1,545.0 L3022.7,553.6 L3022.8,562.4 L3024.0,556.4 L3022.8,570.1 L3023.6,577.8 L3023.7,586.4 L3023.5,578.1 L3023.8,570.3 L3024.1,561.9 L3024.5,553.7 L3024.2,545.8 L3024.8,537.6 L3024.4,529.8 L3024.8,521.7 L3025.1,510.5 L3026.3,518.0 L3025.2,497.0 L3025.7,489.3 L3025.9,481.1 L3025.7,473.0 L3025.9,465.0 L3025.6,456.9 L3026.5,448.4 L3026.2,440.7 L3026.8,432.6 L3026.3,424.5 L3026.8,416.5 L3026.9,408.2 L3027.3,398.7 L3028.0,389.5 L3028.5,378.6 L3029.7,386.4 L3028.9,371.1 L3029.4,362.0 L3029.3,370.2 L3029.9,378.2 L3029.7,386.2 L3030.1,394.2 L3030.6,402.1 L3030.6,410.5 L3031.2,421.6 L3032.4,416.3 L3031.7,434.5 L3031.8,442.4 L3031.8,450.8 L3032.0,458.7 L3032.4,466.7 L3032.9,474.9 L3032.7,482.7 L3033.2,490.9 L3034.2,500.4 L3034.7,512.6 L3035.9,508.1 L3034.8,519.6 L3035.5,529.3 L3036.4,538.6 L3037.0,548.0 L3037.3,558.0 L3038.5,550.3 L3038.0,567.2 L3038.4,577.1 L3038.6,586.4 L3039.2,594.6 L3039.7,602.8 L3040.0,610.8 L3040.1,619.2 L3040.8,627.4 L3041.0,635.4 L3041.2,643.6 L3042.3,634.3 L3042.5,624.5 L3043.7,615.0 L3043.5,606.9 L3044.0,598.8 L3043.7,590.9 L3044.0,582.8 L3044.1,574.2 L3044.0,566.3 L3044.2,558.3 L3044.4,550.0 L3044.3,542.0 L3044.6,533.6 L3044.6,525.4 L3044.3,517.4 L3045.0,509.4 L3044.5,501.0 L3045.0,493.0 L3045.3,484.7 L3045.2,476.7 L3044.8,468.4 L3045.6,460.6 L3045.1,452.2 L3045.3,444.6 L3045.9,435.9 L3046.0,427.9 L3045.3,420.2 L3045.5,411.5 L3046.0,403.6 L3045.9,395.5 L3046.5,386.6 L3046.7,378.3 L3047.4,369.7 L3047.5,361.1 L3047.8,351.3 L3049.0,356.4 L3048.5,343.8 L3048.5,335.0 L3048.8,343.1 L3049.0,351.8 L3049.4,360.3 L3049.8,368.7 L3050.2,376.9 L3050.1,385.3 L3050.6,393.7 L3050.8,402.3 L3050.7,410.7 L3051.3,418.9 L3051.4,427.3 L3052.0,437.6 L3052.5,441.0 L3053.7,433.8 L3053.2,448.6 L3053.9,459.1 L3054.3,468.5 L3054.8,476.6 L3056.0,471.7 L3055.6,487.7 L3055.6,497.1 L3056.4,506.8 L3057.0,514.8 L3056.7,523.3 L3057.4,531.4 L3057.4,540.2 L3058.0,548.2 L3058.2,538.7 L3059.1,528.9 L3059.3,519.4 L3060.3,510.0 L3060.3,501.8 L3060.6,494.0 L3060.9,485.4 L3061.2,477.9 L3061.7,469.2 L3061.6,461.3 L3062.0,448.6 L3063.2,455.4 L3062.4,436.9 L3062.9,429.2 L3062.8,420.9 L3062.9,412.7 L3063.0,404.5 L3063.2,396.8 L3063.9,388.4 L3064.4,380.6 L3064.1,371.9 L3064.7,360.2 L3065.9,367.4 L3064.8,347.9 L3065.4,339.8 L3066.1,349.2 L3066.2,354.9 L3067.4,347.3 L3066.3,358.2 L3066.8,367.4 L3067.2,376.7 L3067.9,386.1 L3068.2,395.5 L3068.8,404.4 L3068.7,412.7 L3068.9,421.7 L3069.2,430.1 L3069.1,439.1 L3069.7,447.7 L3069.4,456.0 L3069.7,465.1 L3070.3,473.4 L3070.5,482.3 L3070.4,490.9 L3070.4,499.3 L3070.7,507.9 L3071.4,516.5 L3071.2,524.0 L3072.4,519.6 L3071.9,533.4 L3072.0,541.9 L3071.8,550.3 L3072.0,558.8 L3072.6,567.2 L3072.3,575.5 L3073.0,584.1 L3073.0,592.7 L3073.2,583.8 L3073.7,575.4 L3073.8,566.9 L3074.5,557.3 L3075.7,563.3 L3075.1,549.7 L3075.4,541.0 L3075.5,532.3 L3075.9,542.8 L3077.1,538.4 L3076.4,550.0 L3076.8,558.7 L3076.8,567.3 L3077.1,558.0 L3077.2,548.4 L3078.2,538.4 L3078.2,532.8 L3079.4,538.6 L3078.6,528.9 L3078.7,519.5" fill="none" stroke="#df9bfa" stroke-width="3.0" stroke-linejoin="round"/>
<text x="1843.9" y="122.4" text-anchor="end">150</text>
<text x="1843.9" y="236.9" text-anchor="end">100</text>
<text x="1843.9" y="351.3" text-anchor="end">50</text>
<text x="1843.9" y="465.8" text-anchor="end">0</text>
<text x="1843.9" y="580.2" text-anchor="end">50</text>
<rect x="1752.1" y="558.70" width="30.8" height="2.3" fill="#222"/>
<text x="1843.9" y="694.7" text-anchor="end">100</text>
<rect x="1723.1" y="673.15" width="30.8" height="2.3" fill="#222"/>
<text x="1843.9" y="809.1" text-anchor="end">150</text>
<rect x="1723.1" y="787.60" width="30.8" height="2.3" fill="#222"/>
<text x="1861.5" y="881.3" text-anchor="middle">0</text>
<text x="2040.4" y="881.3" text-anchor="middle">10</text>
<text x="2219.3" y="881.3" text-anchor="middle">20</text>
<text x="2398.2" y="881.3" text-anchor="middle">30</text>
<text x="2577.1" y="881.3" text-anchor="middle">40</text>
<text x="2756.0" y="881.3" text-anchor="middle">50</text>
<text x="2934.9" y="881.3" text-anchor="middle">60</text>
<text x="3113.8" y="881.3" text-anchor="middle">70</text>
<text class="lab" x="2487.7" y="950.3" text-anchor="middle">Time (Day)</text>
<text class="cap" x="2484.1" y="1018.5" text-anchor="middle">(b)</text>
<text transform="translate(1701.5,453.9) rotate(-90)" class="lab" text-anchor="middle">Relative time delay of Kaifeng (ns)</text>
<line x1="391.9" y1="1085.2" x2="391.9" y2="1792.6" stroke="#262626" stroke-opacity="0.15" stroke-width="4"/>
<line x1="570.7" y1="1085.2" x2="570.7" y2="1792.6" stroke="#262626" stroke-opacity="0.15" stroke-width="4"/>
<line x1="749.6" y1="1085.2" x2="749.6" y2="1792.6" stroke="#262626" stroke-opacity="0.15" stroke-width="4"/>
<line x1="928.4" y1="1085.2" x2="928.4" y2="1792.6" stroke="#262626" stroke-opacity="0.15" stroke-width="4"/>
<line x1="1107.3" y1="1085.2" x2="1107.3" y2="1792.6" stroke="#262626" stroke-opacity="0.15" stroke-width="4"/>
<line x1="1286.1" y1="1085.2" x2="1286.1" y2="1792.6" stroke="#262626" stroke-opacity="0.15" stroke-width="4"/>
<line x1="213.0" y1="1221.2" x2="1465.0" y2="1221.2" stroke="#262626" stroke-opacity="0.15" stroke-width="4"/>
<line x1="213.0" y1="1450.0" x2="1465.0" y2="1450.0" stroke="#262626" stroke-opacity="0.15" stroke-width="4"/>
<line x1="213.0" y1="1678.7" x2="1465.0" y2="1678.7" stroke="#262626" stroke-opacity="0.15" stroke-width="4"/>
<line x1="391.9" y1="1792.6" x2="391.9" y2="1777.2" stroke="#222222" stroke-width="4"/>
<line x1="391.9" y1="1085.2" x2="391.9" y2="1100.6" stroke="#222222" stroke-width="4"/>
<line x1="570.7" y1="1792.6" x2="570.7" y2="1777.2" stroke="#222222" stroke-width="4"/>
<line x1="570.7" y1="1085.2" x2="570.7" y2="1100.6" stroke="#222222" stroke-width="4"/>
<line x1="749.6" y1="1792.6" x2="749.6" y2="1777.2" stroke="#222222" stroke-width="4"/>
<line x1="749.6" y1="1085.2" x2="749.6" y2="1100.6" stroke="#222222" stroke-width="4"/>
<line x1="928.4" y1="1792.6" x2="928.4" y2="1777.2" stroke="#222222" stroke-width="4"/>
<line x1="928.4" y1="1085.2" x2="928.4" y2="1100.6" stroke="#222222" stroke-width="4"/>
<line x1="1107.3" y1="1792.6" x2="1107.3" y2="1777.2" stroke="#222222" stroke-width="4"/>
<line x1="1107.3" y1="1085.2" x2="1107.3" y2="1100.6" stroke="#222222" stroke-width="4"/>
<line x1="1286.1" y1="1792.6" x2="1286.1" y2="1777.2" stroke="#222222" stroke-width="4"/>
<line x1="1286.1" y1="1085.2" x2="1286.1" y2="1100.6" stroke="#222222" stroke-width="4"/>
<line x1="213.0" y1="1221.2" x2="226.8" y2="1221.2" stroke="#222222" stroke-width="4"/>
<line x1="1465.0" y1="1221.2" x2="1451.2" y2="1221.2" stroke="#222222" stroke-width="4"/>
<line x1="213.0" y1="1450.0" x2="226.8" y2="1450.0" stroke="#222222" stroke-width="4"/>
<line x1="1465.0" y1="1450.0" x2="1451.2" y2="1450.0" stroke="#222222" stroke-width="4"/>
<line x1="213.0" y1="1678.7" x2="226.8" y2="1678.7" stroke="#222222" stroke-width="4"/>
<line x1="1465.0" y1="1678.7" x2="1451.2" y2="1678.7" stroke="#222222" stroke-width="4"/>
<rect x="213.0" y="1085.2" width="1252.0" height="707.4" fill="none" stroke="#222222" stroke-width="4"/>
<path d="M213.0,1341.8 L213.2,1333.6 L213.4,1325.3 L213.0,1317.3 L213.7,1309.1 L213.8,1300.5 L213.9,1292.3 L214.1,1284.1 L213.6,1276.2 L214.4,1268.1 L214.0,1259.8 L214.5,1251.4 L214.5,1243.2 L215.0,1234.2 L215.0,1225.1 L216.2,1215.9 L216.3,1207.2 L217.0,1198.3 L217.1,1189.1 L218.6,1200.1 L219.3,1211.4 L219.3,1219.7 L219.9,1228.8 L220.6,1237.1 L220.4,1242.4 L221.6,1235.9 L220.8,1254.3 L221.4,1262.9 L221.5,1271.8 L224.1,1281.4 L224.6,1289.8 L224.9,1298.0 L225.7,1306.8 L227.9,1313.2 L228.6,1303.7 L229.3,1294.4 L230.5,1284.5 L231.1,1276.2 L231.6,1267.4 L232.1,1259.2 L233.1,1250.5 L233.7,1241.8 L234.3,1233.6 L234.7,1242.7 L235.6,1251.3 L236.0,1260.6 L236.1,1269.2 L236.8,1278.2 L239.4,1281.4 L241.6,1284.5 L242.4,1294.1 L243.8,1303.6 L245.7,1313.2 L246.2,1304.9 L246.3,1296.8 L246.5,1288.2 L246.5,1279.6 L246.5,1271.9 L246.6,1263.1 L247.0,1255.1 L247.3,1246.7 L247.3,1236.8 L248.5,1244.3 L247.4,1229.8 L247.3,1221.7 L247.5,1213.1 L248.0,1205.0 L248.4,1213.5 L247.9,1221.7 L248.2,1229.9 L248.8,1238.3 L249.0,1246.6 L249.2,1254.4 L248.7,1263.0 L248.8,1270.9 L249.4,1279.3 L249.5,1287.7 L249.9,1279.4 L250.5,1270.8 L250.6,1259.1 L251.8,1266.9 L250.6,1254.2 L251.3,1246.2 L251.3,1237.3 L251.8,1229.1 L252.1,1220.9 L252.4,1212.0 L252.8,1203.3 L252.6,1194.3 L253.0,1184.9 L253.2,1176.3 L253.2,1167.5 L253.9,1158.4 L253.7,1149.3 L253.9,1158.0 L253.9,1166.3 L254.3,1174.6 L254.2,1182.9 L254.6,1194.9 L255.8,1189.4 L255.2,1208.4 L255.0,1216.9 L255.1,1225.1 L255.1,1233.5 L255.4,1242.0 L255.7,1250.4 L255.9,1259.1 L256.1,1268.4 L256.3,1277.0 L257.0,1286.3 L257.5,1295.3 L257.8,1304.3 L258.5,1313.4 L258.5,1322.7 L259.6,1333.5 L260.2,1343.8 L260.7,1354.5 L262.0,1362.4 L262.7,1370.3 L263.5,1378.2 L264.5,1386.4 L264.9,1378.0 L265.0,1369.3 L264.8,1361.0 L265.3,1352.7 L265.5,1344.0 L265.7,1335.6 L265.4,1327.1 L265.7,1318.2 L266.0,1309.8 L266.5,1301.3 L266.1,1293.1 L266.5,1284.6 L266.8,1276.2 L266.5,1267.3 L267.0,1259.1 L267.3,1250.8 L267.3,1241.8 L267.9,1233.2 L267.5,1224.7 L268.1,1216.4 L268.0,1207.7 L268.6,1199.2 L268.3,1190.5 L269.2,1182.1 L268.6,1173.6 L269.2,1164.9 L269.5,1156.1 L269.6,1147.7 L271.8,1141.4 L272.0,1149.9 L272.5,1158.8 L272.7,1167.3 L272.4,1175.6 L272.9,1183.9 L273.4,1192.8 L273.4,1201.4 L273.7,1210.0 L273.6,1218.3 L273.9,1227.0 L273.9,1235.6 L274.3,1244.3 L274.4,1252.7 L275.1,1262.0 L275.2,1271.6 L276.0,1281.3 L276.6,1290.9 L277.2,1300.4 L278.1,1310.1 L279.0,1319.7 L279.8,1329.1 L280.9,1339.8 L281.5,1350.3 L282.0,1360.9 L282.3,1352.5 L282.3,1343.9 L282.7,1335.9 L282.5,1327.2 L282.9,1318.9 L282.9,1310.4 L283.3,1302.0 L283.5,1293.8 L284.0,1285.0 L284.0,1276.9 L283.9,1268.5 L283.8,1260.0 L284.6,1251.6 L284.5,1243.2 L284.5,1234.7 L285.1,1226.0 L285.0,1217.3 L285.1,1209.0 L285.6,1200.5 L285.7,1190.5 L286.9,1197.6 L286.0,1183.2 L285.8,1174.5 L286.2,1165.9 L286.3,1157.8 L286.5,1148.9 L287.2,1140.1 L287.1,1131.8 L289.3,1123.9 L289.2,1132.2 L289.8,1140.3 L289.7,1148.7 L290.2,1156.7 L290.0,1165.4 L290.8,1173.5 L290.6,1181.6 L291.2,1189.8 L290.9,1198.0 L291.5,1206.4 L291.8,1214.5 L291.8,1222.7 L291.7,1231.4 L291.9,1239.4 L292.6,1247.9 L292.5,1255.9 L293.7,1265.6 L294.3,1275.2 L295.7,1284.5 L296.9,1293.5 L297.3,1302.5 L298.6,1312.0 L299.5,1321.1 L300.3,1311.5 L300.5,1302.3 L300.8,1297.0 L302.0,1304.9 L300.6,1292.4 L301.7,1282.8 L302.0,1273.4 L302.5,1285.5 L303.6,1297.3 L303.7,1288.8 L304.1,1280.3 L304.2,1272.2 L304.3,1263.5 L304.7,1255.5 L305.1,1247.2 L305.3,1235.9 L306.5,1241.6 L305.6,1230.0 L306.1,1222.0 L306.1,1213.5 L306.2,1205.0 L306.4,1212.9 L306.7,1221.3 L307.5,1229.6 L307.2,1237.8 L307.8,1246.2 L308.2,1253.8 L308.4,1262.3 L311.6,1271.8 L313.2,1259.1 L314.6,1268.8 L316.4,1278.2 L317.0,1287.8 L317.9,1297.3 L318.8,1288.6 L319.3,1280.4 L320.2,1271.8 L321.6,1281.2 L322.7,1290.9 L325.3,1278.2 L326.2,1288.0 L326.8,1297.1 L327.5,1306.8 L330.7,1319.5 L331.5,1327.2 L332.9,1335.4 L333.9,1343.6 L334.7,1351.4 L335.4,1359.3 L335.7,1350.4 L336.2,1341.6 L336.5,1332.9 L337.0,1327.6 L338.2,1334.1 L336.7,1324.2 L337.5,1315.3 L338.0,1306.8 L338.5,1297.9 L338.7,1289.1 L339.0,1280.6 L338.8,1271.5 L339.4,1262.4 L339.2,1254.1 L339.6,1244.7 L339.8,1236.1 L340.2,1227.3 L340.6,1218.2 L340.5,1209.5 L341.2,1198.6 L342.4,1204.7 L341.5,1191.7 L341.7,1183.0 L341.9,1174.2 L342.4,1165.2 L342.4,1173.7 L342.7,1182.5 L342.9,1190.7 L343.3,1199.2 L343.6,1207.9 L343.2,1216.3 L343.6,1224.7 L344.2,1233.6 L344.3,1242.0 L344.3,1250.5 L344.4,1259.1 L344.9,1268.4 L345.8,1278.2 L346.0,1287.9 L346.6,1297.3 L348.8,1294.1 L349.2,1303.0 L349.5,1311.8 L350.5,1320.6 L350.7,1329.6 L351.4,1338.6 L352.2,1329.7 L353.3,1320.1 L353.3,1315.8 L354.5,1323.6 L353.8,1311.3 L354.5,1302.0 L354.7,1311.1 L355.2,1320.6 L355.5,1330.0 L355.8,1339.2 L356.7,1348.6 L357.1,1357.7 L360.3,1351.4 L362.5,1337.0 L363.0,1345.3 L363.2,1354.0 L362.8,1362.6 L362.9,1371.1 L363.7,1379.7 L363.6,1388.1 L364.2,1396.8 L364.1,1405.4 L364.7,1414.5 L365.0,1423.7 L365.9,1432.4 L366.1,1441.7 L366.5,1450.7 L367.3,1459.5 L368.3,1468.8 L369.0,1480.8 L370.2,1473.5 L369.7,1488.1 L370.4,1497.7 L370.7,1489.2 L371.6,1481.1 L371.9,1472.9 L372.7,1464.3 L373.5,1472.9 L374.1,1482.7 L375.3,1477.1 L374.5,1489.3 L375.2,1497.7 L376.2,1487.9 L376.7,1478.6 L377.4,1469.1 L377.6,1477.9 L378.0,1486.1 L378.4,1494.8 L378.8,1503.6 L379.6,1511.8 L379.7,1520.3 L379.8,1528.7 L380.6,1537.5 L381.0,1528.3 L382.2,1519.2 L382.3,1510.1 L383.2,1500.9 L384.5,1509.1 L386.4,1516.8 L388.9,1516.8 L389.2,1508.5 L389.8,1500.2 L389.9,1492.3 L390.1,1483.7 L390.8,1475.8 L390.8,1467.6 L391.0,1459.0 L391.2,1450.9 L392.0,1442.7 L391.8,1434.8 L392.7,1426.3 L392.7,1418.2 L393.7,1409.2 L394.5,1401.0 L395.3,1393.9 L396.5,1398.2 L396.5,1383.2 L397.3,1391.9 L397.8,1401.0 L398.1,1409.4 L399.1,1418.2 L401.5,1423.6 L403.5,1436.4 L406.6,1442.7 L407.7,1434.1 L408.8,1425.6 L409.8,1417.3 L409.8,1408.8 L410.3,1400.8 L410.5,1389.9 L411.7,1396.1 L410.8,1383.7 L411.2,1375.6 L411.1,1367.1 L411.5,1358.3 L411.5,1349.9 L411.2,1341.6 L411.7,1333.7 L412.0,1325.0 L413.1,1314.2 L413.2,1303.6 L414.3,1293.2 L414.2,1302.1 L414.6,1311.1 L415.5,1319.9 L415.5,1328.5 L415.6,1335.9 L416.8,1331.5 L416.1,1346.1 L416.1,1354.7 L416.6,1364.0 L416.8,1372.7 L417.3,1382.1 L418.4,1391.6 L419.0,1401.0 L419.3,1410.9 L420.0,1420.4 L420.4,1429.9 L421.1,1441.2 L422.3,1436.1 L421.3,1449.0 L422.1,1458.5 L422.5,1468.2 L423.3,1477.3 L423.7,1486.5 L424.5,1496.1 L424.7,1504.8 L425.7,1514.3 L425.5,1505.9 L425.9,1497.4 L426.2,1489.4 L426.0,1481.2 L426.6,1472.6 L426.6,1464.2 L426.6,1455.9 L426.7,1447.7 L426.6,1439.4 L426.9,1430.7 L427.4,1422.5 L427.4,1414.6 L427.3,1405.9 L427.7,1397.4 L427.4,1389.2 L428.1,1381.0 L428.0,1372.7 L428.3,1364.5 L428.3,1356.7 L428.5,1348.5 L428.3,1340.3 L428.6,1332.1 L428.9,1323.9 L429.3,1315.9 L429.5,1307.9 L429.3,1299.6 L429.0,1291.4 L429.5,1283.6 L430.3,1273.8 L430.5,1264.6 L430.8,1254.9 L431.5,1245.5 L432.1,1235.9 L432.6,1244.2 L432.7,1251.9 L432.6,1260.6 L433.1,1268.5 L433.6,1276.7 L433.8,1284.9 L434.1,1293.0 L434.3,1301.2 L434.3,1309.1 L434.4,1317.1 L434.8,1325.6 L435.4,1333.8 L435.8,1337.1 L437.0,1330.6 L435.8,1342.3 L436.5,1350.4 L437.7,1359.8 L438.1,1369.2 L439.1,1379.1 L441.6,1385.4 L443.9,1398.2 L443.8,1407.2 L444.1,1416.0 L444.8,1424.6 L444.5,1433.3 L444.7,1441.8 L445.3,1452.3 L446.5,1446.0 L445.8,1459.5 L445.9,1468.2 L446.1,1476.7 L446.1,1485.7 L446.4,1477.7 L446.2,1469.8 L446.3,1461.5 L446.4,1453.4 L446.3,1445.5 L446.5,1437.7 L446.8,1429.3 L446.8,1421.3 L446.9,1413.3 L447.1,1405.5 L447.4,1397.7 L447.5,1389.3 L447.1,1381.4 L447.2,1373.4 L447.2,1365.4 L447.6,1357.0 L447.6,1349.4 L447.6,1341.3 L447.8,1333.4 L448.0,1325.4 L447.8,1317.2 L448.0,1309.1 L448.6,1300.8 L448.9,1292.6 L448.9,1283.6 L449.5,1275.6 L449.8,1267.3 L450.0,1258.8 L450.2,1250.2 L450.3,1258.5 L451.1,1267.4 L451.2,1279.4 L452.4,1272.4 L451.1,1284.5 L452.0,1293.1 L451.7,1301.7 L452.0,1310.0 L452.5,1318.6 L452.8,1327.1 L453.2,1335.2 L453.3,1343.2 L454.1,1351.8 L454.4,1360.0 L455.4,1369.6 L456.6,1379.1 L456.7,1387.4 L457.5,1395.7 L457.9,1403.6 L458.2,1409.1 L459.4,1404.3 L458.7,1412.3 L458.8,1420.4 L459.3,1430.2 L460.3,1439.7 L460.7,1449.1 L461.2,1440.4 L460.8,1432.0 L461.6,1423.6 L462.0,1415.0 L461.9,1406.6 L461.8,1398.4 L462.2,1389.4 L462.7,1381.3 L463.0,1372.7 L462.9,1364.7 L463.1,1356.5 L463.6,1348.5 L463.8,1340.2 L463.8,1332.0 L464.1,1323.8 L464.5,1316.1 L464.3,1307.7 L465.0,1299.6 L464.8,1291.8 L465.2,1283.6 L468.4,1280.4 L469.1,1289.1 L468.9,1294.0 L470.1,1290.0 L468.9,1297.6 L469.7,1306.0 L469.6,1314.5 L469.8,1323.1 L470.3,1331.4 L473.5,1331.4 L475.4,1339.4 L476.6,1347.3 L477.6,1358.6 L478.9,1369.5 L479.7,1360.5 L479.8,1352.3 L480.5,1343.0 L481.1,1334.5 L481.5,1325.8 L481.8,1317.6 L482.1,1308.3 L483.3,1312.5 L482.3,1300.8 L482.8,1292.3 L483.0,1283.6 L483.3,1275.6 L483.7,1267.1 L484.8,1259.0 L485.1,1251.2 L486.3,1256.3 L486.0,1242.8 L486.2,1234.3 L486.7,1242.6 L486.8,1250.7 L487.0,1259.3 L487.0,1267.5 L487.2,1275.9 L487.7,1284.2 L487.9,1292.3 L488.0,1300.7 L488.4,1309.1 L488.9,1317.9 L489.5,1327.2 L489.6,1335.7 L489.9,1344.8 L490.6,1353.6 L491.2,1361.9 L491.8,1370.6 L492.9,1380.9 L494.1,1376.6 L493.0,1387.4 L494.3,1396.1 L494.8,1404.5 L495.7,1413.2 L496.9,1421.6 L497.9,1430.0 L498.2,1422.1 L498.5,1413.7 L498.6,1405.5 L499.3,1397.3 L499.4,1388.9 L500.0,1381.1 L500.2,1372.7 L500.4,1364.3 L500.8,1356.0 L500.7,1347.8 L500.9,1339.2 L500.8,1330.9 L501.0,1322.8 L501.6,1314.3 L501.4,1305.8 L501.5,1297.4 L501.4,1289.2 L501.8,1281.0 L502.2,1272.7 L501.9,1264.2 L502.7,1255.6 L502.7,1247.4 L502.7,1239.1 L503.9,1247.0 L505.3,1255.0 L505.7,1263.2 L505.4,1272.0 L505.7,1280.1 L506.3,1288.7 L506.1,1296.7 L506.3,1305.3 L507.1,1313.5 L506.8,1321.9 L507.5,1330.7 L507.3,1339.2 L507.5,1347.3 L508.5,1356.4 L508.7,1365.2 L509.3,1373.7 L509.8,1383.2 L510.7,1391.8 L510.9,1401.6 L512.2,1411.0 L512.3,1420.7 L512.9,1430.0 L513.6,1438.1 L514.2,1447.0 L514.1,1454.9 L514.8,1463.4 L515.2,1455.0 L515.6,1446.8 L515.7,1438.7 L515.8,1430.3 L515.9,1421.9 L516.0,1413.7 L515.9,1405.4 L516.1,1397.5 L517.0,1389.4 L516.8,1381.0 L517.0,1372.7 L517.1,1363.8 L517.2,1355.1 L517.3,1346.5 L517.9,1338.1 L518.0,1329.5 L518.1,1320.4 L518.1,1311.9 L518.7,1303.3 L519.2,1294.7 L519.3,1285.7 L519.3,1277.3 L519.5,1268.3 L519.9,1259.3 L520.3,1250.4 L521.1,1241.5 L521.4,1232.2 L521.8,1223.2 L522.4,1231.3 L522.7,1239.9 L523.0,1248.1 L523.2,1256.6 L523.4,1264.8 L524.0,1273.4 L523.7,1281.9 L524.4,1290.0 L525.8,1298.5 L526.6,1306.7 L527.5,1315.4 L528.0,1324.2 L529.0,1332.7 L529.8,1340.9 L530.6,1350.4 L531.5,1359.8 L532.0,1369.5 L533.4,1358.4 L534.5,1347.3 L536.3,1337.9 L537.7,1328.2 L538.8,1319.2 L539.3,1310.7 L539.9,1319.4 L541.1,1328.9 L541.5,1337.7 L542.7,1346.3 L543.0,1354.8 L544.1,1363.2 L547.3,1375.9 L550.4,1369.5 L551.8,1359.9 L553.6,1350.4 L556.2,1339.3 L557.1,1348.2 L557.5,1357.5 L557.8,1365.3 L559.0,1361.3 L558.4,1375.9 L560.3,1383.9 L561.6,1391.8 L562.2,1401.5 L563.2,1411.2 L564.2,1420.6 L564.8,1430.0 L566.3,1441.3 L567.9,1452.3 L568.7,1441.8 L569.3,1430.9 L570.2,1420.4 L570.6,1412.0 L570.3,1403.2 L570.9,1394.8 L571.1,1385.9 L571.5,1377.6 L571.2,1368.9 L571.3,1360.5 L571.7,1352.1 L571.7,1343.3 L572.4,1334.5 L572.7,1326.3 L572.2,1317.5 L572.7,1309.1 L573.2,1300.2 L574.2,1291.8 L574.8,1282.8 L575.3,1274.1 L575.6,1282.6 L575.6,1290.5 L576.5,1299.3 L576.5,1307.4 L576.6,1316.0 L576.7,1324.5 L577.3,1332.6 L577.5,1340.9 L579.4,1350.2 L580.7,1360.0 L581.2,1368.4 L581.6,1376.8 L581.5,1385.4 L581.9,1394.6 L582.6,1403.1 L582.7,1411.9 L583.8,1421.3 L584.1,1430.0 L586.6,1442.7 L588.0,1434.5 L588.9,1426.8 L589.4,1418.2 L589.6,1410.0 L589.4,1401.3 L589.7,1392.6 L589.8,1384.1 L589.8,1376.1 L589.8,1367.7 L590.8,1358.8 L590.9,1350.3 L591.0,1341.9 L590.8,1333.5 L591.1,1325.0 L591.3,1316.8 L591.1,1307.7 L591.9,1299.3 L592.0,1291.1 L592.1,1282.9 L592.2,1269.1 L593.4,1275.2 L592.2,1257.1 L592.5,1248.5 L592.5,1240.2 L592.6,1231.8 L593.4,1223.4 L593.0,1214.6 L593.8,1205.9 L593.6,1197.7 L593.6,1206.0 L593.9,1214.6 L594.2,1223.7 L594.0,1231.7 L594.3,1240.6 L594.8,1250.0 L596.0,1243.1 L595.3,1257.4 L594.9,1266.3 L595.3,1274.8 L595.5,1283.5 L595.4,1291.7 L596.3,1300.7 L596.2,1309.1 L596.5,1317.7 L597.3,1327.0 L597.5,1335.7 L598.1,1344.7 L598.4,1353.6 L599.1,1362.5 L599.7,1371.0 L599.8,1379.8 L600.4,1391.3 L601.6,1385.1 L600.8,1396.8 L600.8,1405.3 L601.6,1414.1 L603.0,1422.0 L604.0,1430.2 L604.8,1437.9 L604.7,1430.0 L605.1,1421.8 L605.9,1413.6 L605.8,1405.6 L606.0,1397.4 L606.1,1389.7 L606.8,1381.2 L606.7,1373.0 L607.6,1365.1 L607.8,1357.0 L608.1,1349.1 L608.0,1340.9 L608.3,1332.8 L608.3,1324.8 L608.9,1316.5 L609.0,1308.5 L608.8,1300.4 L609.3,1292.3 L609.4,1284.7 L610.2,1276.4 L610.2,1268.4 L610.4,1260.2 L610.6,1252.3 L610.9,1244.1 L610.5,1236.0 L611.1,1228.0 L611.5,1236.3 L611.7,1244.3 L612.1,1252.6 L611.7,1260.2 L612.0,1268.6 L612.8,1276.7 L612.4,1285.0 L612.6,1293.0 L612.9,1301.2 L613.4,1309.1 L614.2,1317.5 L614.1,1320.9 L615.3,1314.8 L614.4,1325.8 L615.2,1333.9 L615.5,1342.4 L615.9,1350.4 L616.2,1359.9 L617.0,1369.5 L617.5,1374.1 L618.7,1368.2 L617.4,1378.8 L618.3,1388.4 L619.1,1398.2 L620.0,1406.8 L620.7,1415.2 L621.7,1420.8 L622.9,1415.2 L622.0,1423.3 L622.9,1431.6 L623.4,1423.2 L623.5,1414.7 L623.8,1406.2 L624.4,1398.1 L624.7,1389.5 L624.9,1381.2 L625.5,1372.7 L625.6,1363.3 L626.5,1354.6 L627.1,1345.1 L627.4,1336.1 L628.2,1344.7 L628.3,1352.7 L629.5,1346.6 L629.1,1362.1 L629.2,1371.4 L629.4,1379.8 L630.2,1388.6 L630.9,1399.4 L631.5,1409.9 L632.5,1420.4 L632.9,1430.1 L633.9,1441.4 L635.1,1434.9 L634.1,1448.8 L635.0,1458.6 L637.5,1468.2 L638.1,1478.9 L639.2,1489.4 L639.8,1500.0 L642.0,1504.8 L641.9,1496.7 L641.9,1488.5 L642.6,1480.1 L642.9,1471.8 L642.9,1463.4 L642.6,1455.5 L642.7,1447.0 L643.4,1431.5 L644.6,1436.9 L643.3,1422.4 L643.4,1414.2 L644.1,1405.7 L644.0,1397.6 L644.5,1389.3 L644.5,1381.2 L644.5,1372.7 L645.4,1363.3 L645.5,1356.3 L646.7,1360.6 L645.8,1353.7 L646.2,1344.0 L646.8,1334.5 L646.9,1343.5 L647.6,1351.8 L647.7,1360.8 L648.2,1369.5 L648.7,1378.5 L648.5,1382.7 L649.7,1378.7 L648.7,1387.2 L649.0,1395.7 L649.3,1404.5 L652.5,1407.7 L653.8,1419.1 L655.0,1430.0 L655.3,1438.3 L655.6,1446.9 L656.0,1455.4 L656.6,1465.4 L657.8,1460.6 L656.6,1472.2 L657.3,1480.9 L659.8,1482.5 L660.1,1474.0 L660.4,1465.8 L660.1,1457.0 L660.4,1448.8 L660.2,1440.2 L661.1,1431.9 L661.0,1423.3 L661.1,1414.8 L661.1,1406.2 L661.6,1398.2 L662.0,1389.5 L661.8,1381.1 L662.0,1372.7 L662.1,1364.1 L662.5,1355.8 L662.5,1347.5 L662.9,1339.6 L663.4,1332.7 L664.6,1337.0 L663.7,1322.6 L664.3,1314.2 L664.3,1305.9 L664.9,1314.0 L664.9,1322.7 L665.4,1331.1 L665.8,1339.3 L665.9,1347.4 L666.2,1356.2 L666.8,1364.4 L666.8,1372.7 L668.2,1384.1 L670.0,1395.0 L671.4,1405.5 L671.9,1416.2 L673.2,1426.8 L677.0,1430.0 L677.4,1421.8 L677.2,1414.1 L677.7,1405.9 L677.7,1397.4 L678.1,1389.5 L678.6,1381.6 L678.7,1373.4 L678.5,1365.1 L679.3,1357.0 L679.5,1349.2 L679.5,1340.9 L680.2,1331.7 L681.1,1322.8 L682.1,1313.6 L683.4,1304.3 L683.7,1313.3 L684.2,1321.9 L684.7,1331.2 L684.5,1339.6 L685.2,1348.6 L686.4,1341.5 L685.2,1357.8 L685.9,1366.4 L689.1,1372.7 L690.3,1383.9 L691.6,1395.0 L692.3,1403.8 L692.4,1412.3 L693.5,1421.2 L693.9,1430.0 L694.4,1420.6 L694.5,1410.6 L694.7,1403.3 L695.9,1409.6 L695.4,1391.6 L695.4,1382.3 L698.0,1379.1 L698.3,1370.2 L699.6,1361.3 L700.1,1352.2 L700.6,1343.2 L701.2,1334.5 L701.8,1344.3 L701.9,1353.6 L703.1,1363.3 L703.4,1372.7 L706.6,1369.5 L707.0,1379.1 L708.4,1388.8 L708.8,1398.2 L709.6,1406.3 L710.2,1414.5 L710.0,1423.1 L711.1,1433.0 L712.3,1428.7 L711.2,1439.4 L712.0,1447.5 L711.9,1439.3 L712.6,1431.1 L712.3,1423.2 L712.4,1415.2 L712.7,1406.8 L713.1,1398.7 L712.7,1390.6 L713.5,1382.4 L713.4,1374.0 L713.2,1366.0 L713.9,1358.1 L713.8,1350.0 L713.9,1341.9 L713.7,1333.5 L714.0,1325.7 L714.4,1317.5 L714.5,1309.1 L714.8,1300.4 L715.5,1291.9 L715.4,1283.5 L716.1,1275.1 L716.0,1266.4 L716.7,1258.1 L717.2,1249.1 L717.2,1240.9 L717.9,1232.4 L718.0,1223.8 L718.4,1215.2 L718.9,1223.7 L718.8,1232.8 L719.2,1241.3 L719.9,1249.9 L720.0,1258.3 L720.1,1266.9 L720.4,1276.1 L720.5,1284.5 L720.9,1293.2 L721.0,1302.6 L721.5,1312.2 L722.4,1321.7 L723.1,1331.3 L723.4,1340.9 L726.6,1350.4 L729.8,1356.8 L731.3,1364.5 L732.0,1372.7 L733.5,1363.4 L734.3,1353.6 L735.4,1344.8 L736.3,1336.7 L737.4,1328.2 L738.0,1337.6 L739.0,1347.5 L739.5,1357.0 L740.0,1366.4 L742.5,1372.7 L744.8,1379.1 L747.0,1382.3 L747.9,1374.6 L748.9,1366.4 L749.0,1374.5 L748.8,1382.2 L749.0,1390.7 L749.3,1401.7 L750.5,1394.0 L749.6,1414.4 L749.3,1422.7 L749.3,1431.0 L750.1,1439.0 L749.9,1447.0 L750.0,1454.7 L749.8,1462.7 L749.7,1470.8 L750.3,1479.3 L750.4,1487.1 L750.0,1495.2 L750.5,1503.2 L750.6,1495.0 L750.5,1486.9 L750.7,1478.5 L750.7,1470.5 L751.5,1462.6 L751.5,1454.5 L751.6,1446.3 L751.6,1438.0 L751.5,1429.7 L752.2,1421.6 L752.2,1413.6 L752.2,1405.5 L752.3,1397.3 L752.1,1389.1 L753.0,1381.1 L752.7,1372.7 L753.0,1363.0 L753.9,1353.4 L753.9,1344.0 L754.3,1334.7 L754.9,1325.0 L754.9,1333.5 L755.3,1342.8 L755.7,1351.7 L756.3,1360.0 L756.7,1369.0 L756.7,1378.1 L757.1,1387.1 L757.5,1395.5 L757.5,1404.5 L758.3,1414.3 L759.0,1423.5 L758.8,1433.1 L759.7,1442.7 L760.2,1451.4 L760.3,1460.0 L762.5,1466.4 L763.1,1474.6 L763.9,1483.2 L764.1,1491.8 L766.6,1504.5 L766.9,1495.4 L767.2,1486.4 L767.5,1477.2 L767.6,1468.2 L768.1,1459.3 L768.8,1450.2 L768.9,1440.9 L768.9,1432.0 L769.5,1423.2 L769.2,1414.2 L769.6,1405.7 L769.8,1395.6 L771.0,1402.0 L769.7,1388.1 L770.2,1379.1 L770.5,1370.5 L770.5,1361.4 L771.0,1352.7 L771.0,1344.3 L771.3,1335.7 L771.4,1326.9 L771.8,1319.4 L773.0,1323.6 L772.5,1310.1 L772.3,1301.4 L772.7,1293.0 L773.0,1301.5 L773.0,1310.0 L773.6,1318.8 L773.6,1329.6 L774.8,1322.4 L773.4,1336.1 L774.1,1344.7 L774.4,1353.5 L774.5,1361.8 L774.7,1370.3 L774.5,1378.9 L775.4,1387.5 L775.2,1396.4 L776.3,1405.7 L777.5,1415.4 L777.7,1423.4 L778.0,1431.9 L778.3,1439.7 L778.7,1448.2 L779.3,1456.4 L779.4,1464.8 L780.0,1472.7 L780.5,1481.2 L780.4,1489.8 L781.5,1498.0 L781.6,1505.0 L782.8,1498.3 L782.4,1515.0 L782.5,1523.6 L785.7,1526.8 L786.3,1518.6 L785.6,1510.0 L786.3,1501.5 L786.5,1493.4 L786.8,1484.9 L786.7,1476.7 L787.9,1480.8 L786.5,1468.2 L786.7,1459.3 L787.0,1450.9 L787.6,1443.0 L787.7,1434.5 L787.9,1426.1 L788.2,1417.4 L788.0,1409.1 L788.7,1399.0 L789.9,1405.9 L789.1,1389.2 L790.2,1378.9 L790.2,1387.5 L790.8,1396.9 L791.1,1405.6 L792.0,1414.2 L792.2,1422.9 L792.3,1432.3 L792.7,1440.9 L793.8,1450.3 L793.9,1454.8 L795.1,1450.7 L794.3,1459.7 L795.2,1469.7 L795.9,1479.1 L798.5,1488.6 L800.1,1499.9 L801.6,1510.9 L801.9,1501.2 L802.5,1491.7 L803.4,1482.0 L803.9,1472.7 L804.7,1463.3 L804.8,1454.0 L805.9,1445.0 L806.6,1436.1 L807.0,1426.6 L809.6,1431.4 L810.0,1440.3 L810.4,1444.1 L811.6,1436.3 L810.4,1449.1 L811.5,1458.4 L812.1,1466.8 L812.5,1475.9 L813.4,1465.0 L815.0,1453.6 L818.2,1460.0 L820.7,1466.4 L821.4,1457.5 L821.8,1449.0 L822.5,1445.1 L823.7,1452.4 L822.9,1440.1 L823.6,1431.4 L826.1,1440.9 L827.6,1448.7 L828.4,1456.8 L830.9,1469.5 L833.5,1479.1 L833.8,1487.4 L834.3,1495.9 L834.8,1503.5 L836.0,1496.9 L835.1,1512.0 L835.7,1520.4 L837.4,1528.5 L838.9,1536.4 L839.0,1527.9 L839.5,1520.2 L840.1,1511.8 L840.5,1503.5 L840.5,1495.3 L840.9,1487.1 L841.1,1479.1 L841.4,1470.3 L842.3,1461.1 L842.3,1452.1 L842.9,1442.9 L843.5,1434.3 L843.6,1425.0 L843.9,1434.3 L844.8,1444.1 L845.1,1453.4 L845.5,1463.0 L846.2,1472.7 L846.7,1481.4 L847.0,1490.4 L847.4,1498.7 L847.6,1507.6 L847.4,1512.1 L848.6,1508.1 L847.6,1516.2 L847.5,1525.3 L847.9,1533.9 L848.4,1542.7 L851.6,1552.3 L852.0,1561.6 L852.6,1571.6 L853.3,1580.8 L853.5,1590.2 L853.8,1600.0 L855.2,1610.1 L855.1,1612.5 L856.3,1608.4 L856.3,1620.0 L857.0,1630.2 L856.8,1621.8 L857.6,1613.9 L857.3,1605.1 L857.2,1596.8 L857.4,1588.6 L858.0,1580.2 L858.3,1572.0 L857.7,1563.7 L858.6,1555.6 L858.1,1547.5 L858.1,1538.8 L858.9,1530.9 L858.9,1522.2 L859.0,1513.9 L859.2,1505.9 L859.4,1497.8 L859.0,1489.2 L859.0,1481.2 L859.5,1472.7 L860.3,1463.3 L860.8,1454.3 L861.4,1445.2 L861.8,1435.7 L862.1,1426.6 L862.8,1435.5 L863.1,1445.0 L863.2,1454.5 L864.1,1463.5 L864.3,1472.7 L865.3,1482.4 L865.2,1491.8 L866.4,1501.1 L866.9,1511.1 L867.5,1520.4 L868.4,1511.7 L869.0,1503.4 L869.7,1495.0 L870.1,1503.8 L871.2,1512.3 L871.4,1521.1 L872.3,1530.0 L873.7,1541.4 L874.8,1552.3 L875.4,1543.7 L874.8,1535.1 L875.5,1526.3 L875.6,1518.1 L876.0,1509.5 L876.0,1500.8 L875.7,1492.1 L875.8,1483.9 L876.3,1475.3 L876.7,1466.6 L876.3,1458.1 L877.1,1449.6 L877.0,1440.9 L877.3,1431.7 L878.6,1422.7 L878.6,1413.9 L880.0,1404.8 L880.3,1395.9 L880.9,1386.8 L881.0,1395.3 L881.5,1404.5 L881.7,1413.3 L882.3,1425.1 L883.5,1419.3 L882.8,1430.4 L882.7,1439.2 L883.1,1448.2 L883.4,1456.8 L884.2,1465.0 L884.2,1473.1 L884.6,1481.2 L884.8,1489.6 L885.6,1495.3 L886.8,1489.4 L886.2,1505.7 L886.6,1514.1 L889.8,1523.6 L890.3,1515.2 L891.2,1506.7 L892.0,1498.2 L892.3,1490.1 L892.2,1481.9 L893.0,1473.9 L892.9,1465.6 L893.0,1457.7 L893.3,1449.6 L893.5,1441.3 L893.6,1433.5 L893.8,1425.2 L894.3,1417.0 L894.5,1409.1 L894.8,1401.2 L895.2,1390.8 L896.4,1395.8 L895.8,1384.5 L896.1,1376.5 L895.8,1368.6 L896.7,1360.1 L896.9,1352.1 L897.1,1343.9 L899.3,1351.8 L899.2,1359.9 L900.0,1367.7 L899.9,1376.2 L899.9,1384.2 L900.7,1392.1 L900.8,1400.4 L900.9,1408.2 L900.7,1416.7 L901.2,1424.9 L901.2,1433.1 L901.5,1440.9 L902.1,1449.2 L903.5,1457.7 L904.1,1466.4 L905.6,1474.8 L906.2,1483.1 L907.3,1491.8 L908.0,1500.0 L908.9,1508.7 L909.8,1517.3 L910.0,1508.8 L910.7,1500.7 L910.2,1492.0 L910.4,1484.2 L911.0,1475.8 L911.1,1467.1 L911.4,1458.7 L912.1,1450.8 L912.2,1442.4 L912.6,1434.2 L912.4,1425.6 L912.6,1417.3 L913.0,1409.1 L913.0,1401.0 L913.8,1392.6 L914.0,1384.3 L913.7,1375.4 L914.0,1367.5 L914.7,1359.2 L914.9,1350.8 L916.1,1357.8 L914.8,1342.6 L915.3,1334.1 L915.4,1325.3 L915.8,1317.0 L916.2,1308.9 L916.5,1317.7 L916.6,1325.9 L917.4,1334.4 L917.3,1343.2 L917.7,1351.7 L917.7,1359.9 L918.4,1368.9 L918.4,1377.3 L918.8,1386.4 L918.7,1395.7 L919.5,1404.4 L920.0,1413.8 L919.7,1423.0 L920.2,1431.7 L920.6,1440.9 L921.1,1449.6 L921.1,1458.1 L921.7,1470.2 L922.9,1464.3 L922.3,1483.6 L922.8,1492.2 L922.7,1501.0 L923.2,1509.8 L923.6,1518.4 L923.8,1526.8 L924.9,1535.0 L926.2,1544.0 L927.0,1552.3 L926.8,1543.7 L927.6,1535.6 L927.7,1527.2 L927.5,1518.6 L927.6,1510.0 L928.5,1501.6 L928.0,1493.6 L928.8,1484.8 L928.5,1476.7 L928.5,1468.3 L929.1,1459.6 L929.0,1451.5 L929.7,1442.9 L929.3,1434.5 L929.5,1425.9 L930.1,1417.4 L930.2,1409.1 L930.8,1400.8 L931.0,1392.1 L931.4,1383.6 L932.0,1375.0 L932.3,1366.9 L932.7,1358.2 L932.3,1349.4 L932.7,1341.0 L933.4,1332.7 L934.2,1341.8 L934.1,1350.6 L934.9,1359.5 L935.7,1368.6 L935.9,1377.3 L936.1,1386.0 L936.7,1398.1 L937.9,1394.1 L937.0,1403.9 L937.6,1412.3 L937.7,1421.4 L938.0,1430.1 L938.4,1439.4 L938.5,1447.9 L939.1,1456.8 L939.5,1464.9 L939.4,1473.8 L939.9,1482.0 L940.5,1490.6 L940.0,1499.0 L940.6,1507.0 L941.1,1515.5 L940.7,1524.1 L941.5,1532.6 L941.5,1540.9 L942.1,1549.3 L943.6,1558.1 L944.1,1566.4 L945.1,1576.0 L945.6,1585.4 L946.6,1595.0 L946.7,1586.7 L947.0,1578.8 L946.9,1570.6 L947.0,1562.0 L947.4,1553.9 L947.4,1545.8 L947.4,1537.7 L947.6,1525.4 L948.8,1532.3 L947.7,1513.2 L947.8,1504.9 L948.4,1496.5 L947.9,1488.6 L948.3,1480.3 L948.7,1471.9 L948.9,1463.6 L948.4,1455.6 L948.9,1447.5 L948.9,1439.1 L949.5,1430.0 L949.9,1421.1 L950.1,1408.3 L951.3,1414.8 L950.3,1402.9 L951.0,1393.7 L951.2,1384.9 L951.4,1375.5 L951.5,1384.9 L952.0,1393.8 L953.2,1387.3 L952.6,1402.5 L952.8,1412.0 L953.2,1421.2 L953.6,1430.2 L953.6,1439.1 L953.6,1448.8 L953.9,1457.9 L954.3,1467.7 L954.6,1477.2 L955.2,1486.8 L956.1,1496.2 L956.4,1506.0 L957.5,1515.4 L960.0,1512.3 L962.5,1518.6 L964.0,1529.8 L964.8,1540.9 L965.3,1532.7 L965.1,1524.6 L965.6,1515.8 L965.6,1508.1 L965.5,1499.6 L965.8,1491.6 L966.0,1482.8 L966.1,1474.7 L966.3,1466.5 L966.4,1458.2 L967.3,1447.9 L968.6,1437.5 L969.2,1445.8 L969.5,1454.1 L969.6,1462.3 L970.1,1470.3 L970.3,1478.4 L971.1,1486.8 L972.4,1494.9 L974.3,1502.7 L975.0,1512.3 L975.5,1521.8 L975.8,1531.4 L976.2,1540.9 L976.5,1550.4 L977.1,1560.1 L978.0,1569.6 L979.1,1579.1 L979.8,1587.5 L981.0,1595.9 L982.3,1604.5 L982.5,1596.1 L982.8,1588.4 L982.4,1579.8 L982.6,1571.8 L982.5,1563.6 L982.9,1555.3 L982.9,1547.5 L983.1,1539.2 L983.4,1520.4 L984.6,1526.3 L983.9,1506.4 L983.5,1498.3 L983.6,1490.4 L984.2,1482.3 L983.7,1473.7 L984.0,1465.5 L984.2,1457.7 L984.5,1449.6 L984.6,1441.1 L984.7,1433.1 L984.4,1425.1 L984.8,1416.8 L985.9,1407.3 L986.5,1397.8 L987.7,1388.2 L987.8,1396.5 L988.0,1404.7 L988.6,1413.1 L988.9,1421.5 L989.0,1429.8 L989.0,1437.7 L989.5,1445.8 L989.8,1454.2 L989.7,1462.9 L990.2,1470.9 L991.4,1480.6 L991.5,1490.2 L992.7,1499.7 L993.4,1509.1 L993.5,1517.3 L994.1,1526.2 L994.2,1534.7 L995.2,1542.9 L995.3,1551.7 L995.4,1560.1 L995.6,1568.4 L996.0,1576.6 L996.6,1585.4 L997.4,1593.8 L997.7,1602.1 L998.4,1610.5 L998.5,1618.6 L999.5,1627.3 L999.5,1635.4 L999.8,1644.0 L1000.7,1652.3 L1001.2,1644.0 L1000.6,1635.9 L1001.1,1627.1 L1001.4,1619.2 L1001.1,1611.0 L1001.5,1602.3 L1001.4,1593.9 L1002.0,1586.1 L1001.7,1577.7 L1001.6,1569.1 L1001.8,1560.7 L1002.0,1552.6 L1002.2,1544.0 L1002.6,1535.9 L1002.6,1527.6 L1002.7,1519.5 L1003.2,1510.9 L1003.0,1502.7 L1003.1,1494.8 L1003.5,1486.1 L1003.6,1479.3 L1004.8,1483.5 L1004.2,1470.1 L1004.0,1461.9 L1003.9,1453.8 L1004.5,1445.4 L1005.0,1454.0 L1006.3,1462.2 L1007.1,1470.9 L1007.1,1480.1 L1008.0,1489.1 L1008.3,1499.3 L1009.5,1493.9 L1008.2,1506.7 L1009.3,1515.9 L1009.3,1525.0 L1012.5,1531.4 L1015.7,1544.1 L1018.9,1555.2 L1018.8,1546.4 L1019.5,1538.1 L1019.6,1529.6 L1019.4,1521.2 L1019.7,1512.2 L1019.3,1503.7 L1019.8,1495.4 L1019.9,1486.5 L1019.8,1478.4 L1019.9,1469.8 L1020.6,1461.3 L1020.4,1452.7 L1020.5,1443.9 L1023.6,1445.4 L1024.0,1453.6 L1024.6,1462.5 L1025.0,1471.0 L1024.9,1479.4 L1025.6,1487.6 L1025.8,1496.6 L1025.8,1504.8 L1026.8,1513.3 L1026.8,1521.8 L1027.1,1529.8 L1027.6,1538.1 L1028.3,1546.3 L1028.4,1554.6 L1029.1,1563.3 L1030.3,1558.0 L1029.4,1570.8 L1030.0,1579.1 L1033.2,1566.4 L1036.4,1556.8 L1037.0,1548.9 L1037.2,1540.5 L1037.3,1536.6 L1038.5,1544.4 L1037.7,1532.3 L1037.9,1524.2 L1038.1,1516.0 L1038.4,1507.9 L1038.9,1499.5 L1041.4,1490.0 L1042.5,1499.3 L1043.1,1508.9 L1043.5,1518.6 L1044.3,1528.2 L1045.1,1536.6 L1046.8,1545.4 L1047.5,1553.6 L1050.7,1544.1 L1051.6,1552.7 L1052.4,1560.8 L1053.0,1568.9 L1053.9,1577.5 L1054.1,1568.9 L1054.0,1560.8 L1054.4,1552.0 L1055.1,1543.6 L1055.4,1535.2 L1055.3,1526.8 L1055.6,1518.2 L1055.8,1511.6 L1057.0,1516.8 L1055.7,1501.4 L1056.5,1493.2 L1056.2,1484.5 L1056.5,1476.0 L1057.0,1467.7 L1059.3,1470.9 L1060.0,1478.7 L1060.2,1487.0 L1060.1,1495.5 L1060.7,1503.5 L1061.1,1511.2 L1061.6,1519.5 L1061.9,1527.7 L1062.2,1535.6 L1062.7,1543.9 L1063.2,1552.1 L1063.4,1560.0 L1064.4,1570.9 L1065.1,1581.1 L1066.6,1591.8 L1068.7,1603.0 L1071.4,1614.1 L1072.0,1605.4 L1071.9,1596.3 L1072.7,1587.7 L1072.6,1578.6 L1072.8,1569.8 L1073.3,1561.3 L1073.8,1552.2 L1074.5,1543.5 L1074.5,1534.5 L1075.1,1525.6 L1074.9,1517.5 L1075.5,1508.5 L1076.3,1499.9 L1076.6,1491.6 L1076.9,1482.7 L1077.1,1474.1 L1077.4,1482.8 L1078.3,1491.4 L1078.6,1500.2 L1078.8,1508.8 L1079.4,1517.4 L1079.5,1525.9 L1080.3,1534.5 L1081.5,1544.0 L1082.0,1553.9 L1083.2,1562.9 L1084.1,1572.7 L1084.5,1582.5 L1085.7,1592.0 L1085.7,1601.1 L1086.6,1610.9 L1088.4,1619.1 L1089.8,1626.8 L1090.0,1618.6 L1090.3,1609.6 L1090.6,1601.6 L1090.4,1592.8 L1091.2,1584.4 L1091.0,1575.7 L1091.4,1567.2 L1092.0,1558.6 L1092.0,1550.4 L1092.4,1541.4 L1092.6,1532.9 L1093.2,1525.4 L1094.4,1530.3 L1093.5,1515.4 L1094.0,1506.7 L1094.6,1497.9 L1096.8,1502.7 L1096.9,1511.3 L1097.4,1520.6 L1097.9,1529.4 L1098.3,1537.8 L1098.3,1547.4 L1099.5,1540.9 L1098.9,1555.9 L1099.1,1564.7 L1098.9,1573.2 L1099.4,1582.3 L1100.0,1590.9 L1100.5,1599.3 L1100.8,1607.2 L1101.4,1615.6 L1102.0,1623.9 L1102.1,1629.0 L1103.3,1621.2 L1103.1,1640.7 L1103.2,1649.1 L1104.7,1657.1 L1106.2,1664.8 L1107.9,1672.9 L1108.2,1664.7 L1108.2,1656.6 L1107.8,1648.7 L1108.4,1640.3 L1108.3,1632.6 L1108.5,1624.2 L1108.7,1616.4 L1109.1,1608.3 L1109.2,1599.8 L1108.8,1591.7 L1109.3,1583.5 L1109.3,1575.6 L1109.4,1567.4 L1109.5,1552.8 L1110.7,1558.9 L1109.7,1535.1 L1109.6,1527.1 L1109.8,1518.7 L1110.3,1510.6 L1110.2,1502.7 L1110.7,1494.6 L1111.0,1486.2 L1110.9,1480.1 L1112.1,1486.1 L1111.2,1469.5 L1111.5,1461.5 L1112.0,1453.0 L1112.1,1444.6 L1112.3,1436.3 L1112.8,1428.3 L1112.7,1420.0 L1113.2,1428.6 L1113.5,1436.7 L1114.0,1445.2 L1114.4,1452.7 L1115.6,1446.4 L1114.5,1462.6 L1115.3,1470.9 L1115.7,1479.3 L1115.5,1488.2 L1116.0,1496.7 L1116.5,1505.6 L1116.6,1514.6 L1116.6,1522.8 L1116.9,1531.4 L1117.8,1540.2 L1117.7,1548.8 L1118.1,1557.9 L1118.4,1566.4 L1119.1,1574.2 L1118.7,1582.6 L1119.2,1590.5 L1119.8,1598.5 L1119.9,1606.5 L1120.3,1614.5 L1120.5,1623.0 L1121.5,1631.1 L1121.8,1639.2 L1121.9,1645.3 L1123.1,1639.1 L1122.5,1655.9 L1123.3,1666.8 L1124.7,1678.2 L1124.9,1669.8 L1125.1,1661.4 L1124.9,1653.6 L1125.3,1645.1 L1125.2,1636.7 L1125.7,1628.6 L1125.9,1620.1 L1126.0,1612.1 L1125.7,1603.9 L1126.3,1595.7 L1125.8,1587.1 L1125.9,1579.2 L1126.5,1570.8 L1126.9,1562.5 L1126.5,1554.0 L1127.1,1545.6 L1126.9,1537.7 L1127.2,1529.3 L1127.4,1521.2 L1127.3,1512.7 L1127.7,1504.2 L1127.8,1495.3 L1127.8,1486.4 L1127.7,1478.1 L1128.4,1469.3 L1128.7,1460.7 L1128.8,1452.1 L1128.5,1443.8 L1128.9,1434.8 L1131.1,1426.8 L1131.5,1435.1 L1131.4,1443.5 L1131.9,1452.0 L1131.7,1460.0 L1132.1,1468.6 L1132.5,1476.8 L1132.4,1484.8 L1132.8,1493.6 L1132.7,1501.8 L1133.1,1510.2 L1133.1,1518.3 L1133.7,1526.4 L1133.6,1535.0 L1134.6,1543.7 L1135.5,1552.1 L1136.8,1560.4 L1137.4,1569.1 L1137.9,1578.0 L1137.5,1587.1 L1138.2,1594.4 L1139.4,1586.5 L1138.3,1604.5 L1139.3,1613.4 L1139.4,1622.2 L1140.0,1630.9 L1140.0,1640.0 L1141.0,1648.7 L1141.8,1657.0 L1143.2,1665.4 L1143.3,1657.2 L1143.2,1649.1 L1143.7,1641.6 L1143.9,1633.3 L1144.1,1625.5 L1144.0,1617.4 L1143.9,1609.0 L1144.2,1601.1 L1144.1,1593.0 L1144.4,1584.8 L1144.5,1577.2 L1144.7,1569.0 L1144.9,1560.6 L1145.2,1553.2 L1145.1,1544.7 L1144.9,1537.0 L1145.7,1528.7 L1145.6,1520.9 L1145.7,1512.7 L1146.2,1503.9 L1145.9,1495.0 L1146.1,1485.9 L1147.0,1477.3 L1146.8,1468.8 L1147.3,1457.8 L1148.5,1465.1 L1147.3,1450.8 L1147.9,1442.0 L1148.0,1433.2 L1149.5,1441.2 L1150.2,1449.1 L1150.2,1457.5 L1150.4,1466.3 L1150.4,1474.4 L1151.3,1482.8 L1151.5,1491.8 L1151.8,1500.3 L1151.5,1508.6 L1152.0,1516.9 L1151.8,1525.3 L1152.2,1534.0 L1152.1,1542.6 L1152.7,1550.9 L1152.8,1558.9 L1153.5,1568.5 L1154.7,1563.7 L1153.8,1575.5 L1154.1,1583.9 L1154.2,1591.9 L1155.2,1599.9 L1155.3,1608.2 L1156.8,1618.9 L1157.3,1627.8 L1158.5,1620.9 L1158.5,1640.0 L1159.2,1650.1 L1160.4,1642.9 L1159.9,1661.1 L1160.7,1671.8 L1160.9,1663.7 L1161.0,1655.1 L1161.3,1646.7 L1161.3,1638.6 L1161.5,1629.7 L1161.6,1621.8 L1161.6,1613.1 L1161.4,1605.1 L1161.9,1596.3 L1161.8,1587.8 L1162.5,1579.5 L1162.1,1571.6 L1162.5,1563.1 L1162.2,1554.7 L1162.7,1546.5 L1162.6,1537.7 L1163.2,1529.3 L1162.9,1521.1 L1163.2,1512.7 L1163.5,1504.4 L1163.9,1496.0 L1164.3,1487.0 L1164.5,1478.8 L1165.2,1470.1 L1165.5,1461.8 L1165.7,1470.2 L1166.2,1478.9 L1166.7,1487.4 L1167.3,1495.8 L1167.7,1504.1 L1168.0,1512.7 L1168.4,1521.9 L1168.3,1530.7 L1168.8,1540.2 L1169.4,1549.2 L1169.8,1558.4 L1169.7,1567.3 L1170.2,1576.4 L1173.4,1585.9 L1174.4,1597.1 L1175.6,1608.2 L1175.9,1617.4 L1176.6,1625.2 L1177.8,1620.6 L1177.1,1634.7 L1177.6,1643.8 L1178.2,1652.7 L1178.7,1644.2 L1179.0,1635.6 L1179.0,1627.1 L1179.4,1618.7 L1179.6,1610.3 L1179.3,1601.9 L1179.9,1593.4 L1179.9,1584.6 L1180.4,1576.4 L1181.1,1568.7 L1181.8,1559.6 L1183.0,1566.8 L1182.3,1552.6 L1183.0,1544.5 L1184.5,1528.6 L1185.1,1538.4 L1185.4,1547.8 L1185.9,1557.0 L1186.4,1563.9 L1187.6,1557.7 L1187.0,1566.8 L1187.1,1576.4 L1187.7,1586.2 L1188.3,1595.7 L1188.4,1605.0 L1188.7,1614.8 L1189.3,1624.1 L1189.5,1633.7 L1190.5,1643.5 L1190.7,1653.0 L1191.0,1662.2 L1191.5,1671.8 L1193.1,1680.6 L1194.1,1689.3 L1195.8,1680.8 L1197.3,1671.8 L1197.4,1663.2 L1197.2,1655.2 L1197.3,1646.6 L1197.4,1638.5 L1197.5,1630.1 L1197.7,1621.8 L1198.3,1613.9 L1197.9,1605.3 L1198.4,1596.8 L1198.6,1588.9 L1198.6,1580.4 L1198.8,1572.4 L1198.8,1557.5 L1200.0,1565.4 L1199.2,1539.2 L1198.8,1530.9 L1199.4,1522.4 L1199.3,1514.1 L1199.3,1505.9 L1199.8,1497.6 L1199.7,1489.0 L1199.8,1480.9 L1200.6,1472.0 L1200.9,1462.7 L1201.4,1453.7 L1202.0,1444.3 L1202.6,1452.6 L1203.2,1461.5 L1202.9,1469.8 L1204.0,1478.6 L1204.1,1486.9 L1204.3,1495.4 L1204.8,1504.4 L1205.2,1512.7 L1205.9,1521.7 L1205.9,1530.1 L1206.0,1538.8 L1205.9,1547.5 L1206.5,1556.7 L1207.1,1565.2 L1207.5,1574.0 L1207.4,1582.7 L1208.3,1590.6 L1208.7,1600.8 L1209.9,1593.7 L1209.1,1607.3 L1210.2,1615.6 L1210.6,1623.7 L1210.6,1631.9 L1211.6,1640.0 L1211.8,1648.6 L1212.4,1657.5 L1212.8,1665.9 L1213.1,1674.6 L1213.9,1683.0 L1214.3,1691.5 L1214.8,1700.4 L1214.9,1692.2 L1215.3,1683.8 L1215.5,1675.8 L1215.3,1667.5 L1215.2,1659.2 L1215.3,1651.3 L1215.5,1643.1 L1215.6,1634.7 L1215.7,1626.8 L1216.3,1618.4 L1215.8,1609.9 L1216.0,1602.0 L1216.0,1593.9 L1216.0,1585.6 L1216.3,1577.2 L1216.8,1569.1 L1216.7,1560.7 L1216.6,1552.9 L1217.0,1544.5 L1217.0,1536.1 L1217.8,1527.9 L1218.1,1519.5 L1218.7,1511.0 L1218.4,1502.4 L1218.9,1494.0 L1219.5,1485.7 L1219.8,1494.1 L1220.2,1502.7 L1220.6,1511.1 L1221.1,1519.5 L1221.2,1527.9 L1222.1,1536.2 L1222.1,1544.5 L1222.5,1552.8 L1222.7,1560.4 L1223.0,1569.0 L1222.6,1577.0 L1223.1,1585.1 L1222.9,1593.0 L1223.2,1601.4 L1223.6,1609.4 L1224.2,1617.7 L1224.1,1625.3 L1224.3,1633.6 L1225.8,1644.7 L1226.5,1655.9 L1227.6,1665.5 L1228.5,1674.9 L1229.1,1684.5 L1229.2,1693.5 L1230.1,1702.0 L1230.3,1710.5 L1230.8,1719.5 L1231.0,1725.9 L1232.2,1721.4 L1231.7,1737.1 L1232.1,1745.6 L1232.3,1754.5 L1232.4,1746.6 L1232.7,1738.1 L1232.7,1730.1 L1232.9,1722.3 L1233.1,1713.8 L1233.4,1705.7 L1233.8,1697.4 L1233.9,1689.3 L1233.8,1681.6 L1234.0,1673.2 L1233.8,1665.2 L1234.7,1656.9 L1234.5,1648.8 L1234.8,1640.9 L1235.0,1632.8 L1235.2,1624.3 L1235.4,1616.4 L1235.4,1608.2 L1235.8,1599.7 L1235.7,1591.0 L1236.6,1582.6 L1236.7,1573.9 L1236.5,1565.4 L1237.1,1556.6 L1236.8,1548.3 L1237.1,1539.2 L1237.7,1530.7 L1238.0,1522.3 L1238.7,1530.7 L1238.9,1538.7 L1239.5,1547.6 L1239.7,1555.8 L1240.0,1563.6 L1241.2,1555.9 L1240.6,1572.6 L1240.5,1580.7 L1241.2,1589.1 L1241.7,1598.6 L1242.5,1608.4 L1243.3,1619.8 L1244.5,1615.4 L1243.7,1627.4 L1244.4,1636.8 L1246.6,1624.1 L1247.4,1634.8 L1247.8,1645.4 L1248.8,1655.9 L1249.5,1666.1 L1250.2,1677.1 L1251.4,1672.9 L1250.5,1685.7 L1251.4,1695.7 L1251.3,1687.5 L1251.6,1679.3 L1251.6,1670.9 L1252.2,1662.7 L1251.9,1654.3 L1252.2,1638.6 L1253.4,1645.9 L1252.8,1620.8 L1252.3,1612.7 L1252.6,1604.2 L1253.1,1595.6 L1253.2,1587.8 L1253.4,1579.1 L1253.2,1570.7 L1253.2,1562.6 L1253.6,1554.4 L1253.2,1545.8 L1253.5,1537.8 L1253.3,1529.2 L1253.7,1520.9 L1253.9,1512.7 L1254.3,1503.6 L1254.5,1494.8 L1255.1,1483.0 L1256.3,1489.6 L1255.2,1476.7 L1255.9,1467.7 L1256.1,1458.6 L1256.6,1467.6 L1257.1,1476.5 L1257.6,1485.4 L1257.9,1494.9 L1257.8,1503.5 L1258.4,1512.7 L1259.0,1520.7 L1258.4,1529.2 L1258.7,1537.4 L1259.0,1545.6 L1259.6,1553.8 L1259.4,1561.9 L1260.1,1569.9 L1259.8,1578.3 L1260.5,1586.9 L1260.9,1594.9 L1261.0,1602.9 L1260.9,1611.3 L1262.1,1621.1 L1262.8,1630.7 L1264.1,1640.0 L1265.0,1649.2 L1266.1,1658.3 L1266.6,1667.0 L1269.8,1665.4 L1270.2,1657.5 L1270.2,1649.3 L1270.4,1641.0 L1270.0,1633.0 L1270.7,1625.3 L1270.1,1617.0 L1270.9,1609.1 L1270.8,1601.1 L1270.7,1592.8 L1271.1,1584.9 L1271.0,1577.0 L1271.0,1569.0 L1271.5,1560.7 L1271.2,1553.1 L1271.4,1544.7 L1271.7,1536.8 L1272.1,1528.7 L1272.2,1520.5 L1272.0,1512.7 L1272.2,1504.3 L1273.0,1495.4 L1273.6,1486.7 L1273.9,1478.6 L1274.3,1469.8 L1274.7,1478.5 L1274.6,1486.9 L1274.9,1495.3 L1275.9,1503.8 L1276.0,1512.6 L1276.1,1521.2 L1276.4,1529.5 L1276.8,1538.2 L1277.7,1546.7 L1278.9,1554.8 L1279.4,1563.6 L1279.6,1572.9 L1280.5,1583.0 L1280.8,1592.3 L1280.8,1601.6 L1281.6,1611.3 L1283.1,1619.4 L1284.3,1627.5 L1285.7,1635.2 L1285.8,1627.2 L1286.3,1619.2 L1286.4,1611.2 L1286.5,1602.7 L1286.1,1594.8 L1286.8,1586.7 L1286.8,1578.4 L1286.6,1570.3 L1287.0,1562.5 L1286.8,1554.5 L1287.0,1546.3 L1287.3,1537.8 L1287.5,1530.0 L1287.9,1522.0 L1288.1,1513.7 L1287.8,1505.8 L1288.0,1497.6 L1288.2,1489.8 L1288.4,1481.6 L1288.6,1473.4 L1288.8,1465.4 L1288.5,1457.0 L1288.9,1449.1 L1289.1,1440.9 L1290.1,1432.1 L1290.8,1423.7 L1292.0,1431.3 L1291.2,1415.2 L1292.1,1406.6 L1292.7,1398.2 L1292.6,1406.7 L1293.3,1414.8 L1293.4,1423.1 L1293.8,1431.2 L1294.0,1438.5 L1295.2,1434.4 L1294.2,1448.0 L1294.8,1455.9 L1294.4,1464.3 L1295.0,1472.4 L1295.3,1480.9 L1295.3,1489.8 L1295.7,1499.1 L1296.6,1507.9 L1296.6,1517.5 L1296.7,1526.1 L1297.4,1535.3 L1297.5,1544.5 L1300.7,1554.1 L1301.4,1565.5 L1302.5,1576.4 L1302.9,1584.7 L1303.6,1593.1 L1304.7,1601.8 L1304.6,1593.6 L1304.9,1585.3 L1305.3,1576.8 L1305.3,1568.6 L1305.9,1559.8 L1305.8,1551.5 L1306.0,1536.9 L1307.2,1542.1 L1306.0,1526.6 L1306.1,1518.4 L1306.2,1509.7 L1306.6,1501.8 L1307.2,1493.3 L1306.7,1484.6 L1307.2,1476.5 L1307.3,1468.2 L1309.2,1458.6 L1309.4,1467.5 L1310.3,1476.4 L1310.0,1484.7 L1310.5,1493.8 L1311.0,1502.6 L1311.5,1511.2 L1311.3,1519.7 L1312.0,1528.6 L1312.4,1537.0 L1313.6,1545.3 L1313.8,1553.5 L1314.8,1561.6 L1315.2,1570.0 L1315.6,1578.9 L1316.1,1588.2 L1316.9,1596.8 L1317.7,1606.1 L1318.2,1615.4 L1318.4,1624.1 L1321.6,1636.8 L1321.6,1628.4 L1321.8,1620.4 L1321.9,1612.1 L1322.4,1603.9 L1322.6,1595.4 L1322.9,1587.1 L1323.0,1579.2 L1323.3,1570.6 L1323.6,1562.3 L1323.7,1554.2 L1324.0,1545.5 L1324.4,1537.3 L1324.5,1529.4 L1324.4,1521.2 L1324.8,1512.7 L1326.4,1501.6 L1328.6,1506.4 L1328.6,1515.2 L1329.1,1523.9 L1329.2,1532.4 L1329.3,1541.0 L1329.6,1549.3 L1330.5,1558.0 L1330.4,1569.4 L1331.6,1561.6 L1330.9,1575.0 L1330.8,1583.8 L1331.1,1592.3 L1331.8,1600.6 L1331.8,1608.3 L1332.1,1616.9 L1332.7,1629.1 L1333.9,1624.2 L1333.5,1641.0 L1333.9,1649.2 L1334.0,1657.3 L1334.3,1665.4 L1337.5,1671.8 L1338.7,1682.1 L1339.7,1692.5 L1339.5,1684.6 L1339.6,1676.4 L1340.1,1668.3 L1340.1,1660.2 L1340.1,1651.6 L1340.8,1643.4 L1340.5,1635.4 L1340.5,1627.4 L1341.0,1619.1 L1341.1,1610.9 L1341.1,1602.9 L1341.0,1595.1 L1341.3,1586.4 L1341.3,1578.4 L1341.8,1570.4 L1341.9,1562.0 L1342.1,1554.4 L1342.0,1545.8 L1342.0,1537.6 L1342.0,1529.5 L1342.0,1521.9 L1342.6,1513.2 L1342.2,1505.4 L1342.4,1497.0 L1342.9,1488.9 L1342.9,1480.9 L1343.5,1472.1 L1345.0,1464.1 L1345.5,1455.4 L1345.9,1463.6 L1346.2,1471.6 L1346.1,1479.8 L1346.7,1488.0 L1347.0,1496.2 L1346.8,1503.7 L1347.3,1512.2 L1347.5,1520.2 L1347.9,1528.5 L1347.6,1536.7 L1348.0,1544.5 L1348.1,1552.9 L1348.5,1560.5 L1348.6,1568.7 L1349.3,1577.1 L1349.0,1584.9 L1349.7,1593.3 L1350.0,1601.7 L1350.1,1609.7 L1350.2,1617.7 L1351.1,1627.0 L1351.4,1638.2 L1352.6,1631.6 L1352.1,1644.5 L1352.1,1653.5 L1353.1,1662.9 L1353.4,1671.8 L1353.9,1682.6 L1354.9,1693.3 L1355.6,1703.6 L1356.7,1715.8 L1357.5,1727.5 L1357.7,1719.1 L1357.9,1711.0 L1358.1,1702.9 L1358.3,1694.7 L1358.1,1686.4 L1358.0,1678.1 L1358.1,1669.8 L1358.7,1661.7 L1358.8,1653.2 L1359.1,1645.2 L1358.8,1636.9 L1359.3,1628.7 L1359.4,1620.8 L1359.1,1612.6 L1359.6,1604.4 L1359.3,1596.2 L1359.6,1587.8 L1359.5,1579.8 L1360.3,1571.4 L1360.1,1563.3 L1360.1,1554.6 L1360.7,1546.7 L1360.6,1538.6 L1360.7,1530.4 L1360.9,1522.0 L1361.0,1513.7 L1360.7,1505.6 L1361.4,1497.5 L1361.2,1489.4 L1361.4,1480.9 L1362.2,1472.3 L1362.5,1463.4 L1362.7,1454.5 L1363.2,1446.1 L1363.1,1437.1 L1363.6,1428.4 L1363.8,1436.7 L1364.6,1445.2 L1364.4,1454.3 L1364.5,1462.3 L1365.1,1471.3 L1365.3,1479.7 L1365.4,1488.2 L1366.1,1496.8 L1366.2,1506.3 L1366.9,1515.9 L1367.6,1525.3 L1367.6,1535.1 L1368.4,1544.5 L1369.8,1552.2 L1370.9,1560.4 L1373.5,1547.7 L1376.6,1554.1 L1376.4,1546.2 L1377.2,1537.9 L1377.2,1529.7 L1377.5,1521.9 L1377.7,1514.0 L1377.7,1505.4 L1378.1,1497.7 L1378.1,1486.3 L1379.3,1494.2 L1378.7,1473.2 L1378.2,1465.2 L1378.5,1457.0 L1378.9,1449.1 L1379.1,1440.6 L1379.8,1432.0 L1380.0,1423.8 L1381.0,1415.2 L1380.8,1406.4 L1381.4,1398.2 L1381.6,1406.2 L1382.3,1414.8 L1382.6,1423.0 L1382.4,1431.0 L1382.7,1436.5 L1383.9,1429.2 L1383.2,1447.6 L1383.5,1456.3 L1383.8,1464.1 L1384.3,1472.9 L1384.3,1480.9 L1384.4,1490.1 L1385.2,1499.4 L1385.7,1508.2 L1386.4,1517.3 L1386.8,1526.5 L1386.6,1535.4 L1387.4,1544.5 L1388.4,1552.6 L1389.3,1560.4 L1389.3,1563.9 L1390.5,1559.9 L1389.7,1568.4 L1390.6,1576.4 L1391.3,1584.5 L1391.1,1593.0 L1391.9,1600.9 L1392.5,1609.4 L1392.5,1617.3 L1393.2,1625.6 L1393.6,1634.1 L1393.8,1642.0 L1394.0,1650.5 L1394.0,1658.7 L1394.8,1667.0 L1394.9,1658.9 L1394.9,1650.7 L1394.9,1642.5 L1395.1,1634.8 L1395.1,1626.6 L1395.5,1618.2 L1395.5,1610.6 L1395.8,1602.5 L1395.5,1594.2 L1396.1,1586.2 L1395.6,1578.1 L1395.7,1569.9 L1395.7,1561.8 L1396.4,1553.5 L1396.3,1539.1 L1397.5,1546.0 L1396.8,1521.2 L1396.6,1513.5 L1396.8,1505.0 L1397.0,1497.3 L1396.6,1489.0 L1397.0,1480.9 L1397.3,1472.8 L1397.6,1464.3 L1397.5,1456.5 L1398.0,1448.2 L1398.0,1439.8 L1398.3,1431.6 L1398.3,1423.1 L1398.3,1415.4 L1399.2,1407.2 L1399.0,1399.0 L1399.1,1390.2 L1399.5,1382.3 L1400.2,1390.6 L1400.2,1398.7 L1400.3,1407.5 L1401.1,1415.6 L1401.0,1420.9 L1402.2,1413.8 L1401.5,1432.3 L1402.0,1440.9 L1402.1,1449.1 L1402.7,1457.8 L1402.8,1466.9 L1402.8,1475.7 L1402.8,1484.4 L1403.1,1493.1 L1403.2,1501.9 L1404.2,1511.1 L1403.9,1519.6 L1404.3,1528.6 L1404.8,1538.4 L1405.4,1548.0 L1405.4,1551.8 L1406.6,1546.3 L1405.8,1557.3 L1406.0,1566.7 L1406.5,1576.4 L1406.7,1585.6 L1407.4,1594.2 L1408.2,1603.4 L1409.0,1612.2 L1409.1,1621.6 L1409.7,1630.4 L1412.3,1627.3 L1412.7,1619.0 L1412.6,1610.9 L1413.0,1602.7 L1413.2,1595.0 L1413.0,1586.6 L1413.3,1578.5 L1413.0,1570.4 L1413.3,1562.5 L1413.7,1553.8 L1413.4,1546.2 L1413.5,1537.9 L1413.6,1529.9 L1414.2,1521.7 L1414.1,1513.7 L1414.1,1505.6 L1414.6,1497.1 L1415.0,1489.1 L1414.8,1480.9 L1414.7,1473.0 L1415.3,1464.4 L1415.4,1456.6 L1415.3,1448.3 L1416.0,1440.1 L1415.8,1431.7 L1415.8,1423.4 L1416.4,1415.5 L1416.5,1407.3 L1416.7,1399.1 L1417.1,1391.0 L1417.4,1382.7 L1416.9,1374.8 L1417.4,1366.4 L1417.4,1374.4 L1417.7,1383.0 L1418.4,1390.7 L1418.3,1398.9 L1418.8,1407.1 L1418.6,1415.6 L1418.9,1428.7 L1420.1,1424.5 L1419.6,1440.0 L1419.4,1448.4 L1419.7,1456.1 L1419.8,1464.4 L1419.9,1472.8 L1420.2,1480.9 L1420.9,1489.8 L1420.9,1498.8 L1421.9,1507.6 L1421.8,1516.7 L1422.4,1525.4 L1422.8,1534.0 L1424.0,1542.9 L1424.4,1551.5 L1425.0,1560.4 L1425.8,1568.4 L1425.9,1577.0 L1426.9,1585.5 L1426.6,1593.2 L1427.5,1601.8 L1429.8,1597.0" fill="none" stroke="#df9bfa" stroke-width="3.0" stroke-linejoin="round"/>
<text x="195.4" y="1243.1" text-anchor="end">100</text>
<text x="195.4" y="1471.9" text-anchor="end">0</text>
<text x="195.4" y="1700.6" text-anchor="end">100</text>
<rect x="74.6" y="1679.05" width="30.8" height="2.3" fill="#222"/>
<text x="213.0" y="1865.2" text-anchor="middle">0</text>
<text x="391.9" y="1865.2" text-anchor="middle">10</text>
<text x="570.7" y="1865.2" text-anchor="middle">20</text>
<text x="749.6" y="1865.2" text-anchor="middle">30</text>
<text x="928.4" y="1865.2" text-anchor="middle">40</text>
<text x="1107.3" y="1865.2" text-anchor="middle">50</text>
<text x="1286.1" y="1865.2" text-anchor="middle">60</text>
<text x="1465.0" y="1865.2" text-anchor="middle">70</text>
<text class="lab" x="839.0" y="1934.2" text-anchor="middle">Time (Day)</text>
<text class="cap" x="825.2" y="2000.9" text-anchor="middle">(c)</text>
<text transform="translate(53.0,1438.9) rotate(-90)" class="lab" text-anchor="middle">Relative time delay of Luoyang (ns)</text>
<line x1="2040.4" y1="1085.2" x2="2040.4" y2="1792.6" stroke="#262626" stroke-opacity="0.15" stroke-width="4"/>
<line x1="2219.3" y1="1085.2" x2="2219.3" y2="1792.6" stroke="#262626" stroke-opacity="0.15" stroke-width="4"/>
<line x1="2398.2" y1="1085.2" x2="2398.2" y2="1792.6" stroke="#262626" stroke-opacity="0.15" stroke-width="4"/>
<line x1="2577.0" y1="1085.2" x2="2577.0" y2="1792.6" stroke="#262626" stroke-opacity="0.15" stroke-width="4"/>
<line x1="2755.9" y1="1085.2" x2="2755.9" y2="1792.6" stroke="#262626" stroke-opacity="0.15" stroke-width="4"/>
<line x1="2934.8" y1="1085.2" x2="2934.8" y2="1792.6" stroke="#262626" stroke-opacity="0.15" stroke-width="4"/>
<line x1="1861.5" y1="1234.3" x2="3113.7" y2="1234.3" stroke="#262626" stroke-opacity="0.15" stroke-width="4"/>
<line x1="1861.5" y1="1449.2" x2="3113.7" y2="1449.2" stroke="#262626" stroke-opacity="0.15" stroke-width="4"/>
<line x1="1861.5" y1="1664.2" x2="3113.7" y2="1664.2" stroke="#262626" stroke-opacity="0.15" stroke-width="4"/>
<line x1="2040.4" y1="1792.6" x2="2040.4" y2="1777.2" stroke="#222222" stroke-width="4"/>
<line x1="2040.4" y1="1085.2" x2="2040.4" y2="1100.6" stroke="#222222" stroke-width="4"/>
<line x1="2219.3" y1="1792.6" x2="2219.3" y2="1777.2" stroke="#222222" stroke-width="4"/>
<line x1="2219.3" y1="1085.2" x2="2219.3" y2="1100.6" stroke="#222222" stroke-width="4"/>
<line x1="2398.2" y1="1792.6" x2="2398.2" y2="1777.2" stroke="#222222" stroke-width="4"/>
<line x1="2398.2" y1="1085.2" x2="2398.2" y2="1100.6" stroke="#222222" stroke-width="4"/>
<line x1="2577.0" y1="1792.6" x2="2577.0" y2="1777.2" stroke="#222222" stroke-width="4"/>
<line x1="2577.0" y1="1085.2" x2="2577.0" y2="1100.6" stroke="#222222" stroke-width="4"/>
<line x1="2755.9" y1="1792.6" x2="2755.9" y2="1777.2" stroke="#222222" stroke-width="4"/>
<line x1="2755.9" y1="1085.2" x2="2755.9" y2="1100.6" stroke="#222222" stroke-width="4"/>
<line x1="2934.8" y1="1792.6" x2="2934.8" y2="1777.2" stroke="#222222" stroke-width="4"/>
<line x1="2934.8" y1="1085.2" x2="2934.8" y2="1100.6" stroke="#222222" stroke-width="4"/>
<line x1="1861.5" y1="1234.3" x2="1875.3" y2="1234.3" stroke="#222222" stroke-width="4"/>
<line x1="3113.7" y1="1234.3" x2="3099.9" y2="1234.3" stroke="#222222" stroke-width="4"/>
<line x1="1861.5" y1="1449.2" x2="1875.3" y2="1449.2" stroke="#222222" stroke-width="4"/>
<line x1="3113.7" y1="1449.2" x2="3099.9" y2="1449.2" stroke="#222222" stroke-width="4"/>
<line x1="1861.5" y1="1664.2" x2="1875.3" y2="1664.2" stroke="#222222" stroke-width="4"/>
<line x1="3113.7" y1="1664.2" x2="3099.9" y2="1664.2" stroke="#222222" stroke-width="4"/>
<rect x="1861.5" y="1085.2" width="1252.2" height="707.4" fill="none" stroke="#222222" stroke-width="4"/>
<path d="M1861.1,1283.7 L1861.1,1275.6 L1861.6,1267.5 L1861.9,1259.0 L1861.6,1250.9 L1861.6,1243.0 L1862.2,1229.7 L1863.4,1235.2 L1862.5,1218.1 L1862.3,1210.0 L1862.7,1202.0 L1862.7,1193.4 L1862.8,1185.5 L1863.3,1177.5 L1863.4,1169.0 L1864.2,1160.6 L1864.5,1152.6 L1864.9,1149.4 L1866.1,1156.7 L1865.3,1143.8 L1866.0,1135.7 L1866.6,1144.6 L1866.8,1153.2 L1867.5,1161.6 L1867.5,1166.4 L1868.7,1159.6 L1867.4,1170.1 L1867.7,1179.1 L1868.5,1187.5 L1868.7,1196.2 L1868.7,1204.8 L1869.2,1213.1 L1869.6,1221.9 L1869.9,1230.5 L1869.6,1238.8 L1870.0,1247.2 L1870.4,1256.0 L1870.9,1264.2 L1870.7,1273.2 L1871.4,1281.4 L1871.7,1290.0 L1871.5,1298.6 L1871.8,1307.3 L1873.0,1316.1 L1873.4,1324.5 L1873.6,1332.9 L1873.9,1340.7 L1874.8,1349.1 L1874.6,1356.9 L1875.2,1365.2 L1875.4,1357.0 L1875.4,1348.2 L1875.7,1339.5 L1876.1,1331.0 L1876.5,1322.4 L1876.9,1314.4 L1877.1,1305.3 L1877.9,1296.8 L1878.1,1288.3 L1878.2,1280.0 L1878.3,1271.6 L1878.6,1263.5 L1879.0,1255.4 L1878.8,1246.9 L1878.7,1238.8 L1879.1,1230.9 L1878.9,1222.5 L1879.1,1214.1 L1879.5,1205.9 L1879.5,1197.5 L1879.9,1189.6 L1879.7,1181.4 L1879.7,1173.2 L1880.5,1165.2 L1880.2,1156.4 L1880.2,1148.6 L1880.8,1140.3 L1880.8,1132.0 L1883.3,1128.3 L1883.3,1136.8 L1884.4,1146.2 L1884.5,1154.6 L1885.0,1163.4 L1885.5,1172.5 L1885.5,1180.4 L1886.7,1173.3 L1885.8,1189.9 L1886.3,1198.6 L1886.8,1207.2 L1887.8,1216.1 L1888.5,1225.2 L1888.7,1234.2 L1889.3,1243.0 L1890.0,1252.0 L1890.9,1261.6 L1890.9,1265.7 L1892.1,1258.5 L1890.9,1270.5 L1891.9,1280.0 L1894.5,1294.9 L1894.7,1286.8 L1895.4,1278.2 L1895.2,1269.9 L1895.2,1261.8 L1895.6,1252.9 L1895.8,1245.1 L1896.2,1236.8 L1896.7,1228.2 L1896.9,1220.4 L1896.8,1211.8 L1897.1,1204.0 L1897.4,1195.6 L1897.9,1187.7 L1898.4,1179.5 L1898.6,1171.9 L1898.2,1163.8 L1898.6,1155.8 L1899.0,1147.3 L1899.3,1139.4 L1900.3,1129.6 L1901.0,1119.7 L1901.9,1109.8 L1902.0,1118.1 L1902.3,1126.2 L1902.4,1134.2 L1902.4,1142.3 L1903.0,1153.3 L1904.2,1146.9 L1903.7,1166.9 L1903.3,1175.3 L1903.8,1183.6 L1904.3,1191.5 L1904.5,1200.0 L1904.6,1208.3 L1904.5,1216.3 L1904.8,1224.5 L1905.1,1233.0 L1905.7,1241.3 L1905.6,1248.3 L1906.8,1242.9 L1905.7,1258.4 L1905.9,1266.8 L1906.1,1275.2 L1906.4,1283.5 L1907.0,1291.5 L1907.0,1300.1 L1907.1,1308.9 L1907.8,1317.1 L1907.7,1325.1 L1908.0,1333.7 L1908.4,1342.0 L1908.6,1350.1 L1909.4,1358.4 L1909.2,1366.5 L1909.9,1374.6 L1909.8,1383.1 L1910.4,1391.1 L1911.3,1401.4 L1912.4,1412.1 L1913.0,1422.5 L1912.9,1414.1 L1913.1,1406.0 L1913.4,1397.8 L1913.4,1390.0 L1913.3,1381.4 L1914.1,1373.8 L1914.3,1365.5 L1913.9,1357.3 L1914.1,1349.2 L1914.2,1340.6 L1914.5,1330.1 L1915.7,1335.5 L1914.5,1316.3 L1914.7,1308.4 L1915.2,1300.0 L1915.3,1292.2 L1915.1,1284.0 L1915.0,1275.5 L1915.2,1267.7 L1915.8,1259.1 L1915.6,1250.9 L1915.9,1243.0 L1916.4,1235.0 L1916.0,1227.2 L1916.8,1218.6 L1916.6,1210.6 L1916.7,1203.0 L1917.3,1194.8 L1917.2,1186.6 L1917.4,1178.6 L1917.6,1170.5 L1918.1,1162.3 L1918.0,1154.5 L1918.7,1146.5 L1918.5,1138.3 L1918.9,1130.2 L1921.5,1124.6 L1921.8,1132.8 L1922.1,1140.9 L1921.9,1149.2 L1922.1,1157.0 L1921.7,1165.4 L1921.8,1173.6 L1922.5,1181.8 L1922.2,1190.1 L1922.6,1198.5 L1922.8,1206.6 L1922.1,1214.4 L1922.2,1222.7 L1922.6,1230.7 L1922.7,1239.0 L1923.0,1247.4 L1923.0,1255.4 L1923.1,1263.8 L1923.0,1271.9 L1923.3,1280.0 L1923.5,1288.4 L1923.6,1297.0 L1923.9,1305.8 L1923.9,1314.4 L1924.3,1323.0 L1924.4,1331.4 L1924.5,1340.1 L1924.9,1348.5 L1925.4,1356.7 L1925.9,1365.3 L1925.5,1374.1 L1926.1,1382.7 L1926.3,1391.1 L1928.3,1400.4 L1929.6,1409.6 L1930.1,1401.6 L1929.8,1393.6 L1930.3,1385.4 L1930.5,1377.5 L1930.2,1369.2 L1930.5,1361.3 L1930.6,1352.9 L1931.3,1345.0 L1931.0,1336.8 L1931.7,1328.5 L1931.3,1320.3 L1931.8,1312.5 L1932.1,1304.2 L1932.5,1296.5 L1932.7,1288.2 L1932.6,1280.0 L1932.4,1271.9 L1933.2,1263.7 L1933.1,1255.7 L1933.2,1247.4 L1933.5,1239.3 L1933.5,1231.0 L1933.7,1222.8 L1933.5,1214.6 L1933.7,1206.5 L1934.0,1193.0 L1935.2,1199.9 L1934.1,1182.5 L1934.7,1174.0 L1934.2,1166.0 L1934.5,1157.7 L1934.8,1149.7 L1935.0,1141.7 L1935.0,1133.5 L1934.8,1125.2 L1935.2,1117.2 L1938.1,1109.8 L1938.1,1118.0 L1938.5,1126.1 L1938.5,1134.3 L1938.9,1142.5 L1938.6,1150.2 L1939.1,1158.4 L1939.0,1166.8 L1939.4,1174.7 L1939.6,1182.5 L1939.7,1190.7 L1939.5,1198.7 L1939.6,1207.0 L1939.8,1215.1 L1939.9,1223.3 L1940.0,1231.1 L1940.7,1239.7 L1940.7,1247.6 L1941.0,1256.0 L1940.5,1263.5 L1941.1,1272.0 L1941.1,1280.0 L1941.5,1288.7 L1942.3,1298.1 L1942.4,1306.8 L1943.0,1315.9 L1943.7,1324.5 L1944.0,1333.8 L1945.2,1342.9 L1945.3,1352.3 L1946.3,1361.5 L1946.3,1369.2 L1946.9,1377.5 L1947.3,1385.5 L1947.8,1393.6 L1948.5,1401.4 L1948.5,1409.6 L1948.7,1401.7 L1948.9,1393.5 L1949.2,1385.3 L1949.0,1376.9 L1949.1,1369.0 L1949.1,1361.3 L1949.9,1352.8 L1950.2,1345.0 L1950.0,1336.6 L1950.0,1328.4 L1950.3,1320.5 L1950.2,1312.2 L1950.5,1304.3 L1950.8,1296.0 L1950.6,1288.1 L1951.1,1280.0 L1951.1,1271.7 L1951.4,1262.8 L1951.5,1254.6 L1951.9,1245.6 L1952.4,1237.3 L1952.3,1229.0 L1952.6,1220.2 L1953.0,1211.7 L1953.3,1203.4 L1953.4,1194.5 L1953.0,1186.3 L1953.3,1177.8 L1953.7,1169.0 L1954.4,1160.0 L1955.9,1150.5 L1956.2,1158.8 L1956.3,1166.7 L1956.7,1173.2 L1957.9,1168.3 L1957.3,1183.2 L1957.3,1191.7 L1957.8,1200.0 L1957.8,1208.2 L1958.4,1216.2 L1958.5,1224.5 L1959.2,1233.6 L1959.6,1242.8 L1960.2,1252.5 L1961.1,1261.5 L1961.3,1270.1 L1961.4,1279.0 L1961.6,1287.6 L1962.1,1296.9 L1961.9,1305.5 L1962.8,1314.5 L1962.5,1322.9 L1962.9,1331.9 L1963.5,1323.9 L1963.4,1315.3 L1963.4,1307.0 L1964.0,1299.1 L1964.3,1290.7 L1964.4,1282.1 L1964.8,1273.9 L1964.6,1266.0 L1964.7,1257.8 L1965.5,1249.4 L1965.2,1241.1 L1965.9,1232.6 L1965.9,1224.5 L1967.3,1215.4 L1968.5,1206.0 L1969.1,1196.7 L1969.6,1187.8 L1970.7,1178.1 L1971.4,1169.0 L1972.0,1178.1 L1972.7,1184.8 L1973.9,1178.2 L1972.7,1187.3 L1973.4,1196.7 L1974.4,1206.0 L1975.9,1215.4 L1977.0,1224.5 L1977.0,1233.0 L1977.3,1241.5 L1977.9,1249.9 L1978.4,1258.8 L1978.1,1267.4 L1978.7,1276.1 L1979.1,1284.1 L1979.7,1292.9 L1979.5,1301.4 L1980.2,1309.9 L1980.4,1318.3 L1980.3,1327.0 L1980.7,1335.6 L1981.2,1343.7 L1981.4,1352.1 L1981.7,1360.2 L1982.1,1368.2 L1982.0,1376.2 L1982.9,1384.4 L1983.0,1392.8 L1983.4,1400.7 L1983.5,1409.3 L1983.6,1417.3 L1984.4,1425.6 L1984.4,1433.6 L1984.8,1425.2 L1985.0,1417.4 L1984.7,1409.4 L1985.5,1401.4 L1985.5,1386.7 L1986.7,1390.8 L1985.6,1377.2 L1985.7,1369.2 L1986.2,1360.9 L1986.5,1352.7 L1986.3,1345.0 L1986.6,1336.4 L1986.6,1328.3 L1987.3,1320.3 L1987.6,1312.5 L1987.5,1304.4 L1987.8,1295.9 L1987.8,1288.0 L1988.1,1280.0 L1988.4,1271.7 L1988.7,1263.9 L1989.3,1255.6 L1989.5,1247.5 L1990.0,1239.4 L1990.1,1231.3 L1990.6,1226.0 L1991.8,1231.7 L1991.2,1214.7 L1991.3,1206.4 L1991.8,1198.6 L1992.0,1207.4 L1992.8,1216.4 L1992.6,1225.5 L1993.0,1234.6 L1993.5,1243.7 L1993.8,1252.2 L1994.4,1261.5 L1994.3,1269.8 L1994.8,1277.4 L1995.2,1286.1 L1995.5,1293.7 L1995.4,1302.3 L1995.5,1310.4 L1995.6,1318.0 L1995.9,1326.5 L1995.7,1334.7 L1996.3,1342.4 L1996.7,1350.3 L1996.7,1358.8 L1996.4,1366.9 L1997.3,1375.1 L1996.7,1382.7 L1997.3,1391.1 L1998.4,1399.4 L1998.5,1404.4 L1999.7,1398.3 L1998.6,1408.0 L1999.2,1416.1 L2000.3,1424.4 L2000.6,1416.2 L2000.7,1408.2 L2001.1,1396.1 L2002.3,1403.8 L2001.8,1383.9 L2001.6,1375.8 L2001.8,1368.2 L2002.0,1359.5 L2002.7,1351.7 L2002.8,1343.7 L2002.9,1335.6 L2004.0,1326.3 L2004.7,1317.1 L2008.4,1315.2 L2008.4,1323.6 L2009.3,1332.2 L2009.5,1340.7 L2009.3,1349.0 L2009.8,1357.2 L2010.2,1365.6 L2011.1,1374.5 L2010.9,1382.5 L2011.4,1391.1 L2011.4,1399.2 L2012.2,1407.4 L2011.7,1415.7 L2011.9,1424.0 L2012.2,1432.4 L2012.8,1440.2 L2012.7,1448.7 L2013.3,1456.6 L2013.6,1464.8 L2013.2,1473.1 L2013.4,1481.8 L2013.8,1489.9 L2014.4,1497.9 L2014.3,1506.3 L2014.5,1514.7 L2014.3,1522.5 L2014.8,1531.2 L2015.1,1539.1 L2015.2,1547.4 L2015.4,1555.6 L2015.5,1563.9 L2015.7,1572.0 L2016.3,1580.3 L2016.6,1588.4 L2016.7,1596.2 L2017.2,1604.4 L2017.1,1612.9 L2017.1,1621.0 L2017.9,1629.2 L2017.6,1637.4 L2018.1,1645.7 L2018.4,1653.8 L2018.9,1645.6 L2018.5,1637.1 L2018.4,1629.4 L2019.2,1620.9 L2018.9,1613.0 L2019.0,1604.3 L2019.7,1596.3 L2019.3,1587.9 L2019.5,1580.1 L2019.4,1571.7 L2019.6,1563.7 L2019.6,1555.3 L2019.9,1547.2 L2020.6,1538.8 L2020.5,1531.0 L2020.2,1522.6 L2020.6,1514.2 L2021.0,1506.3 L2021.2,1497.7 L2020.9,1489.6 L2021.1,1481.8 L2021.0,1473.6 L2021.4,1465.1 L2021.9,1456.1 L2022.3,1446.6 L2023.5,1453.1 L2022.5,1437.4 L2023.1,1428.1 L2023.3,1419.1 L2024.0,1409.6 L2025.6,1418.6 L2027.7,1428.1 L2028.6,1437.1 L2028.4,1446.6 L2029.1,1455.8 L2029.7,1465.3 L2030.0,1474.6 L2030.6,1483.6 L2031.1,1493.1 L2031.5,1502.3 L2032.2,1513.7 L2033.4,1509.5 L2032.7,1520.7 L2033.5,1529.7 L2033.6,1539.1 L2034.3,1547.5 L2034.8,1555.6 L2034.8,1563.6 L2035.3,1569.1 L2036.5,1562.8 L2035.9,1579.4 L2036.4,1587.7 L2036.6,1596.1 L2037.3,1603.9 L2037.5,1595.6 L2037.5,1587.7 L2037.8,1579.1 L2037.5,1571.5 L2038.1,1560.3 L2039.3,1565.9 L2038.2,1546.6 L2038.7,1538.7 L2038.5,1530.4 L2039.1,1522.2 L2038.9,1513.9 L2039.5,1506.2 L2039.1,1498.0 L2039.1,1489.5 L2039.5,1481.7 L2039.6,1473.0 L2039.9,1465.1 L2039.9,1456.3 L2040.6,1447.9 L2040.6,1439.1 L2041.0,1430.7 L2041.6,1422.2 L2042.0,1413.1 L2042.2,1404.5 L2042.1,1396.2 L2042.6,1387.4 L2042.7,1378.7 L2043.5,1370.4 L2043.6,1361.5 L2046.2,1361.5 L2046.4,1369.3 L2047.1,1377.6 L2047.5,1385.8 L2048.6,1393.4 L2048.7,1401.4 L2049.2,1409.6 L2050.5,1414.1 L2051.7,1425.1 L2052.1,1436.4 L2052.2,1445.4 L2052.4,1454.8 L2053.5,1463.5 L2053.3,1472.5 L2054.2,1482.0 L2054.3,1490.9 L2054.6,1500.0 L2055.0,1491.1 L2055.1,1482.7 L2055.1,1474.0 L2055.2,1465.5 L2055.5,1456.4 L2055.6,1447.9 L2056.1,1438.9 L2056.2,1430.3 L2056.5,1421.8 L2056.3,1413.3 L2056.9,1404.5 L2057.5,1395.5 L2057.6,1386.9 L2057.8,1377.2 L2059.0,1381.4 L2057.7,1369.7 L2058.5,1361.1 L2058.4,1352.4 L2059.1,1343.6 L2059.1,1335.2 L2059.3,1326.4 L2060.0,1317.9 L2060.0,1309.1 L2060.3,1299.7 L2060.7,1290.2 L2061.5,1277.7 L2062.7,1284.7 L2062.1,1270.8 L2062.3,1261.4 L2062.8,1270.0 L2062.7,1279.2 L2063.2,1288.2 L2063.2,1296.6 L2063.5,1305.5 L2064.2,1314.2 L2064.5,1323.0 L2064.4,1332.3 L2064.8,1340.9 L2065.2,1349.5 L2065.5,1358.3 L2065.5,1367.7 L2066.2,1376.4 L2066.4,1385.3 L2066.4,1391.0 L2067.6,1384.3 L2067.1,1403.0 L2066.9,1411.6 L2067.4,1420.4 L2068.7,1428.3 L2070.5,1436.4 L2071.0,1445.8 L2071.5,1454.7 L2072.7,1464.3 L2073.3,1473.5 L2073.7,1482.5 L2074.1,1474.3 L2074.3,1465.5 L2074.6,1457.0 L2074.1,1448.7 L2074.3,1440.4 L2074.4,1431.7 L2074.8,1423.6 L2075.2,1414.8 L2075.4,1406.4 L2075.1,1398.3 L2075.4,1389.3 L2075.6,1380.9 L2076.0,1372.7 L2076.1,1364.3 L2076.3,1355.4 L2076.6,1347.0 L2076.9,1338.3 L2076.6,1329.9 L2077.1,1321.5 L2077.5,1312.5 L2077.5,1304.4 L2077.7,1295.4 L2078.0,1287.0 L2077.6,1278.8 L2078.1,1269.7 L2078.2,1261.4 L2078.8,1252.9 L2079.0,1243.7 L2079.2,1234.9 L2080.2,1226.4 L2080.1,1217.8 L2080.7,1208.9 L2080.9,1217.0 L2081.1,1225.8 L2081.7,1233.7 L2081.7,1242.3 L2082.1,1250.4 L2082.1,1258.5 L2082.4,1266.8 L2082.8,1275.3 L2082.8,1283.7 L2083.4,1291.8 L2083.4,1299.9 L2083.2,1308.6 L2083.6,1316.5 L2083.9,1325.0 L2084.3,1334.7 L2084.6,1343.9 L2085.5,1353.8 L2086.0,1363.4 L2086.5,1372.7 L2087.9,1380.8 L2088.7,1388.6 L2089.5,1396.4 L2091.1,1404.8 L2091.9,1412.5 L2092.4,1403.4 L2092.2,1394.7 L2092.6,1385.8 L2092.8,1376.7 L2093.6,1367.9 L2093.3,1358.7 L2093.5,1349.8 L2094.1,1340.9 L2094.5,1332.4 L2094.5,1323.9 L2094.7,1315.5 L2094.6,1306.7 L2095.3,1294.0 L2096.5,1298.2 L2095.6,1281.7 L2096.0,1273.1 L2096.1,1264.6 L2096.4,1255.9 L2096.6,1247.7 L2096.6,1239.1 L2099.2,1228.0 L2099.1,1236.3 L2099.5,1243.8 L2100.0,1252.3 L2099.6,1260.0 L2100.0,1268.4 L2100.3,1276.1 L2100.1,1284.2 L2100.8,1292.8 L2100.3,1300.4 L2101.1,1308.5 L2100.5,1316.4 L2101.4,1324.9 L2101.5,1333.0 L2101.4,1340.9 L2101.7,1349.2 L2102.6,1357.6 L2102.7,1365.3 L2103.9,1358.9 L2103.4,1374.0 L2103.6,1382.3 L2105.2,1390.3 L2106.2,1398.2 L2106.7,1407.5 L2106.9,1417.0 L2107.9,1426.6 L2108.3,1436.2 L2108.4,1445.9 L2108.8,1438.1 L2108.9,1429.7 L2108.8,1421.7 L2109.5,1413.5 L2109.5,1407.3 L2110.7,1415.0 L2109.5,1397.1 L2110.1,1389.3 L2110.6,1380.8 L2110.7,1373.2 L2110.9,1365.1 L2111.0,1356.8 L2111.0,1348.3 L2111.9,1340.1 L2111.8,1331.9 L2112.4,1323.4 L2112.5,1315.1 L2112.8,1306.7 L2113.3,1298.0 L2113.5,1289.9 L2113.4,1281.0 L2113.9,1272.6 L2114.1,1264.5 L2116.4,1258.2 L2116.9,1266.7 L2117.3,1275.5 L2118.4,1284.4 L2118.9,1293.2 L2121.5,1296.4 L2122.6,1305.7 L2123.2,1315.7 L2124.6,1325.0 L2126.4,1333.7 L2127.5,1342.5 L2127.9,1334.3 L2128.2,1326.1 L2128.7,1318.0 L2129.1,1309.7 L2129.1,1301.5 L2129.0,1293.7 L2129.4,1285.3 L2130.0,1277.3 L2130.5,1268.2 L2131.2,1259.2 L2132.4,1250.1 L2133.0,1238.5 L2134.2,1244.9 L2133.3,1232.3 L2134.2,1223.2 L2134.8,1232.0 L2134.8,1240.2 L2135.1,1246.8 L2136.3,1239.3 L2135.9,1257.7 L2136.0,1266.4 L2136.4,1274.5 L2136.2,1283.3 L2136.5,1291.8 L2137.2,1300.7 L2137.4,1309.1 L2138.4,1318.6 L2139.1,1328.4 L2139.5,1338.0 L2140.5,1347.3 L2141.0,1355.3 L2140.8,1363.6 L2141.5,1372.3 L2141.6,1380.2 L2141.5,1388.5 L2141.9,1396.9 L2142.3,1405.0 L2142.3,1413.2 L2143.2,1421.7 L2143.1,1430.0 L2143.3,1421.6 L2143.6,1413.8 L2144.2,1405.6 L2144.2,1397.7 L2144.7,1387.8 L2145.9,1395.3 L2145.3,1381.1 L2145.5,1372.9 L2145.5,1365.2 L2145.9,1356.8 L2146.2,1348.0 L2146.6,1339.0 L2147.2,1330.3 L2147.4,1321.3 L2147.3,1312.6 L2148.0,1303.8 L2148.6,1295.0 L2148.7,1286.0 L2149.1,1277.3 L2149.8,1268.8 L2150.5,1259.8 L2151.3,1251.3 L2151.6,1242.8 L2152.3,1234.3 L2152.9,1242.8 L2152.5,1251.0 L2152.9,1258.7 L2153.3,1267.2 L2153.7,1281.1 L2154.9,1273.7 L2154.3,1291.7 L2154.1,1299.7 L2154.3,1308.3 L2154.7,1316.4 L2155.2,1324.3 L2155.0,1332.7 L2155.5,1340.9 L2156.6,1351.4 L2157.7,1362.3 L2158.7,1372.7 L2158.7,1381.2 L2159.7,1389.3 L2159.8,1398.1 L2160.2,1406.5 L2160.2,1415.0 L2160.9,1423.5 L2161.3,1431.8 L2161.1,1439.9 L2161.8,1448.6 L2161.9,1457.0 L2162.0,1448.3 L2162.2,1440.0 L2162.4,1431.9 L2162.8,1423.3 L2162.9,1414.9 L2163.5,1406.7 L2163.6,1398.1 L2163.8,1389.7 L2164.0,1381.0 L2164.1,1372.7 L2164.2,1364.0 L2164.7,1355.5 L2165.1,1346.6 L2165.2,1337.9 L2165.4,1329.1 L2165.7,1320.7 L2165.4,1312.0 L2165.7,1303.0 L2166.4,1294.7 L2166.1,1286.3 L2166.6,1277.3 L2166.9,1268.6 L2167.6,1260.4 L2167.9,1252.1 L2168.3,1243.1 L2169.0,1235.1 L2169.3,1226.1 L2169.2,1217.9 L2169.6,1209.1 L2170.4,1200.9 L2170.4,1209.3 L2170.7,1217.9 L2171.5,1226.4 L2171.6,1234.8 L2171.9,1243.2 L2172.3,1251.8 L2172.1,1260.6 L2172.8,1268.9 L2173.0,1277.3 L2173.3,1286.0 L2174.5,1294.9 L2174.6,1303.7 L2175.5,1312.3 L2176.1,1321.8 L2177.2,1331.3 L2177.8,1340.9 L2179.4,1356.8 L2180.9,1371.1 L2181.4,1362.3 L2181.1,1354.1 L2181.3,1345.3 L2181.9,1336.9 L2181.7,1328.4 L2182.2,1320.1 L2182.0,1311.3 L2182.9,1302.8 L2182.7,1294.3 L2182.7,1285.6 L2183.2,1277.3 L2183.3,1269.2 L2184.3,1260.9 L2184.3,1253.9 L2185.5,1261.1 L2185.1,1244.6 L2184.9,1236.7 L2185.8,1228.5 L2186.3,1220.5 L2185.9,1212.0 L2186.7,1204.1 L2187.2,1212.4 L2188.1,1220.4 L2188.4,1228.7 L2189.6,1224.0 L2188.7,1237.4 L2189.5,1245.5 L2190.5,1256.4 L2191.1,1266.6 L2192.1,1277.3 L2192.9,1287.1 L2193.7,1296.4 L2194.2,1306.1 L2194.4,1315.2 L2195.3,1325.0 L2196.2,1333.9 L2197.0,1342.6 L2197.1,1344.9 L2198.3,1340.4 L2197.8,1351.5 L2198.4,1360.0 L2198.5,1351.8 L2199.0,1343.1 L2199.7,1334.4 L2200.0,1325.9 L2200.9,1317.4 L2201.0,1309.1 L2201.3,1300.7 L2201.6,1292.5 L2201.9,1284.3 L2202.3,1276.0 L2202.6,1267.8 L2202.5,1259.9 L2202.7,1251.1 L2203.1,1243.3 L2203.9,1235.1 L2203.6,1226.6 L2204.2,1218.4 L2204.9,1227.5 L2205.9,1236.3 L2206.4,1245.5 L2207.0,1254.4 L2207.0,1262.6 L2207.6,1271.4 L2208.5,1279.7 L2209.0,1288.5 L2209.4,1297.5 L2209.6,1305.9 L2210.0,1315.6 L2210.3,1325.0 L2211.6,1334.7 L2211.8,1344.1 L2212.1,1352.6 L2212.5,1361.5 L2212.8,1370.6 L2213.2,1378.9 L2213.8,1387.9 L2214.1,1396.9 L2214.1,1407.0 L2215.3,1401.9 L2214.7,1413.9 L2214.4,1423.1 L2215.0,1431.6 L2215.4,1423.2 L2215.2,1415.4 L2215.8,1403.9 L2217.0,1410.7 L2216.2,1390.7 L2216.2,1382.4 L2216.5,1374.0 L2216.8,1365.7 L2217.1,1357.6 L2217.5,1349.8 L2217.4,1341.2 L2218.0,1333.5 L2218.2,1325.0 L2218.4,1316.5 L2219.0,1308.2 L2219.9,1299.9 L2220.1,1293.9 L2221.3,1299.4 L2221.1,1283.8 L2221.1,1275.6 L2221.8,1267.0 L2222.4,1258.7 L2223.2,1250.3 L2223.3,1242.3 L2225.5,1245.5 L2225.5,1254.2 L2226.2,1262.5 L2225.9,1271.1 L2226.3,1279.7 L2226.8,1288.6 L2226.8,1297.1 L2227.5,1305.7 L2227.4,1313.8 L2227.8,1322.3 L2227.9,1331.3 L2228.3,1339.9 L2228.3,1348.1 L2228.7,1356.8 L2228.8,1366.3 L2229.4,1375.7 L2230.1,1385.5 L2230.5,1395.0 L2232.7,1382.3 L2233.9,1391.4 L2234.8,1400.2 L2235.3,1409.3 L2235.7,1400.9 L2236.1,1392.1 L2236.0,1383.5 L2236.7,1374.9 L2236.6,1366.8 L2236.9,1358.0 L2237.4,1349.2 L2237.8,1340.9 L2238.0,1332.9 L2238.0,1324.2 L2238.8,1316.4 L2238.5,1308.1 L2239.3,1299.9 L2238.9,1291.5 L2239.7,1283.0 L2239.3,1275.2 L2240.1,1266.9 L2240.0,1258.3 L2240.3,1250.1 L2240.9,1242.2 L2240.3,1234.1 L2240.8,1225.4 L2241.0,1217.5 L2241.3,1209.2 L2241.6,1200.9 L2242.1,1209.3 L2242.4,1217.8 L2242.6,1225.8 L2242.8,1234.7 L2242.9,1242.9 L2243.4,1251.0 L2243.9,1259.8 L2243.6,1267.9 L2244.0,1276.5 L2244.7,1284.9 L2244.8,1293.2 L2245.2,1302.6 L2245.3,1311.4 L2245.5,1321.4 L2246.7,1314.4 L2246.0,1329.5 L2246.0,1338.7 L2246.3,1348.0 L2246.4,1356.8 L2247.1,1366.6 L2247.0,1376.1 L2247.8,1385.3 L2248.2,1395.2 L2248.6,1404.5 L2249.1,1412.6 L2249.2,1421.5 L2249.3,1429.5 L2249.7,1438.0 L2250.3,1446.1 L2250.4,1454.9 L2251.0,1463.2 L2251.2,1471.3 L2251.8,1463.3 L2251.7,1454.7 L2252.3,1446.7 L2252.0,1438.1 L2252.3,1430.1 L2252.9,1422.1 L2253.2,1413.6 L2253.0,1405.5 L2253.7,1397.2 L2254.0,1389.1 L2253.9,1381.0 L2254.4,1372.7 L2254.3,1364.3 L2255.2,1355.7 L2255.1,1347.3 L2255.1,1338.8 L2255.5,1330.5 L2255.8,1321.9 L2255.9,1313.5 L2256.3,1304.8 L2256.2,1296.2 L2256.2,1287.6 L2256.5,1279.3 L2256.9,1270.6 L2257.3,1262.3 L2257.2,1253.9 L2257.5,1245.5 L2258.3,1236.4 L2258.0,1227.0 L2258.5,1217.5 L2259.6,1208.1 L2259.9,1198.8 L2260.1,1189.8 L2260.5,1198.6 L2261.0,1207.2 L2261.3,1216.2 L2261.2,1225.1 L2262.0,1233.4 L2262.1,1242.1 L2262.4,1251.0 L2262.4,1259.8 L2263.1,1268.6 L2263.3,1277.3 L2263.9,1289.3 L2265.1,1282.6 L2264.2,1296.5 L2264.7,1306.1 L2264.9,1315.3 L2265.5,1325.0 L2266.2,1334.1 L2266.1,1342.9 L2266.2,1351.8 L2266.8,1357.2 L2268.0,1351.8 L2267.3,1361.1 L2267.2,1370.3 L2267.7,1379.1 L2268.3,1391.0 L2269.6,1402.9 L2270.3,1394.2 L2270.5,1385.1 L2270.9,1376.4 L2271.1,1367.6 L2271.3,1358.7 L2271.2,1349.8 L2271.9,1340.9 L2275.0,1328.2 L2275.7,1318.8 L2275.7,1309.7 L2276.0,1300.8 L2276.5,1291.3 L2277.3,1282.0 L2277.7,1290.1 L2277.5,1298.7 L2278.2,1306.5 L2278.3,1314.9 L2278.4,1323.3 L2278.8,1336.3 L2280.0,1331.3 L2279.0,1347.7 L2279.2,1356.4 L2279.7,1364.4 L2279.8,1372.7 L2280.5,1381.3 L2280.5,1390.3 L2280.8,1399.4 L2281.7,1408.2 L2281.7,1417.0 L2282.7,1425.8 L2282.7,1434.4 L2283.3,1443.2 L2283.6,1452.3 L2284.2,1460.8 L2283.8,1469.6 L2284.3,1478.5 L2284.5,1487.3 L2284.8,1495.5 L2284.7,1504.5 L2285.3,1513.1 L2285.9,1521.5 L2285.9,1530.3 L2285.7,1538.9 L2286.2,1547.7 L2289.4,1535.0 L2289.7,1527.2 L2289.6,1518.8 L2289.5,1510.4 L2290.4,1502.4 L2290.3,1494.7 L2290.2,1486.3 L2290.6,1478.1 L2290.6,1470.4 L2291.2,1462.1 L2291.3,1453.9 L2291.2,1440.8 L2292.4,1444.9 L2291.4,1429.6 L2291.2,1421.4 L2291.7,1413.2 L2291.5,1405.2 L2292.4,1397.0 L2292.3,1388.8 L2292.3,1380.6 L2292.5,1372.7 L2292.6,1364.7 L2292.9,1356.5 L2293.0,1348.5 L2293.5,1340.1 L2293.3,1332.6 L2293.6,1324.1 L2294.0,1312.3 L2295.2,1318.2 L2294.7,1300.2 L2294.4,1291.7 L2294.6,1284.0 L2294.7,1276.0 L2295.1,1267.7 L2295.4,1275.7 L2295.5,1283.7 L2296.1,1291.7 L2296.2,1300.1 L2296.3,1308.0 L2296.3,1316.1 L2296.9,1331.9 L2298.1,1324.1 L2297.0,1340.0 L2297.1,1348.0 L2297.8,1356.2 L2298.1,1364.5 L2298.3,1372.0 L2298.5,1380.1 L2298.6,1388.5 L2298.9,1396.4 L2298.9,1404.5 L2299.9,1412.6 L2301.1,1407.6 L2300.8,1420.2 L2301.8,1428.5 L2302.7,1436.4 L2303.5,1445.1 L2304.0,1453.6 L2304.4,1462.6 L2304.6,1467.1 L2305.8,1461.8 L2304.7,1471.3 L2305.4,1479.8 L2305.9,1488.8 L2306.0,1480.5 L2306.4,1472.5 L2306.8,1464.2 L2306.9,1451.0 L2308.1,1458.0 L2307.1,1438.8 L2307.2,1430.5 L2307.6,1422.7 L2307.6,1414.2 L2308.5,1405.7 L2308.1,1397.7 L2309.0,1389.3 L2308.8,1380.9 L2309.1,1372.7 L2309.1,1364.3 L2309.7,1355.9 L2310.1,1347.5 L2310.5,1338.9 L2311.0,1331.0 L2311.5,1322.6 L2311.6,1316.7 L2312.8,1321.3 L2311.8,1305.7 L2312.7,1297.0 L2312.7,1288.7 L2313.2,1280.4 L2313.9,1289.0 L2313.9,1297.4 L2314.4,1305.7 L2314.5,1314.3 L2314.6,1322.6 L2315.0,1331.1 L2315.9,1339.6 L2316.2,1348.5 L2316.4,1356.8 L2316.8,1366.6 L2317.9,1376.0 L2318.2,1385.5 L2319.2,1394.8 L2319.6,1404.5 L2320.0,1413.1 L2321.1,1421.8 L2321.8,1430.0 L2322.8,1439.0 L2322.8,1448.1 L2323.7,1457.4 L2324.4,1466.6 L2324.8,1458.3 L2324.8,1449.8 L2324.7,1440.9 L2325.1,1432.3 L2325.5,1424.2 L2325.4,1415.4 L2326.1,1406.6 L2326.3,1398.3 L2326.5,1389.5 L2326.8,1381.0 L2326.9,1372.7 L2327.1,1363.9 L2327.2,1355.6 L2327.7,1347.0 L2327.8,1338.5 L2328.3,1330.0 L2328.9,1321.2 L2328.6,1313.1 L2329.3,1304.1 L2329.2,1295.8 L2330.1,1286.9 L2329.8,1278.7 L2330.8,1270.0 L2330.7,1261.4 L2331.4,1270.1 L2331.1,1279.3 L2331.8,1287.9 L2332.1,1296.7 L2332.7,1305.7 L2332.8,1314.1 L2333.5,1323.4 L2333.5,1332.3 L2333.9,1340.9 L2334.5,1350.1 L2335.0,1358.8 L2335.3,1365.1 L2336.5,1357.2 L2336.2,1376.7 L2336.9,1385.8 L2337.1,1395.0 L2337.3,1403.6 L2337.9,1412.4 L2338.2,1420.9 L2338.2,1429.5 L2338.9,1439.5 L2340.1,1432.5 L2339.0,1446.5 L2339.6,1455.4 L2341.9,1469.8 L2341.9,1461.4 L2342.7,1453.2 L2343.0,1445.3 L2344.2,1450.0 L2343.1,1436.8 L2343.5,1428.6 L2344.1,1420.4 L2344.4,1411.3 L2344.8,1403.0 L2344.9,1396.4 L2346.1,1403.5 L2345.2,1385.3 L2345.8,1376.1 L2346.0,1367.6 L2345.9,1358.7 L2346.1,1349.5 L2346.6,1340.9 L2348.0,1331.6 L2349.1,1322.8 L2349.8,1313.9 L2350.4,1322.1 L2350.7,1330.0 L2350.7,1338.3 L2351.0,1345.3 L2352.2,1337.3 L2351.0,1354.6 L2351.7,1362.5 L2352.3,1370.7 L2352.7,1378.7 L2352.5,1387.1 L2353.0,1395.0 L2354.4,1403.6 L2355.2,1411.8 L2356.2,1420.4 L2358.7,1423.6 L2360.2,1433.8 L2360.9,1444.3 L2361.4,1436.1 L2361.4,1427.5 L2361.3,1419.0 L2361.9,1410.8 L2362.0,1402.0 L2362.3,1393.4 L2362.5,1385.3 L2362.2,1376.8 L2362.7,1368.5 L2363.0,1359.6 L2363.3,1351.1 L2363.6,1342.8 L2363.4,1334.3 L2363.4,1326.1 L2363.9,1317.7 L2364.1,1309.1 L2364.7,1301.1 L2364.2,1292.7 L2364.7,1284.8 L2364.8,1276.3 L2365.0,1268.4 L2365.7,1259.8 L2365.6,1252.0 L2366.2,1243.9 L2366.0,1235.4 L2366.8,1227.1 L2366.5,1219.2 L2366.9,1211.0 L2366.7,1202.8 L2367.3,1194.5 L2367.7,1202.5 L2367.4,1211.0 L2367.8,1218.9 L2368.0,1227.0 L2368.7,1235.7 L2369.0,1243.5 L2369.0,1251.6 L2369.3,1266.0 L2370.5,1258.5 L2369.2,1276.4 L2369.8,1284.3 L2369.9,1292.4 L2370.6,1300.6 L2370.5,1309.1 L2371.5,1318.1 L2372.0,1327.1 L2372.5,1335.7 L2372.9,1344.5 L2373.7,1353.6 L2373.8,1362.1 L2374.3,1370.7 L2375.0,1378.8 L2374.9,1387.8 L2375.1,1396.1 L2375.9,1404.5 L2376.9,1394.9 L2378.4,1385.4 L2379.2,1375.9 L2380.0,1366.1 L2380.6,1356.6 L2381.6,1347.3 L2382.8,1338.2 L2383.8,1329.6 L2384.2,1320.4 L2385.6,1311.4 L2386.4,1302.7 L2386.6,1312.0 L2387.5,1320.7 L2388.1,1329.5 L2388.3,1334.2 L2389.5,1329.8 L2388.5,1338.8 L2388.8,1347.6 L2389.6,1356.8 L2390.2,1365.1 L2390.3,1373.4 L2390.8,1379.0 L2392.0,1374.1 L2390.7,1381.8 L2391.0,1389.8 L2391.8,1398.2 L2392.7,1408.9 L2392.7,1419.5 L2393.7,1430.0 L2394.0,1421.7 L2394.8,1413.5 L2394.9,1405.7 L2395.6,1397.4 L2396.2,1389.0 L2396.2,1381.0 L2396.9,1372.7 L2396.9,1381.0 L2396.8,1389.4 L2397.2,1398.1 L2397.7,1406.1 L2397.7,1415.1 L2398.0,1423.0 L2397.8,1431.8 L2397.6,1440.3 L2397.8,1448.3 L2398.3,1457.2 L2398.3,1465.4 L2398.1,1473.7 L2398.7,1481.9 L2398.6,1490.6 L2399.1,1498.8 L2399.0,1507.2 L2399.1,1515.9 L2399.1,1507.2 L2399.4,1498.9 L2399.8,1490.4 L2399.2,1482.0 L2399.4,1473.8 L2399.4,1465.0 L2399.9,1456.3 L2400.2,1448.0 L2399.7,1439.4 L2399.8,1431.0 L2400.2,1422.5 L2400.6,1414.2 L2400.4,1405.8 L2400.8,1397.3 L2400.7,1388.6 L2401.4,1379.7 L2401.2,1371.3 L2401.9,1361.6 L2403.1,1368.3 L2402.2,1354.4 L2402.6,1345.7 L2403.1,1336.6 L2403.3,1328.2 L2403.4,1336.6 L2404.1,1345.7 L2404.1,1349.4 L2405.3,1341.6 L2404.0,1354.1 L2404.2,1362.8 L2404.6,1371.1 L2404.8,1379.7 L2405.5,1388.6 L2406.1,1397.3 L2405.6,1406.0 L2406.6,1415.2 L2406.3,1424.2 L2407.0,1432.9 L2406.9,1437.6 L2408.1,1432.9 L2407.0,1450.6 L2407.1,1459.6 L2407.7,1468.2 L2408.3,1472.7 L2410.5,1479.1 L2410.7,1487.5 L2410.9,1496.6 L2411.6,1505.0 L2411.8,1513.9 L2412.1,1522.1 L2412.1,1530.7 L2412.7,1539.5 L2413.5,1530.6 L2414.0,1521.9 L2414.3,1518.3 L2415.5,1525.6 L2415.0,1513.0 L2415.3,1504.5 L2415.5,1495.8 L2415.9,1487.3 L2416.2,1479.1 L2416.3,1470.2 L2416.4,1461.4 L2416.2,1453.1 L2416.7,1444.5 L2417.0,1435.8 L2417.2,1427.5 L2417.1,1418.9 L2417.8,1410.6 L2417.9,1402.0 L2417.8,1393.2 L2417.7,1385.4 L2418.1,1376.8 L2419.1,1368.9 L2419.0,1360.5 L2419.7,1352.8 L2419.7,1344.5 L2420.9,1351.1 L2419.9,1336.4 L2420.4,1328.4 L2420.6,1320.2 L2420.8,1312.5 L2421.5,1304.1 L2421.6,1296.1 L2421.9,1304.3 L2422.1,1312.0 L2422.4,1320.6 L2422.6,1328.4 L2423.0,1336.8 L2423.1,1344.9 L2423.2,1352.8 L2423.8,1361.2 L2423.7,1369.0 L2424.2,1377.3 L2424.3,1386.1 L2424.4,1394.5 L2425.1,1403.3 L2425.3,1412.0 L2425.3,1420.9 L2425.8,1429.6 L2425.7,1442.2 L2426.9,1437.0 L2426.2,1455.4 L2425.9,1464.1 L2426.4,1472.7 L2426.3,1481.1 L2426.7,1489.0 L2427.3,1496.9 L2427.7,1505.2 L2427.8,1512.9 L2428.0,1521.4 L2428.3,1526.8 L2429.5,1519.1 L2428.7,1537.3 L2428.8,1545.3 L2429.7,1553.4 L2429.6,1561.8 L2431.8,1571.3 L2431.9,1563.4 L2431.9,1554.7 L2432.8,1546.9 L2432.5,1538.4 L2432.7,1530.5 L2433.1,1522.0 L2433.2,1513.7 L2433.5,1505.5 L2434.7,1511.0 L2433.6,1497.3 L2434.2,1489.2 L2434.0,1480.9 L2434.4,1472.7 L2434.6,1463.8 L2434.9,1455.4 L2435.2,1444.0 L2436.4,1448.9 L2435.2,1438.3 L2435.3,1429.4 L2436.0,1420.6 L2436.0,1412.2 L2436.3,1403.5 L2436.8,1394.3 L2436.4,1386.0 L2436.9,1377.3 L2439.8,1367.7 L2439.9,1376.0 L2440.7,1384.2 L2440.3,1392.1 L2441.0,1403.2 L2442.2,1397.4 L2441.4,1408.2 L2441.7,1416.8 L2441.9,1424.4 L2442.1,1432.8 L2442.3,1440.9 L2442.6,1449.6 L2442.9,1458.5 L2443.2,1467.3 L2443.9,1476.2 L2444.2,1485.4 L2444.6,1493.9 L2444.6,1502.7 L2445.3,1511.3 L2445.5,1520.4 L2446.3,1530.1 L2446.9,1539.7 L2447.8,1548.9 L2449.0,1558.6 L2449.6,1568.2 L2449.7,1558.8 L2450.2,1551.0 L2451.4,1556.0 L2450.4,1541.1 L2450.8,1532.0 L2451.2,1522.5 L2451.4,1513.4 L2451.9,1504.5 L2452.4,1496.1 L2452.3,1487.5 L2452.1,1479.1 L2452.1,1470.8 L2452.7,1462.2 L2452.9,1453.6 L2452.6,1445.0 L2453.4,1436.9 L2453.0,1428.1 L2453.5,1413.1 L2454.7,1420.8 L2453.6,1402.6 L2453.8,1394.4 L2453.9,1385.5 L2454.1,1377.3 L2457.6,1367.7 L2457.7,1375.7 L2458.5,1384.6 L2459.7,1377.8 L2458.8,1392.6 L2459.4,1400.8 L2459.8,1409.1 L2460.0,1417.7 L2460.0,1425.7 L2460.1,1434.0 L2460.6,1442.5 L2460.6,1450.6 L2461.1,1459.1 L2461.0,1467.4 L2461.4,1475.9 L2463.0,1468.2 L2464.6,1460.0 L2469.4,1469.5 L2470.5,1459.1 L2470.7,1452.7 L2471.9,1457.4 L2471.1,1448.5 L2471.9,1437.7 L2473.1,1428.9 L2475.1,1420.2 L2476.5,1430.4 L2478.3,1440.9 L2479.1,1450.4 L2479.8,1460.0 L2480.5,1469.5 L2481.2,1478.8 L2481.5,1488.6 L2482.4,1498.0 L2482.7,1507.6 L2483.9,1502.4 L2483.7,1517.5 L2484.3,1526.6 L2484.6,1536.4 L2487.8,1537.9 L2488.3,1529.9 L2488.6,1521.7 L2488.2,1513.3 L2489.0,1505.6 L2489.1,1499.3 L2490.3,1504.0 L2489.2,1488.8 L2490.1,1480.6 L2490.0,1472.7 L2490.4,1463.5 L2491.2,1454.4 L2491.3,1445.5 L2492.0,1436.8 L2492.9,1427.5 L2493.2,1418.6 L2493.5,1427.4 L2493.6,1436.4 L2494.3,1445.3 L2494.5,1453.8 L2494.8,1463.0 L2495.6,1471.6 L2495.9,1480.8 L2496.1,1489.4 L2496.4,1498.2 L2497.1,1507.1 L2496.9,1515.4 L2497.3,1524.2 L2497.7,1533.3 L2497.5,1541.9 L2498.0,1549.2 L2499.2,1543.8 L2498.7,1559.7 L2498.6,1568.2 L2499.6,1579.0 L2500.1,1589.4 L2501.2,1600.0 L2502.4,1610.6 L2503.7,1620.7 L2504.2,1612.4 L2504.2,1604.5 L2504.0,1596.2 L2504.2,1587.9 L2504.2,1579.7 L2504.7,1571.3 L2505.0,1563.2 L2505.2,1554.7 L2505.0,1546.4 L2505.1,1538.4 L2505.9,1530.4 L2505.8,1522.2 L2506.4,1513.8 L2506.0,1505.3 L2506.8,1497.3 L2506.9,1489.3 L2506.8,1480.9 L2506.9,1472.7 L2507.0,1464.2 L2508.0,1455.7 L2507.9,1446.5 L2508.9,1438.4 L2509.5,1429.4 L2509.5,1421.1 L2510.1,1412.3 L2510.8,1421.4 L2511.8,1430.2 L2511.8,1438.9 L2512.5,1447.6 L2513.3,1456.8 L2514.5,1468.2 L2516.4,1479.1 L2518.7,1491.8 L2519.6,1501.6 L2520.1,1511.0 L2520.9,1520.4 L2521.6,1511.1 L2521.8,1504.0 L2523.0,1510.6 L2522.4,1491.7 L2522.8,1482.5 L2523.4,1472.7 L2523.9,1463.7 L2524.3,1454.7 L2525.5,1458.7 L2525.1,1445.5 L2524.9,1436.1 L2525.9,1427.5 L2526.1,1418.5 L2526.6,1409.1 L2527.4,1399.8 L2527.9,1390.8 L2529.2,1382.0 L2530.0,1390.4 L2530.2,1398.3 L2530.6,1410.0 L2531.8,1405.0 L2530.8,1414.9 L2531.1,1422.7 L2531.8,1430.8 L2532.4,1438.9 L2532.4,1447.3 L2533.3,1455.9 L2533.7,1464.4 L2534.6,1472.7 L2535.3,1483.6 L2536.7,1494.0 L2537.8,1504.5 L2540.0,1506.1 L2540.6,1497.9 L2540.6,1489.5 L2541.1,1481.7 L2541.3,1473.8 L2541.4,1465.2 L2541.6,1457.5 L2541.9,1449.0 L2542.5,1440.9 L2543.1,1432.1 L2542.8,1423.3 L2542.9,1414.9 L2543.8,1406.1 L2543.3,1397.5 L2543.5,1388.8 L2544.1,1380.1 L2544.4,1371.7 L2544.4,1362.7 L2544.6,1354.4 L2545.1,1345.5 L2546.0,1336.7 L2547.3,1328.0 L2547.8,1336.0 L2547.7,1344.4 L2548.1,1352.4 L2548.0,1360.0 L2548.7,1368.0 L2549.0,1376.1 L2549.1,1384.6 L2548.8,1392.4 L2549.3,1400.9 L2549.3,1408.6 L2550.2,1416.6 L2549.7,1424.8 L2550.2,1432.8 L2550.5,1440.9 L2551.2,1449.5 L2550.9,1458.7 L2551.6,1467.1 L2551.7,1476.3 L2552.1,1485.2 L2552.3,1493.9 L2553.1,1502.8 L2553.1,1511.6 L2553.7,1520.4 L2554.5,1529.2 L2555.6,1538.1 L2556.3,1546.6 L2556.9,1555.4 L2557.3,1547.4 L2557.5,1539.1 L2557.5,1530.9 L2558.0,1522.6 L2558.0,1514.8 L2558.4,1506.2 L2558.6,1494.0 L2559.8,1501.3 L2558.5,1481.7 L2559.1,1473.7 L2559.5,1465.2 L2560.0,1457.2 L2559.6,1449.1 L2560.0,1440.9 L2560.6,1432.5 L2560.9,1424.4 L2561.0,1415.5 L2561.3,1407.5 L2561.6,1398.8 L2561.6,1390.6 L2561.9,1381.8 L2562.5,1373.6 L2562.7,1365.1 L2563.0,1355.7 L2564.2,1360.6 L2563.0,1348.7 L2563.5,1340.1 L2563.9,1331.6 L2564.2,1323.2 L2564.5,1331.7 L2564.6,1340.6 L2565.2,1350.2 L2566.4,1343.1 L2565.6,1357.4 L2565.7,1366.1 L2566.2,1374.9 L2566.2,1383.6 L2566.4,1391.7 L2566.8,1400.7 L2567.4,1409.1 L2568.4,1419.5 L2568.4,1424.0 L2569.6,1416.3 L2569.2,1430.3 L2569.6,1440.9 L2570.0,1449.1 L2570.3,1457.6 L2571.2,1465.5 L2571.5,1474.2 L2571.8,1482.3 L2572.8,1493.3 L2573.7,1504.5 L2574.4,1495.3 L2574.6,1486.0 L2575.8,1493.2 L2574.7,1477.0 L2575.9,1468.4 L2575.8,1459.1 L2576.4,1450.3 L2576.9,1440.9 L2577.5,1432.4 L2577.6,1423.5 L2577.8,1415.1 L2578.3,1406.5 L2579.0,1397.5 L2579.2,1388.6 L2579.5,1376.6 L2580.7,1383.6 L2579.6,1363.1 L2580.1,1354.1 L2580.7,1345.5 L2581.7,1334.2 L2583.3,1323.2 L2583.9,1331.9 L2583.5,1340.5 L2584.4,1349.1 L2584.4,1357.4 L2584.9,1365.9 L2584.6,1374.4 L2584.6,1383.1 L2585.0,1391.7 L2585.2,1400.4 L2585.3,1408.7 L2586.0,1417.1 L2586.3,1426.0 L2586.4,1434.5 L2588.7,1440.9 L2589.0,1449.5 L2589.0,1458.3 L2589.3,1465.5 L2590.5,1458.5 L2589.5,1475.8 L2589.9,1484.1 L2590.1,1492.7 L2590.2,1501.8 L2590.1,1510.4 L2590.5,1519.1 L2591.2,1509.8 L2591.2,1499.9 L2591.6,1490.6 L2592.1,1480.9 L2593.7,1496.8 L2593.7,1505.6 L2594.0,1513.8 L2594.3,1522.3 L2595.2,1531.0 L2595.2,1539.6 L2595.6,1548.0 L2595.3,1556.5 L2595.9,1565.2 L2595.8,1557.0 L2595.9,1548.4 L2596.5,1540.5 L2596.5,1532.4 L2596.7,1523.8 L2596.3,1515.4 L2596.6,1507.4 L2596.9,1498.9 L2596.8,1491.1 L2597.0,1482.5 L2597.3,1474.5 L2597.6,1466.4 L2597.1,1458.1 L2597.6,1450.0 L2597.9,1441.5 L2597.8,1433.2 L2597.8,1425.2 L2598.6,1416.8 L2598.5,1408.6 L2599.3,1400.2 L2599.5,1392.2 L2600.0,1383.9 L2600.1,1392.1 L2600.8,1400.5 L2600.9,1408.3 L2600.9,1416.7 L2601.6,1424.4 L2601.4,1432.8 L2602.2,1441.0 L2602.3,1449.1 L2602.4,1457.9 L2602.5,1466.7 L2602.5,1475.8 L2602.8,1484.4 L2603.5,1493.3 L2603.5,1502.0 L2603.6,1511.2 L2603.8,1519.7 L2603.9,1528.6 L2606.4,1538.2 L2606.8,1547.8 L2607.7,1557.1 L2608.6,1566.8 L2609.3,1558.6 L2609.7,1550.1 L2610.0,1541.3 L2610.3,1534.3 L2611.5,1542.2 L2610.5,1524.4 L2611.2,1515.9 L2612.1,1526.5 L2612.6,1533.6 L2613.8,1528.8 L2612.8,1537.1 L2613.7,1547.7 L2614.2,1539.6 L2613.8,1531.5 L2614.0,1522.9 L2614.5,1515.2 L2614.3,1506.7 L2614.3,1498.3 L2614.5,1490.2 L2615.1,1482.4 L2615.2,1474.3 L2615.1,1465.6 L2615.5,1458.0 L2615.6,1449.4 L2615.7,1441.5 L2616.0,1433.2 L2616.9,1423.4 L2618.2,1414.1 L2618.4,1422.5 L2618.7,1431.0 L2619.0,1438.9 L2619.8,1447.6 L2619.9,1456.0 L2619.9,1464.5 L2620.2,1472.7 L2620.7,1480.9 L2621.4,1491.3 L2622.3,1502.4 L2623.3,1512.7 L2624.3,1523.0 L2624.5,1533.6 L2625.5,1544.5 L2626.7,1554.0 L2628.5,1563.8 L2629.6,1573.2 L2629.8,1564.6 L2630.0,1556.5 L2630.2,1548.6 L2630.1,1540.3 L2630.8,1532.1 L2630.6,1523.4 L2631.1,1515.3 L2630.9,1507.1 L2631.4,1498.9 L2631.6,1490.3 L2631.6,1482.0 L2632.3,1473.9 L2632.3,1465.5 L2632.9,1457.6 L2632.8,1449.1 L2632.8,1441.0 L2633.6,1432.6 L2633.8,1424.0 L2634.0,1415.6 L2634.6,1407.7 L2634.9,1399.1 L2635.3,1390.7 L2635.0,1382.4 L2635.7,1374.3 L2636.2,1382.8 L2635.9,1391.1 L2636.2,1399.1 L2636.7,1407.4 L2636.8,1415.6 L2637.3,1424.2 L2637.6,1432.3 L2637.7,1440.6 L2638.2,1449.1 L2638.3,1457.0 L2638.4,1465.4 L2638.8,1473.2 L2638.8,1481.4 L2639.2,1489.7 L2639.7,1497.7 L2639.4,1505.6 L2639.9,1513.6 L2639.7,1521.9 L2640.5,1530.0 L2640.5,1538.2 L2640.7,1546.8 L2641.5,1555.9 L2642.6,1565.2 L2643.0,1574.0 L2643.6,1582.7 L2644.8,1593.6 L2646.8,1605.0 L2647.2,1614.4 L2648.2,1624.2 L2648.5,1633.7 L2649.2,1643.4 L2649.4,1652.7 L2649.9,1644.4 L2649.6,1636.1 L2649.6,1628.1 L2650.3,1619.7 L2650.0,1611.8 L2650.6,1603.4 L2650.7,1595.2 L2650.6,1584.7 L2651.8,1590.7 L2650.7,1570.4 L2650.7,1561.8 L2650.8,1553.9 L2651.1,1545.7 L2651.8,1537.6 L2651.5,1529.4 L2651.7,1520.9 L2651.9,1512.7 L2652.2,1503.1 L2652.9,1493.8 L2653.0,1483.8 L2653.4,1479.3 L2654.6,1486.7 L2653.4,1474.6 L2654.1,1465.0 L2654.7,1476.9 L2655.9,1472.4 L2654.9,1484.1 L2655.8,1493.7 L2656.1,1503.2 L2656.4,1512.7 L2657.1,1521.7 L2657.1,1531.0 L2657.6,1538.0 L2658.8,1531.9 L2658.5,1548.9 L2658.4,1557.6 L2658.9,1566.8 L2660.6,1574.9 L2662.7,1582.7 L2665.9,1592.3 L2666.1,1583.7 L2666.3,1574.6 L2667.1,1565.9 L2667.0,1556.8 L2667.5,1548.2 L2667.3,1539.5 L2667.6,1530.2 L2668.6,1521.3 L2668.5,1512.7 L2668.8,1503.9 L2669.6,1495.1 L2669.8,1486.7 L2669.8,1479.5 L2671.0,1484.2 L2670.2,1469.3 L2670.9,1460.5 L2671.2,1452.1 L2671.3,1443.4 L2671.6,1434.8 L2671.6,1443.1 L2671.8,1451.9 L2672.7,1460.2 L2672.2,1468.7 L2672.5,1477.2 L2673.2,1485.3 L2673.7,1494.0 L2673.3,1502.2 L2673.8,1510.6 L2673.8,1519.4 L2674.0,1527.7 L2674.4,1536.1 L2674.8,1544.5 L2675.3,1553.3 L2675.7,1561.7 L2676.1,1571.0 L2676.5,1579.7 L2677.1,1588.0 L2677.6,1596.8 L2677.2,1605.7 L2678.0,1614.5 L2678.1,1622.5 L2679.0,1631.0 L2679.5,1638.8 L2679.4,1647.4 L2679.9,1655.1 L2680.7,1663.3 L2680.7,1671.8 L2681.2,1679.8 L2681.3,1671.5 L2681.8,1663.6 L2681.9,1655.4 L2682.4,1642.8 L2683.6,1649.4 L2682.9,1631.5 L2683.1,1623.4 L2683.0,1614.9 L2683.7,1607.0 L2683.5,1598.7 L2683.9,1590.7 L2684.4,1582.7 L2684.8,1574.3 L2685.1,1566.7 L2685.9,1558.4 L2686.8,1550.3 L2687.1,1541.8 L2687.3,1533.6 L2688.3,1525.5 L2688.6,1517.4 L2689.1,1509.5 L2691.4,1519.1 L2692.1,1527.7 L2692.6,1536.0 L2692.6,1544.5 L2692.7,1552.8 L2693.6,1561.3 L2693.9,1570.0 L2697.1,1576.4 L2697.7,1584.7 L2698.6,1595.9 L2699.8,1590.4 L2699.4,1601.9 L2699.6,1610.8 L2700.3,1619.3 L2700.8,1611.3 L2701.3,1602.8 L2701.4,1594.7 L2702.1,1586.4 L2702.7,1578.0 L2702.8,1570.0 L2703.4,1562.1 L2703.5,1553.6 L2703.3,1545.2 L2704.0,1537.4 L2704.3,1529.0 L2704.5,1521.0 L2704.7,1512.4 L2704.4,1504.2 L2705.2,1490.5 L2706.4,1494.7 L2705.4,1479.7 L2706.1,1471.6 L2706.0,1463.4 L2707.0,1471.6 L2707.9,1479.4 L2709.2,1487.3 L2709.8,1495.2 L2710.0,1503.4 L2710.1,1511.7 L2710.6,1519.5 L2710.4,1527.7 L2711.3,1535.5 L2711.2,1544.1 L2711.2,1552.2 L2711.5,1560.1 L2712.5,1568.0 L2712.3,1576.4 L2712.4,1584.5 L2713.0,1592.3 L2713.5,1601.6 L2714.2,1610.1 L2714.7,1619.1 L2714.7,1628.5 L2716.0,1637.6 L2716.2,1646.3 L2717.3,1636.8 L2718.3,1625.0 L2719.5,1632.8 L2719.3,1617.6 L2720.0,1608.2 L2720.0,1599.6 L2720.3,1591.4 L2720.2,1582.9 L2720.9,1574.2 L2721.0,1566.0 L2721.2,1557.0 L2721.3,1548.9 L2721.0,1540.3 L2721.7,1531.6 L2721.4,1523.2 L2721.9,1514.8 L2722.0,1506.2 L2722.1,1498.1 L2722.0,1489.6 L2722.5,1480.9 L2724.2,1469.7 L2726.4,1458.6 L2727.0,1467.5 L2727.4,1476.3 L2727.4,1486.9 L2728.6,1481.6 L2727.6,1493.9 L2727.7,1502.3 L2728.7,1511.2 L2728.3,1519.7 L2728.9,1528.6 L2728.9,1536.7 L2729.4,1545.3 L2729.4,1553.4 L2729.7,1561.7 L2730.2,1570.2 L2730.3,1578.4 L2730.5,1586.9 L2730.5,1595.4 L2731.6,1584.7 L2732.9,1573.9 L2733.7,1563.6 L2734.3,1572.0 L2734.6,1579.4 L2735.8,1572.1 L2735.4,1588.6 L2735.3,1597.2 L2735.6,1605.5 L2736.1,1614.3 L2736.9,1622.5 L2737.5,1614.2 L2737.9,1606.3 L2737.6,1597.9 L2738.4,1590.3 L2738.4,1582.3 L2739.6,1589.0 L2738.7,1574.1 L2739.0,1565.8 L2739.6,1557.5 L2739.3,1549.2 L2740.0,1541.4 L2740.3,1532.4 L2741.4,1523.6 L2742.0,1515.4 L2741.8,1506.4 L2742.3,1497.9 L2743.1,1488.6 L2744.0,1480.4 L2744.2,1471.4 L2744.2,1479.4 L2744.8,1487.5 L2744.8,1495.6 L2745.2,1503.4 L2746.4,1497.4 L2745.6,1512.1 L2745.5,1520.2 L2746.2,1528.4 L2745.9,1536.3 L2746.4,1544.5 L2747.0,1553.3 L2746.7,1563.0 L2747.3,1571.7 L2747.5,1580.7 L2748.2,1589.9 L2748.3,1599.3 L2748.6,1608.2 L2749.6,1616.9 L2750.0,1625.2 L2750.5,1633.6 L2752.8,1646.3 L2753.7,1656.7 L2753.9,1662.1 L2755.1,1655.6 L2754.0,1667.6 L2755.0,1678.2 L2755.4,1669.9 L2755.5,1661.9 L2755.5,1653.6 L2755.7,1645.2 L2756.0,1636.8 L2755.9,1628.4 L2755.9,1620.4 L2756.3,1612.1 L2756.7,1603.8 L2757.0,1595.4 L2756.7,1587.4 L2757.2,1578.7 L2756.7,1570.6 L2757.3,1562.2 L2757.2,1554.3 L2757.8,1545.9 L2757.9,1537.5 L2757.9,1529.1 L2757.9,1520.8 L2758.2,1512.7 L2758.4,1503.9 L2758.7,1495.6 L2759.6,1486.7 L2759.7,1478.3 L2760.4,1470.6 L2761.6,1476.6 L2761.1,1460.9 L2761.7,1452.1 L2762.2,1443.2 L2762.3,1434.8 L2762.7,1443.5 L2763.4,1452.0 L2763.5,1461.0 L2763.5,1469.2 L2764.0,1478.3 L2764.3,1486.5 L2764.6,1495.4 L2765.5,1504.1 L2765.5,1512.7 L2766.1,1521.9 L2766.2,1530.6 L2766.9,1539.8 L2766.9,1548.7 L2767.3,1557.8 L2767.7,1566.8 L2768.2,1575.6 L2768.2,1584.8 L2768.1,1594.0 L2768.9,1602.7 L2768.9,1611.8 L2771.5,1624.5 L2772.8,1634.0 L2773.7,1643.6 L2773.6,1635.3 L2774.1,1627.5 L2773.8,1619.5 L2774.5,1611.3 L2774.6,1603.3 L2774.6,1595.6 L2774.1,1587.5 L2774.6,1579.5 L2774.8,1571.6 L2775.0,1556.2 L2776.2,1560.8 L2775.3,1539.2 L2775.3,1531.3 L2775.2,1523.3 L2775.7,1514.9 L2775.4,1507.1 L2775.6,1499.2 L2775.9,1490.9 L2776.0,1482.0 L2776.9,1473.8 L2776.8,1465.1 L2777.1,1456.5 L2777.9,1447.4 L2778.0,1439.1 L2778.8,1430.1 L2779.0,1421.8 L2779.4,1412.9 L2779.4,1421.5 L2780.1,1429.8 L2779.5,1438.3 L2779.9,1446.6 L2780.2,1455.0 L2780.2,1463.5 L2780.3,1472.2 L2780.9,1480.5 L2780.8,1488.8 L2780.8,1497.1 L2780.9,1505.7 L2781.4,1514.1 L2781.6,1522.7 L2781.5,1532.3 L2781.8,1541.5 L2782.4,1547.7 L2783.6,1541.5 L2782.2,1551.3 L2782.8,1561.1 L2783.2,1570.4 L2783.9,1579.7 L2784.0,1588.7 L2784.7,1597.9 L2784.9,1604.4 L2786.1,1598.4 L2785.8,1615.6 L2785.6,1625.1 L2786.4,1634.1 L2787.5,1645.5 L2788.6,1656.3 L2789.7,1664.9 L2790.3,1673.5 L2791.2,1681.8 L2791.5,1673.7 L2791.6,1665.2 L2791.8,1656.6 L2792.1,1648.2 L2791.6,1640.2 L2792.0,1631.6 L2792.5,1622.9 L2792.1,1614.7 L2792.8,1606.4 L2792.4,1597.9 L2792.7,1589.7 L2792.6,1581.1 L2793.1,1573.0 L2792.8,1564.4 L2793.1,1555.9 L2793.3,1547.6 L2793.6,1539.3 L2793.5,1531.3 L2793.7,1522.7 L2793.6,1514.1 L2793.8,1505.7 L2794.1,1497.1 L2794.9,1488.5 L2794.5,1479.6 L2795.1,1471.0 L2795.4,1462.5 L2795.4,1453.9 L2795.8,1445.2 L2796.0,1436.8 L2799.1,1428.9 L2799.0,1437.4 L2799.2,1445.8 L2799.9,1454.2 L2799.7,1462.2 L2800.1,1470.9 L2800.0,1479.2 L2800.4,1487.5 L2800.2,1495.6 L2800.8,1504.2 L2800.9,1512.7 L2800.9,1521.0 L2801.0,1529.2 L2800.9,1537.5 L2801.5,1546.0 L2801.4,1554.5 L2802.2,1564.0 L2802.5,1573.4 L2802.9,1583.0 L2803.9,1592.7 L2804.2,1601.4 L2804.6,1609.9 L2804.5,1618.6 L2805.1,1627.7 L2805.4,1636.2 L2805.6,1644.7 L2805.6,1653.7 L2805.9,1662.2 L2805.7,1670.6 L2806.6,1679.7 L2806.5,1688.2 L2809.6,1702.5 L2810.1,1694.5 L2809.8,1686.2 L2810.2,1678.0 L2810.4,1669.6 L2810.1,1661.4 L2810.1,1653.3 L2810.3,1644.7 L2810.2,1636.6 L2810.9,1628.2 L2810.6,1620.3 L2810.6,1612.3 L2810.8,1603.9 L2811.1,1595.4 L2811.1,1587.3 L2811.8,1579.0 L2811.8,1571.0 L2811.7,1562.7 L2811.9,1554.5 L2811.8,1546.0 L2812.7,1537.3 L2812.9,1526.1 L2814.1,1532.4 L2812.9,1519.3 L2813.8,1510.9 L2813.9,1502.0 L2814.3,1493.2 L2814.4,1484.5 L2814.4,1493.6 L2815.1,1502.5 L2815.7,1511.7 L2816.1,1520.6 L2816.0,1529.4 L2816.6,1538.6 L2817.3,1547.9 L2817.6,1557.9 L2817.3,1567.4 L2818.3,1577.1 L2818.2,1586.4 L2818.3,1595.0 L2818.7,1604.0 L2819.2,1613.0 L2819.1,1621.5 L2819.7,1630.5 L2819.5,1639.7 L2820.3,1648.5 L2820.6,1656.9 L2820.5,1665.9 L2820.9,1656.1 L2822.0,1646.7 L2823.0,1637.3 L2824.4,1646.0 L2824.6,1648.9 L2825.8,1644.4 L2825.5,1654.7 L2826.5,1663.5 L2827.8,1672.3 L2828.2,1663.9 L2828.5,1654.8 L2828.2,1646.3 L2828.8,1637.9 L2828.3,1629.2 L2828.8,1620.6 L2829.0,1612.1 L2828.7,1603.6 L2829.2,1595.3 L2829.4,1586.4 L2829.7,1577.1 L2830.1,1567.0 L2830.6,1558.0 L2831.2,1548.4 L2831.9,1538.6 L2834.1,1548.2 L2834.7,1557.5 L2835.2,1567.4 L2835.6,1576.8 L2835.6,1586.3 L2836.4,1595.9 L2836.6,1604.5 L2837.2,1612.9 L2837.4,1621.6 L2837.3,1630.0 L2837.6,1639.0 L2838.0,1647.3 L2838.1,1656.1 L2838.5,1664.8 L2838.4,1672.9 L2838.9,1681.8 L2839.0,1690.6 L2839.0,1699.5 L2839.2,1708.1 L2839.5,1716.5 L2840.1,1725.7 L2839.8,1734.5 L2840.4,1743.2 L2840.3,1751.5 L2840.3,1760.5 L2840.8,1769.3 L2841.4,1760.8 L2841.6,1752.8 L2841.3,1743.8 L2842.2,1735.7 L2842.2,1725.4 L2843.4,1731.1 L2842.1,1718.8 L2842.7,1710.4 L2843.2,1719.2 L2844.2,1727.7 L2844.6,1736.0 L2845.8,1731.6 L2845.3,1745.4 L2845.3,1737.1 L2845.1,1728.7 L2845.3,1720.7 L2845.3,1712.2 L2845.9,1703.9 L2845.5,1695.7 L2845.8,1687.8 L2846.2,1679.5 L2846.5,1671.4 L2845.9,1662.9 L2846.5,1655.0 L2846.7,1646.2 L2846.5,1637.9 L2846.3,1629.6 L2847.1,1621.6 L2846.4,1613.7 L2847.0,1595.5 L2848.2,1601.1 L2846.9,1580.6 L2846.9,1572.3 L2847.1,1564.0 L2847.0,1555.6 L2847.7,1547.6 L2847.9,1538.9 L2847.4,1531.2 L2847.8,1522.7 L2848.6,1514.2 L2848.9,1505.4 L2849.1,1497.0 L2849.6,1488.1 L2849.8,1479.6 L2850.7,1471.2 L2851.0,1462.3 L2851.4,1471.2 L2851.8,1479.8 L2852.1,1488.1 L2852.2,1496.7 L2852.6,1505.5 L2853.1,1514.2 L2853.2,1522.7 L2853.4,1531.4 L2853.2,1540.0 L2854.0,1548.6 L2853.7,1557.5 L2854.1,1566.0 L2854.1,1574.6 L2854.7,1585.9 L2855.9,1581.1 L2854.5,1592.0 L2855.3,1601.1 L2854.9,1609.5 L2855.4,1618.2 L2855.7,1627.0 L2855.6,1636.4 L2856.3,1645.5 L2856.8,1654.7 L2857.0,1663.6 L2857.2,1672.6 L2857.4,1681.8 L2857.9,1690.5 L2858.3,1698.8 L2858.5,1707.4 L2858.8,1716.5 L2858.8,1725.2 L2858.9,1733.4 L2859.6,1742.3 L2859.9,1733.1 L2860.6,1724.5 L2860.4,1720.7 L2861.6,1727.6 L2860.3,1715.5 L2860.7,1706.5 L2861.2,1697.7 L2862.1,1706.9 L2862.1,1716.2 L2862.9,1725.6 L2863.6,1734.4 L2863.7,1743.8 L2863.5,1735.5 L2863.5,1727.2 L2864.4,1718.7 L2864.4,1710.6 L2864.2,1702.7 L2864.5,1694.2 L2864.5,1686.1 L2864.9,1677.6 L2864.9,1669.4 L2865.1,1660.8 L2864.6,1652.5 L2865.1,1644.3 L2865.4,1636.3 L2865.2,1627.9 L2865.1,1619.8 L2865.9,1611.4 L2865.5,1603.3 L2865.6,1594.5 L2865.9,1586.4 L2866.0,1578.1 L2866.6,1569.6 L2866.8,1561.3 L2867.3,1553.0 L2867.6,1544.3 L2868.2,1536.1 L2868.2,1527.5 L2868.9,1536.6 L2869.5,1545.2 L2870.7,1554.5 L2870.8,1563.1 L2871.2,1571.4 L2871.6,1580.2 L2871.6,1588.7 L2871.6,1596.7 L2871.8,1605.3 L2872.2,1614.2 L2871.9,1622.4 L2872.2,1630.8 L2872.5,1639.4 L2872.4,1647.6 L2872.4,1656.3 L2872.7,1664.9 L2873.2,1673.3 L2873.3,1681.8 L2874.3,1692.2 L2874.9,1702.8 L2875.5,1713.6 L2875.7,1721.8 L2875.8,1730.0 L2876.3,1737.9 L2877.0,1746.3 L2876.7,1754.5 L2877.3,1762.6 L2877.7,1770.9 L2878.8,1780.6 L2879.6,1790.0 L2880.5,1780.4 L2881.9,1770.9 L2881.9,1762.9 L2882.0,1754.8 L2881.9,1747.0 L2882.3,1738.8 L2882.0,1731.1 L2882.3,1722.7 L2882.8,1714.8 L2882.5,1706.9 L2882.6,1698.4 L2882.5,1690.8 L2882.8,1682.6 L2883.0,1674.6 L2883.0,1666.8 L2883.3,1658.7 L2883.3,1650.7 L2883.8,1642.4 L2883.8,1634.5 L2883.7,1626.3 L2883.5,1618.3 L2884.0,1610.6 L2883.5,1602.7 L2884.3,1594.6 L2884.1,1586.4 L2884.7,1577.7 L2885.0,1569.1 L2885.6,1560.0 L2886.6,1551.4 L2887.2,1559.5 L2887.4,1568.0 L2887.3,1576.7 L2888.2,1584.6 L2888.2,1593.2 L2888.6,1601.4 L2888.6,1609.9 L2889.2,1618.2 L2889.5,1626.8 L2889.7,1634.8 L2889.8,1643.3 L2889.7,1652.0 L2890.4,1660.0 L2890.4,1668.6 L2890.8,1678.2 L2892.0,1671.4 L2891.3,1685.4 L2891.3,1694.1 L2891.3,1702.2 L2891.6,1710.4 L2892.0,1718.9 L2891.9,1727.7 L2892.4,1735.9 L2892.9,1727.2 L2893.4,1719.1 L2893.2,1710.4 L2893.9,1701.9 L2894.4,1693.6 L2894.6,1685.0 L2895.1,1693.4 L2895.6,1702.3 L2896.5,1710.8 L2897.2,1719.2 L2897.8,1727.9 L2897.7,1719.7 L2898.5,1711.3 L2898.7,1702.9 L2898.4,1694.7 L2898.8,1686.5 L2899.1,1677.7 L2899.0,1669.5 L2899.6,1661.1 L2899.8,1652.8 L2899.2,1645.0 L2899.7,1636.5 L2899.9,1628.0 L2900.3,1619.9 L2900.0,1611.4 L2900.4,1603.0 L2900.9,1594.6 L2900.9,1586.4 L2901.4,1577.5 L2901.6,1569.4 L2902.0,1560.3 L2902.6,1551.7 L2902.6,1543.4 L2902.9,1535.9 L2904.1,1542.5 L2903.5,1525.9 L2903.9,1517.5 L2903.9,1508.6 L2904.1,1499.9 L2904.4,1491.4 L2905.1,1482.9 L2905.1,1491.4 L2905.4,1500.0 L2905.9,1509.2 L2907.1,1504.9 L2906.5,1517.4 L2906.1,1526.1 L2906.6,1534.5 L2906.8,1543.1 L2907.1,1552.1 L2907.7,1560.8 L2907.4,1569.2 L2908.1,1577.7 L2908.3,1586.4 L2908.8,1594.7 L2908.6,1603.4 L2908.9,1611.8 L2909.4,1621.8 L2910.6,1616.2 L2909.9,1628.9 L2909.9,1637.3 L2910.0,1645.9 L2910.1,1654.0 L2911.0,1662.6 L2910.8,1671.1 L2911.2,1679.7 L2911.4,1688.2 L2912.3,1696.4 L2912.1,1704.8 L2912.7,1712.6 L2913.3,1720.6 L2913.7,1729.2 L2914.3,1736.9 L2915.0,1745.3 L2915.3,1753.4 L2915.5,1744.6 L2916.1,1736.1 L2916.1,1725.8 L2917.3,1730.2 L2916.4,1718.9 L2916.5,1710.5 L2916.7,1701.9 L2917.3,1693.3 L2917.4,1684.5 L2917.9,1676.1 L2918.0,1667.3 L2918.2,1658.9 L2918.4,1650.0 L2918.9,1642.2 L2918.7,1633.9 L2919.2,1626.2 L2919.3,1617.9 L2920.0,1610.0 L2919.7,1601.5 L2920.2,1593.9 L2920.4,1585.9 L2920.8,1577.4 L2921.2,1569.8 L2921.1,1561.6 L2921.4,1553.8 L2921.5,1545.6 L2921.7,1537.7 L2922.2,1529.4 L2922.4,1521.5 L2922.6,1513.4 L2922.6,1505.2 L2923.2,1497.3 L2923.4,1505.2 L2923.7,1513.3 L2924.4,1521.5 L2924.4,1530.8 L2925.6,1525.5 L2924.9,1537.8 L2924.6,1545.9 L2925.0,1553.9 L2925.1,1561.9 L2925.9,1570.4 L2926.3,1578.1 L2926.4,1586.4 L2927.2,1597.3 L2928.0,1608.6 L2930.5,1618.2 L2931.2,1626.9 L2931.4,1635.7 L2931.3,1644.5 L2932.1,1653.5 L2932.6,1662.2 L2932.6,1671.2 L2932.9,1680.0 L2933.2,1688.9 L2933.7,1697.7 L2934.2,1689.5 L2934.4,1680.7 L2934.0,1672.4 L2934.7,1664.1 L2935.0,1655.7 L2935.2,1647.1 L2934.8,1638.8 L2935.1,1630.3 L2935.3,1621.6 L2935.5,1613.7 L2935.4,1605.2 L2935.6,1596.5 L2935.8,1588.0 L2936.5,1579.8 L2936.3,1571.1 L2936.6,1563.1 L2936.9,1554.5 L2937.3,1546.2 L2937.7,1537.4 L2937.5,1529.1 L2938.0,1519.6 L2939.2,1525.9 L2938.6,1512.4 L2938.5,1504.2 L2939.1,1495.5 L2939.0,1487.4 L2939.5,1478.6 L2939.6,1470.7 L2940.0,1461.8 L2940.2,1453.4 L2940.1,1445.0 L2940.7,1436.8 L2940.8,1445.6 L2941.0,1453.8 L2941.9,1462.8 L2941.8,1471.4 L2942.4,1479.9 L2943.0,1488.5 L2943.0,1496.9 L2942.9,1505.3 L2943.5,1514.2 L2943.9,1522.7 L2944.3,1531.5 L2944.6,1539.9 L2944.6,1548.2 L2945.0,1558.1 L2946.2,1551.6 L2945.6,1564.8 L2945.5,1573.6 L2948.7,1576.8 L2948.6,1585.4 L2949.0,1594.1 L2949.5,1604.6 L2950.7,1597.4 L2949.5,1612.2 L2950.3,1620.8 L2950.6,1629.3 L2950.5,1638.2 L2953.7,1631.8 L2954.2,1622.8 L2954.3,1614.2 L2953.9,1605.9 L2954.3,1597.1 L2954.4,1588.4 L2954.7,1579.9 L2955.1,1571.2 L2955.3,1562.4 L2955.8,1553.5 L2955.5,1545.2 L2955.9,1536.4 L2956.5,1528.2 L2957.0,1520.2 L2957.1,1511.6 L2957.4,1503.6 L2957.7,1495.3 L2958.5,1487.2 L2958.5,1479.1 L2958.9,1487.5 L2959.3,1495.4 L2959.9,1503.8 L2959.8,1511.7 L2959.9,1520.2 L2960.8,1527.9 L2961.0,1536.4 L2961.1,1545.1 L2961.4,1554.2 L2961.4,1562.9 L2961.7,1571.7 L2961.8,1580.7 L2962.5,1589.4 L2963.0,1598.1 L2963.1,1607.1 L2963.2,1615.9 L2963.1,1624.4 L2963.9,1632.9 L2964.1,1641.3 L2964.2,1649.5 L2965.2,1657.9 L2965.4,1666.3 L2965.5,1674.8 L2968.0,1663.6 L2969.4,1654.3 L2970.5,1644.5 L2970.5,1636.0 L2970.8,1627.7 L2971.3,1619.8 L2971.1,1611.0 L2971.7,1603.1 L2971.7,1590.0 L2972.9,1594.9 L2971.9,1578.0 L2972.0,1569.6 L2972.2,1561.6 L2972.6,1552.8 L2972.4,1544.5 L2972.8,1536.4 L2973.5,1527.3 L2973.8,1518.5 L2974.6,1509.6 L2975.4,1500.7 L2976.0,1491.8 L2976.1,1500.1 L2976.9,1513.0 L2978.1,1506.8 L2977.0,1525.9 L2977.8,1534.3 L2977.9,1542.7 L2978.3,1551.0 L2978.4,1559.7 L2979.1,1568.2 L2979.7,1576.6 L2980.0,1584.5 L2979.9,1592.7 L2980.3,1600.4 L2980.7,1608.9 L2981.4,1619.9 L2982.6,1613.2 L2981.8,1624.8 L2982.2,1633.3 L2982.3,1641.3 L2983.4,1649.0 L2983.5,1653.6 L2984.7,1647.9 L2984.0,1657.4 L2984.9,1665.3 L2985.5,1673.2 L2986.4,1682.6 L2986.8,1692.4 L2987.8,1701.6 L2988.7,1711.3 L2989.0,1703.1 L2988.7,1694.9 L2989.3,1686.4 L2989.6,1677.8 L2989.8,1669.9 L2989.4,1661.1 L2989.7,1653.0 L2989.8,1644.4 L2990.3,1636.4 L2990.2,1627.9 L2990.7,1619.9 L2990.4,1611.4 L2990.6,1603.0 L2990.6,1594.5 L2991.1,1586.6 L2991.1,1578.3 L2991.0,1569.5 L2991.5,1561.1 L2991.5,1552.9 L2991.9,1544.8 L2991.9,1536.4 L2992.1,1527.5 L2993.1,1515.8 L2994.3,1521.9 L2993.7,1510.1 L2994.3,1501.7 L2994.6,1492.5 L2995.0,1483.9 L2995.4,1492.0 L2995.8,1500.7 L2995.6,1508.5 L2996.3,1516.9 L2995.9,1525.4 L2996.2,1533.5 L2996.8,1541.8 L2997.0,1550.0 L2997.3,1558.3 L2997.1,1566.8 L2997.1,1575.4 L2997.4,1583.7 L2998.1,1592.0 L2998.2,1600.0 L2998.3,1609.1 L2999.2,1618.3 L2999.1,1627.0 L2999.2,1636.1 L3000.1,1645.6 L3000.6,1654.5 L3000.5,1663.6 L3001.0,1672.3 L3001.4,1680.8 L3001.7,1689.7 L3002.1,1698.4 L3002.3,1708.0 L3003.5,1703.9 L3003.0,1715.4 L3003.0,1724.1 L3006.2,1736.8 L3006.0,1728.9 L3006.1,1720.8 L3006.6,1712.9 L3007.1,1704.7 L3007.3,1696.6 L3007.0,1688.6 L3007.3,1680.4 L3007.8,1672.6 L3007.7,1656.4 L3008.9,1662.9 L3008.4,1640.4 L3008.0,1632.5 L3008.4,1624.4 L3008.8,1616.1 L3008.9,1608.5 L3009.1,1600.1 L3009.2,1592.3 L3009.0,1584.4 L3009.2,1576.2 L3009.4,1568.2 L3009.7,1559.9 L3010.1,1551.9 L3010.2,1543.9 L3010.4,1535.4 L3010.6,1527.2 L3010.8,1519.3 L3010.4,1511.1 L3010.9,1502.5 L3011.2,1494.3 L3011.2,1486.4 L3011.2,1478.2 L3011.2,1470.0 L3012.0,1461.5 L3011.9,1453.6 L3012.4,1461.8 L3013.3,1470.8 L3013.5,1479.8 L3014.7,1474.4 L3013.7,1487.6 L3014.2,1496.2 L3015.1,1504.5 L3015.1,1513.2 L3015.7,1521.4 L3016.2,1530.1 L3016.3,1538.3 L3016.4,1547.0 L3016.9,1555.7 L3016.4,1563.8 L3016.7,1572.6 L3017.3,1580.9 L3019.5,1587.3 L3019.9,1578.3 L3020.6,1569.5 L3021.0,1560.4 L3021.5,1551.3 L3022.1,1542.7 L3023.0,1532.9 L3023.3,1523.9 L3024.5,1513.9 L3025.3,1504.5 L3026.0,1495.7 L3026.4,1486.2 L3026.0,1477.0 L3027.0,1468.0 L3027.3,1459.2 L3027.7,1449.7 L3027.8,1440.9 L3028.5,1432.1 L3029.5,1423.4 L3029.8,1414.7 L3031.0,1405.9 L3031.0,1414.1 L3031.4,1422.4 L3031.5,1430.7 L3031.9,1438.7 L3032.0,1446.5 L3031.9,1454.8 L3032.6,1463.0 L3032.8,1470.9 L3032.7,1479.5 L3033.2,1487.4 L3033.2,1495.9 L3033.3,1503.6 L3033.5,1511.7 L3033.9,1520.0 L3033.9,1528.5 L3034.2,1536.4 L3034.6,1545.7 L3035.3,1554.3 L3035.7,1563.6 L3036.0,1572.7 L3036.3,1581.6 L3036.6,1590.7 L3037.4,1600.0 L3037.8,1609.5 L3038.4,1618.9 L3039.0,1624.3 L3040.2,1618.2 L3039.4,1628.3 L3039.9,1638.2 L3040.5,1647.7 L3041.1,1656.0 L3042.0,1664.7 L3042.8,1673.2 L3043.1,1665.1 L3042.6,1657.3 L3042.9,1649.1 L3043.0,1641.2 L3043.6,1633.3 L3043.5,1625.1 L3043.1,1616.8 L3043.6,1609.3 L3043.4,1600.9 L3044.0,1593.0 L3043.7,1585.2 L3044.2,1576.9 L3043.8,1568.8 L3043.8,1561.0 L3044.1,1552.9 L3044.3,1545.0 L3043.9,1536.6 L3044.6,1528.7 L3044.2,1520.6 L3044.9,1513.1 L3044.5,1504.9 L3044.9,1496.7 L3044.5,1488.5 L3044.7,1480.8 L3045.0,1472.7 L3045.4,1464.2 L3046.2,1455.6 L3046.6,1446.9 L3047.0,1434.8 L3048.2,1440.4 L3047.7,1429.3 L3047.9,1421.0 L3048.2,1412.3 L3048.4,1420.8 L3048.4,1428.6 L3049.1,1437.0 L3049.4,1445.3 L3049.5,1453.7 L3049.6,1461.7 L3050.0,1470.0 L3049.8,1478.6 L3050.5,1486.5 L3050.5,1494.8 L3050.4,1503.2 L3051.0,1511.6 L3051.3,1520.1 L3050.9,1528.0 L3051.4,1536.4 L3052.6,1547.2 L3053.2,1557.5 L3053.9,1568.2 L3054.3,1577.1 L3054.9,1586.6 L3055.1,1595.6 L3056.1,1604.8 L3056.6,1613.8 L3056.8,1622.7 L3057.1,1631.8 L3057.6,1640.4 L3058.2,1649.3 L3058.4,1658.2 L3058.7,1666.8 L3059.3,1658.9 L3059.3,1650.7 L3059.2,1642.5 L3059.8,1634.1 L3059.7,1626.2 L3059.8,1617.7 L3060.5,1609.9 L3060.2,1601.4 L3060.9,1593.3 L3061.0,1585.3 L3061.1,1576.9 L3061.3,1568.8 L3061.3,1560.8 L3061.1,1552.6 L3061.6,1544.8 L3061.9,1536.4 L3062.0,1528.4 L3062.8,1519.7 L3062.7,1511.4 L3062.8,1503.2 L3063.7,1489.1 L3064.9,1496.4 L3063.8,1477.9 L3064.1,1469.9 L3064.9,1461.6 L3065.4,1453.4 L3065.8,1444.7 L3065.8,1436.4 L3066.0,1428.2 L3066.7,1436.7 L3067.0,1445.1 L3066.8,1453.9 L3067.4,1462.4 L3067.5,1470.6 L3068.2,1479.0 L3068.4,1487.4 L3068.5,1496.1 L3069.2,1504.5 L3069.7,1513.0 L3069.8,1521.8 L3071.0,1514.3 L3070.4,1530.5 L3070.2,1538.9 L3070.9,1547.7 L3071.2,1556.6 L3071.4,1565.0 L3072.4,1574.6 L3073.6,1584.1 L3074.7,1594.9 L3076.2,1606.3 L3078.7,1595.2" fill="none" stroke="#df9bfa" stroke-width="3.0" stroke-linejoin="round"/>
<text x="1843.9" y="1256.2" text-anchor="end">100</text>
<text x="1843.9" y="1471.2" text-anchor="end">0</text>
<text x="1843.9" y="1686.1" text-anchor="end">100</text>
<rect x="1723.1" y="1664.55" width="30.8" height="2.3" fill="#222"/>
<text x="1861.5" y="1865.2" text-anchor="middle">0</text>
<text x="2040.4" y="1865.2" text-anchor="middle">10</text>
<text x="2219.3" y="1865.2" text-anchor="middle">20</text>
<text x="2398.2" y="1865.2" text-anchor="middle">30</text>
<text x="2577.0" y="1865.2" text-anchor="middle">40</text>
<text x="2755.9" y="1865.2" text-anchor="middle">50</text>
<text x="2934.8" y="1865.2" text-anchor="middle">60</text>
<text x="3113.7" y="1865.2" text-anchor="middle">70</text>
<text class="lab" x="2487.6" y="1934.2" text-anchor="middle">Time (Day)</text>
<text class="cap" x="2482.6" y="1996.5" text-anchor="middle">(d)</text>
<text transform="translate(1701.5,1438.9) rotate(-90)" class="lab" text-anchor="middle">Relative time delay of Zhengzhou (ns)</text>
</svg></body></html>
